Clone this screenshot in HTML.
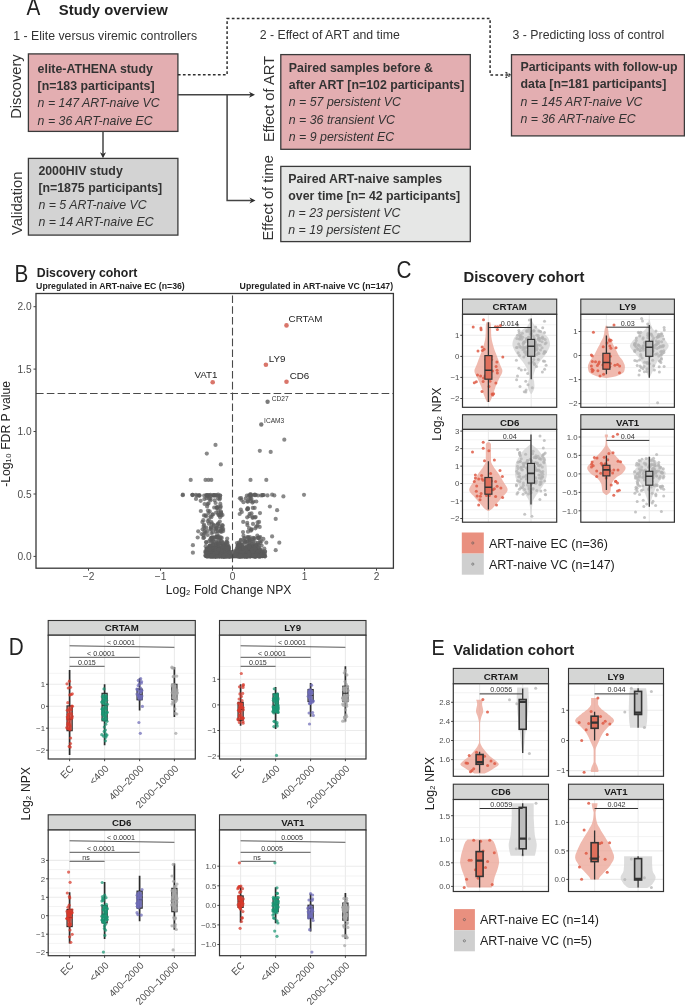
<!DOCTYPE html>
<html><head><meta charset="utf-8"><style>
html,body{margin:0;padding:0;background:#fff;}
svg{display:block;font-family:"Liberation Sans", sans-serif;will-change:transform;}
</style></head><body>
<svg width="685" height="1005" viewBox="0 0 685 1005">
<rect width="685" height="1005" fill="#fff"/>
<text transform="translate(26.6 15.3) scale(0.9 1)" font-size="23" fill="#222">A</text>
<text x="58.8" y="15.4" font-size="14.85" font-weight="bold" fill="#222">Study overview</text>
<text x="13.3" y="40.0" font-size="12.3" fill="#333333">1 - Elite versus viremic controllers</text>
<text x="259.7" y="38.9" font-size="12.3" fill="#333333">2 - Effect of ART and time</text>
<text x="512.6" y="38.6" font-size="12.3" fill="#333333">3 - Predicting loss of control</text>
<rect x="28.4" y="53.9" width="149.5" height="77.5" fill="#e3aeb1" stroke="#3a3a3a" stroke-width="1.3"/>
<text x="37.6" y="72.6" font-size="12.35" font-weight="bold" fill="#333333">elite-ATHENA study</text>
<text x="37.6" y="89.9" font-size="12.35" font-weight="bold" fill="#333333">[n=183 participants]</text>
<text x="37.6" y="107.3" font-size="12.35" font-style="italic" fill="#333333">n = 147 ART-naive VC</text>
<text x="37.6" y="124.6" font-size="12.35" font-style="italic" fill="#333333">n = 36 ART-naive EC</text>
<rect x="28.4" y="158.4" width="149.5" height="76.7" fill="#d3d3d3" stroke="#3a3a3a" stroke-width="1.3"/>
<text x="38.4" y="175.0" font-size="12.35" font-weight="bold" fill="#333333">2000HIV study</text>
<text x="38.4" y="191.9" font-size="12.35" font-weight="bold" fill="#333333">[n=1875 participants]</text>
<text x="38.4" y="209.0" font-size="12.35" font-style="italic" fill="#333333">n = 5 ART-naive VC</text>
<text x="38.4" y="226.2" font-size="12.35" font-style="italic" fill="#333333">n = 14 ART-naive EC</text>
<rect x="280.8" y="54.6" width="189.5" height="94.7" fill="#e3aeb1" stroke="#3a3a3a" stroke-width="1.3"/>
<text x="288.8" y="72.1" font-size="12.35" font-weight="bold" fill="#333333">Paired samples before &amp;</text>
<text x="288.8" y="89.3" font-size="12.35" font-weight="bold" fill="#333333">after ART [n=102 participants]</text>
<text x="288.8" y="106.4" font-size="12.35" font-style="italic" fill="#333333">n = 57 persistent VC</text>
<text x="288.8" y="123.5" font-size="12.35" font-style="italic" fill="#333333">n = 36 transient VC</text>
<text x="288.8" y="140.6" font-size="12.35" font-style="italic" fill="#333333">n = 9 persistent EC</text>
<rect x="280.8" y="166.4" width="189.5" height="75.2" fill="#e6e7e6" stroke="#3a3a3a" stroke-width="1.3"/>
<text x="288.3" y="182.7" font-size="12.35" font-weight="bold" fill="#333333">Paired ART-naive samples</text>
<text x="288.3" y="199.8" font-size="12.35" font-weight="bold" fill="#333333">over time [n= 42 participants]</text>
<text x="288.3" y="216.9" font-size="12.35" font-style="italic" fill="#333333">n = 23 persistent VC</text>
<text x="288.3" y="234.3" font-size="12.35" font-style="italic" fill="#333333">n = 19 persistent EC</text>
<rect x="511.5" y="54.7" width="172.9" height="81.2" fill="#e3aeb1" stroke="#3a3a3a" stroke-width="1.3"/>
<text x="520.5" y="70.5" font-size="12.35" font-weight="bold" fill="#333333">Participants with follow-up</text>
<text x="520.5" y="88.0" font-size="12.35" font-weight="bold" fill="#333333">data [n=181 participants]</text>
<text x="520.5" y="105.5" font-size="12.35" font-style="italic" fill="#333333">n = 145 ART-naive VC</text>
<text x="520.5" y="122.7" font-size="12.35" font-style="italic" fill="#333333">n = 36 ART-naive EC</text>
<text x="21.3" y="86.6" font-size="14.7" text-anchor="middle" fill="#333333" transform="rotate(-90 21.3 86.6)">Discovery</text>
<text x="21.8" y="203.3" font-size="14.7" text-anchor="middle" fill="#333333" transform="rotate(-90 21.8 203.3)">Validation</text>
<text x="274.0" y="99.0" font-size="14.7" text-anchor="middle" fill="#333333" transform="rotate(-90 274.0 99.0)">Effect of ART</text>
<text x="273.3" y="197.7" font-size="14.7" text-anchor="middle" fill="#333333" transform="rotate(-90 273.3 197.7)">Effect of time</text>
<line x1="103.0" y1="131.4" x2="103.0" y2="155.0" stroke="#444" stroke-width="1.5"/>
<polygon points="103.0,158.2 100.0,152.2 103.0,154.0 106.0,152.2" fill="#2e2e2e"/>
<polyline points="177.9,94.8 251.0,94.8" fill="none" stroke="#444" stroke-width="1.5"/>
<polygon points="255.0,94.8 249.0,91.8 250.8,94.8 249.0,97.8" fill="#2e2e2e"/>
<polyline points="227.1,94.8 227.1,200.6 251.5,200.6" fill="none" stroke="#444" stroke-width="1.5"/>
<polygon points="255.5,200.6 249.5,197.6 251.3,200.6 249.5,203.6" fill="#2e2e2e"/>
<polyline points="177.9,74.7 227.1,74.7 227.1,18.6 490.1,18.6 490.1,75.0 510.3,75.0" fill="none" stroke="#2e2e2e" stroke-width="1.5" stroke-dasharray="2.7,2.3"/>
<polyline points="505.5,72.3 510.9,75.0 505.5,77.7" fill="none" stroke="#2e2e2e" stroke-width="1.4" stroke-dasharray="2.2,1.2"/>
<text transform="translate(14.4 281.6) scale(0.9 1)" font-size="23" fill="#222">B</text>
<text x="36.8" y="277.0" font-size="12.3" font-weight="bold" fill="#222">Discovery cohort</text>
<text x="36.1" y="289.1" font-size="8.72" font-weight="bold" fill="#222">Upregulated in ART-naive EC (n=36)</text>
<text x="393.1" y="289.1" font-size="8.72" font-weight="bold" text-anchor="end" fill="#222">Upregulated in ART-naive VC (n=147)</text>
<g fill="#5c5c5c" fill-opacity="0.72"><circle cx="247.4" cy="554.3" r="2.1"/><circle cx="251.0" cy="551.8" r="2.1"/><circle cx="255.7" cy="546.3" r="2.1"/><circle cx="218.8" cy="554.4" r="2.1"/><circle cx="229.5" cy="556.4" r="2.1"/><circle cx="220.9" cy="552.0" r="2.1"/><circle cx="258.8" cy="544.8" r="2.1"/><circle cx="247.4" cy="556.1" r="2.1"/><circle cx="248.8" cy="551.3" r="2.1"/><circle cx="209.7" cy="549.7" r="2.1"/><circle cx="258.1" cy="555.7" r="2.1"/><circle cx="221.6" cy="555.7" r="2.1"/><circle cx="255.7" cy="556.1" r="2.1"/><circle cx="249.6" cy="555.8" r="2.1"/><circle cx="256.0" cy="549.7" r="2.1"/><circle cx="242.6" cy="556.0" r="2.1"/><circle cx="222.4" cy="548.5" r="2.1"/><circle cx="233.9" cy="555.5" r="2.1"/><circle cx="226.5" cy="555.7" r="2.1"/><circle cx="215.5" cy="555.9" r="2.1"/><circle cx="227.5" cy="550.5" r="2.1"/><circle cx="244.7" cy="555.8" r="2.1"/><circle cx="207.8" cy="556.4" r="2.1"/><circle cx="261.6" cy="545.5" r="2.1"/><circle cx="252.6" cy="550.8" r="2.1"/><circle cx="253.3" cy="555.7" r="2.1"/><circle cx="223.6" cy="556.4" r="2.1"/><circle cx="217.0" cy="549.3" r="2.1"/><circle cx="252.4" cy="553.0" r="2.1"/><circle cx="237.9" cy="545.3" r="2.1"/><circle cx="249.0" cy="544.1" r="2.1"/><circle cx="236.6" cy="549.1" r="2.1"/><circle cx="245.3" cy="555.9" r="2.1"/><circle cx="254.1" cy="556.0" r="2.1"/><circle cx="241.6" cy="556.1" r="2.1"/><circle cx="222.1" cy="541.7" r="2.1"/><circle cx="220.2" cy="555.8" r="2.1"/><circle cx="244.6" cy="556.2" r="2.1"/><circle cx="260.5" cy="555.9" r="2.1"/><circle cx="256.2" cy="556.4" r="2.1"/><circle cx="252.1" cy="553.9" r="2.1"/><circle cx="253.9" cy="549.2" r="2.1"/><circle cx="212.2" cy="556.0" r="2.1"/><circle cx="212.2" cy="552.6" r="2.1"/><circle cx="259.9" cy="554.7" r="2.1"/><circle cx="254.7" cy="550.6" r="2.1"/><circle cx="215.3" cy="549.0" r="2.1"/><circle cx="223.3" cy="556.2" r="2.1"/><circle cx="261.9" cy="552.3" r="2.1"/><circle cx="209.8" cy="545.3" r="2.1"/><circle cx="250.2" cy="556.0" r="2.1"/><circle cx="206.4" cy="542.4" r="2.1"/><circle cx="235.5" cy="556.0" r="2.1"/><circle cx="222.1" cy="556.0" r="2.1"/><circle cx="245.4" cy="548.3" r="2.1"/><circle cx="252.8" cy="545.6" r="2.1"/><circle cx="244.3" cy="555.1" r="2.1"/><circle cx="244.0" cy="550.4" r="2.1"/><circle cx="226.9" cy="554.2" r="2.1"/><circle cx="213.2" cy="543.9" r="2.1"/><circle cx="248.0" cy="552.6" r="2.1"/><circle cx="260.2" cy="556.3" r="2.1"/><circle cx="249.9" cy="550.0" r="2.1"/><circle cx="247.0" cy="552.0" r="2.1"/><circle cx="256.3" cy="549.2" r="2.1"/><circle cx="208.8" cy="556.0" r="2.1"/><circle cx="247.5" cy="550.4" r="2.1"/><circle cx="234.9" cy="556.1" r="2.1"/><circle cx="206.3" cy="555.7" r="2.1"/><circle cx="210.0" cy="546.4" r="2.1"/><circle cx="247.5" cy="537.0" r="2.1"/><circle cx="259.0" cy="555.9" r="2.1"/><circle cx="213.1" cy="556.2" r="2.1"/><circle cx="246.9" cy="555.7" r="2.1"/><circle cx="217.3" cy="548.6" r="2.1"/><circle cx="223.8" cy="554.6" r="2.1"/><circle cx="222.2" cy="551.8" r="2.1"/><circle cx="224.4" cy="556.2" r="2.1"/><circle cx="214.9" cy="556.1" r="2.1"/><circle cx="255.1" cy="554.6" r="2.1"/><circle cx="234.3" cy="555.9" r="2.1"/><circle cx="243.8" cy="556.2" r="2.1"/><circle cx="239.0" cy="546.9" r="2.1"/><circle cx="239.7" cy="555.9" r="2.1"/><circle cx="221.4" cy="556.3" r="2.1"/><circle cx="228.7" cy="548.9" r="2.1"/><circle cx="224.6" cy="555.8" r="2.1"/><circle cx="215.1" cy="556.3" r="2.1"/><circle cx="246.0" cy="547.9" r="2.1"/><circle cx="246.7" cy="541.7" r="2.1"/><circle cx="224.1" cy="549.2" r="2.1"/><circle cx="227.8" cy="553.9" r="2.1"/><circle cx="215.8" cy="556.2" r="2.1"/><circle cx="218.5" cy="551.3" r="2.1"/><circle cx="227.3" cy="549.5" r="2.1"/><circle cx="262.4" cy="556.0" r="2.1"/><circle cx="241.1" cy="544.1" r="2.1"/><circle cx="215.0" cy="556.0" r="2.1"/><circle cx="241.5" cy="550.9" r="2.1"/><circle cx="218.5" cy="555.9" r="2.1"/><circle cx="214.1" cy="556.1" r="2.1"/><circle cx="242.6" cy="551.3" r="2.1"/><circle cx="219.9" cy="550.8" r="2.1"/><circle cx="205.9" cy="556.1" r="2.1"/><circle cx="228.3" cy="555.8" r="2.1"/><circle cx="258.6" cy="556.3" r="2.1"/><circle cx="222.9" cy="556.0" r="2.1"/><circle cx="215.7" cy="555.7" r="2.1"/><circle cx="259.9" cy="556.3" r="2.1"/><circle cx="257.0" cy="555.5" r="2.1"/><circle cx="226.4" cy="556.2" r="2.1"/><circle cx="222.7" cy="554.2" r="2.1"/><circle cx="208.3" cy="554.1" r="2.1"/><circle cx="251.7" cy="541.6" r="2.1"/><circle cx="218.9" cy="547.1" r="2.1"/><circle cx="229.2" cy="555.8" r="2.1"/><circle cx="221.6" cy="555.7" r="2.1"/><circle cx="262.6" cy="556.1" r="2.1"/><circle cx="213.8" cy="552.8" r="2.1"/><circle cx="262.8" cy="553.3" r="2.1"/><circle cx="223.5" cy="556.4" r="2.1"/><circle cx="218.6" cy="556.4" r="2.1"/><circle cx="225.2" cy="555.7" r="2.1"/><circle cx="225.9" cy="556.4" r="2.1"/><circle cx="258.2" cy="556.2" r="2.1"/><circle cx="254.4" cy="556.2" r="2.1"/><circle cx="235.9" cy="555.7" r="2.1"/><circle cx="243.5" cy="548.4" r="2.1"/><circle cx="241.2" cy="550.9" r="2.1"/><circle cx="248.3" cy="545.8" r="2.1"/><circle cx="233.4" cy="556.4" r="2.1"/><circle cx="240.5" cy="553.0" r="2.1"/><circle cx="238.8" cy="547.5" r="2.1"/><circle cx="253.1" cy="556.0" r="2.1"/><circle cx="242.5" cy="556.2" r="2.1"/><circle cx="223.4" cy="548.1" r="2.1"/><circle cx="237.8" cy="555.8" r="2.1"/><circle cx="249.9" cy="555.8" r="2.1"/><circle cx="219.3" cy="539.5" r="2.1"/><circle cx="240.0" cy="555.7" r="2.1"/><circle cx="255.5" cy="556.0" r="2.1"/><circle cx="253.7" cy="556.4" r="2.1"/><circle cx="214.9" cy="550.2" r="2.1"/><circle cx="239.8" cy="555.9" r="2.1"/><circle cx="245.1" cy="542.9" r="2.1"/><circle cx="241.2" cy="556.3" r="2.1"/><circle cx="218.0" cy="555.8" r="2.1"/><circle cx="257.8" cy="543.2" r="2.1"/><circle cx="259.8" cy="556.1" r="2.1"/><circle cx="233.9" cy="555.9" r="2.1"/><circle cx="210.9" cy="555.7" r="2.1"/><circle cx="255.6" cy="555.7" r="2.1"/><circle cx="250.1" cy="556.1" r="2.1"/><circle cx="222.9" cy="555.6" r="2.1"/><circle cx="246.5" cy="556.3" r="2.1"/><circle cx="208.9" cy="550.5" r="2.1"/><circle cx="214.7" cy="547.5" r="2.1"/><circle cx="244.1" cy="556.2" r="2.1"/><circle cx="217.5" cy="556.1" r="2.1"/><circle cx="260.8" cy="556.3" r="2.1"/><circle cx="205.6" cy="551.0" r="2.1"/><circle cx="258.4" cy="548.5" r="2.1"/><circle cx="220.6" cy="555.8" r="2.1"/><circle cx="221.9" cy="551.8" r="2.1"/><circle cx="244.5" cy="550.0" r="2.1"/><circle cx="224.8" cy="544.1" r="2.1"/><circle cx="210.5" cy="556.0" r="2.1"/><circle cx="213.5" cy="553.9" r="2.1"/><circle cx="216.5" cy="542.3" r="2.1"/><circle cx="247.5" cy="552.7" r="2.1"/><circle cx="226.5" cy="550.2" r="2.1"/><circle cx="239.2" cy="543.4" r="2.1"/><circle cx="215.3" cy="550.2" r="2.1"/><circle cx="223.0" cy="556.0" r="2.1"/><circle cx="213.4" cy="545.0" r="2.1"/><circle cx="219.1" cy="551.6" r="2.1"/><circle cx="244.4" cy="555.4" r="2.1"/><circle cx="243.6" cy="551.4" r="2.1"/><circle cx="229.1" cy="553.0" r="2.1"/><circle cx="236.9" cy="553.0" r="2.1"/><circle cx="214.5" cy="549.5" r="2.1"/><circle cx="257.7" cy="551.1" r="2.1"/><circle cx="226.4" cy="555.8" r="2.1"/><circle cx="206.7" cy="548.5" r="2.1"/><circle cx="220.7" cy="550.1" r="2.1"/><circle cx="249.2" cy="555.8" r="2.1"/><circle cx="218.1" cy="549.6" r="2.1"/><circle cx="205.4" cy="551.9" r="2.1"/><circle cx="225.1" cy="555.9" r="2.1"/><circle cx="217.7" cy="544.3" r="2.1"/><circle cx="227.3" cy="546.4" r="2.1"/><circle cx="226.0" cy="555.8" r="2.1"/><circle cx="238.8" cy="542.5" r="2.1"/><circle cx="212.9" cy="551.3" r="2.1"/><circle cx="209.2" cy="546.5" r="2.1"/><circle cx="207.0" cy="551.6" r="2.1"/><circle cx="240.9" cy="540.4" r="2.1"/><circle cx="255.4" cy="549.2" r="2.1"/><circle cx="215.5" cy="556.0" r="2.1"/><circle cx="249.9" cy="544.8" r="2.1"/><circle cx="226.8" cy="549.0" r="2.1"/><circle cx="255.6" cy="556.2" r="2.1"/><circle cx="247.9" cy="555.7" r="2.1"/><circle cx="221.0" cy="556.1" r="2.1"/><circle cx="255.1" cy="556.4" r="2.1"/><circle cx="237.9" cy="555.3" r="2.1"/><circle cx="260.1" cy="550.8" r="2.1"/><circle cx="213.0" cy="556.3" r="2.1"/><circle cx="222.6" cy="551.3" r="2.1"/><circle cx="231.2" cy="554.5" r="2.1"/><circle cx="218.9" cy="548.6" r="2.1"/><circle cx="244.4" cy="549.6" r="2.1"/><circle cx="229.7" cy="556.3" r="2.1"/><circle cx="214.5" cy="553.2" r="2.1"/><circle cx="214.1" cy="555.7" r="2.1"/><circle cx="215.4" cy="556.3" r="2.1"/><circle cx="242.4" cy="556.3" r="2.1"/><circle cx="258.0" cy="555.8" r="2.1"/><circle cx="216.6" cy="543.5" r="2.1"/><circle cx="210.5" cy="555.8" r="2.1"/><circle cx="218.0" cy="549.4" r="2.1"/><circle cx="215.4" cy="555.8" r="2.1"/><circle cx="250.7" cy="556.2" r="2.1"/><circle cx="228.0" cy="556.0" r="2.1"/><circle cx="215.0" cy="556.1" r="2.1"/><circle cx="216.6" cy="546.4" r="2.1"/><circle cx="249.5" cy="540.0" r="2.1"/><circle cx="234.1" cy="556.2" r="2.1"/><circle cx="244.2" cy="556.1" r="2.1"/><circle cx="221.1" cy="551.1" r="2.1"/><circle cx="249.0" cy="555.9" r="2.1"/><circle cx="254.6" cy="556.1" r="2.1"/><circle cx="221.6" cy="551.5" r="2.1"/><circle cx="216.0" cy="547.9" r="2.1"/><circle cx="223.1" cy="556.3" r="2.1"/><circle cx="215.6" cy="556.0" r="2.1"/><circle cx="231.3" cy="556.2" r="2.1"/><circle cx="236.5" cy="555.8" r="2.1"/><circle cx="213.1" cy="550.1" r="2.1"/><circle cx="223.3" cy="550.5" r="2.1"/><circle cx="228.2" cy="556.2" r="2.1"/><circle cx="210.8" cy="556.0" r="2.1"/><circle cx="209.2" cy="541.1" r="2.1"/><circle cx="241.6" cy="555.7" r="2.1"/><circle cx="228.7" cy="555.7" r="2.1"/><circle cx="231.3" cy="554.3" r="2.1"/><circle cx="210.5" cy="551.4" r="2.1"/><circle cx="248.7" cy="555.8" r="2.1"/><circle cx="265.1" cy="556.3" r="2.1"/><circle cx="227.4" cy="547.7" r="2.1"/><circle cx="250.1" cy="556.2" r="2.1"/><circle cx="225.6" cy="552.7" r="2.1"/><circle cx="223.1" cy="555.7" r="2.1"/><circle cx="209.5" cy="555.7" r="2.1"/><circle cx="253.7" cy="555.9" r="2.1"/><circle cx="234.1" cy="556.0" r="2.1"/><circle cx="257.3" cy="555.7" r="2.1"/><circle cx="246.7" cy="556.1" r="2.1"/><circle cx="207.7" cy="555.6" r="2.1"/><circle cx="223.7" cy="547.4" r="2.1"/><circle cx="247.6" cy="541.1" r="2.1"/><circle cx="252.1" cy="555.1" r="2.1"/><circle cx="212.8" cy="556.2" r="2.1"/><circle cx="242.5" cy="556.1" r="2.1"/><circle cx="253.5" cy="554.7" r="2.1"/><circle cx="213.3" cy="555.8" r="2.1"/><circle cx="244.2" cy="551.1" r="2.1"/><circle cx="255.4" cy="551.4" r="2.1"/><circle cx="209.0" cy="554.4" r="2.1"/><circle cx="221.2" cy="545.8" r="2.1"/><circle cx="250.7" cy="555.8" r="2.1"/><circle cx="220.5" cy="556.0" r="2.1"/><circle cx="210.1" cy="555.8" r="2.1"/><circle cx="255.9" cy="556.3" r="2.1"/><circle cx="209.1" cy="556.1" r="2.1"/><circle cx="247.5" cy="555.6" r="2.1"/><circle cx="245.4" cy="541.9" r="2.1"/><circle cx="221.7" cy="556.3" r="2.1"/><circle cx="240.2" cy="554.2" r="2.1"/><circle cx="221.8" cy="556.0" r="2.1"/><circle cx="242.4" cy="546.8" r="2.1"/><circle cx="239.4" cy="555.7" r="2.1"/><circle cx="243.8" cy="551.1" r="2.1"/><circle cx="219.7" cy="554.5" r="2.1"/><circle cx="225.9" cy="547.0" r="2.1"/><circle cx="249.9" cy="552.4" r="2.1"/><circle cx="254.0" cy="555.8" r="2.1"/><circle cx="235.1" cy="555.8" r="2.1"/><circle cx="209.8" cy="555.8" r="2.1"/><circle cx="205.7" cy="546.2" r="2.1"/><circle cx="249.7" cy="540.6" r="2.1"/><circle cx="239.5" cy="555.7" r="2.1"/><circle cx="255.4" cy="555.9" r="2.1"/><circle cx="257.1" cy="552.5" r="2.1"/><circle cx="234.8" cy="556.0" r="2.1"/><circle cx="227.4" cy="542.4" r="2.1"/><circle cx="236.4" cy="556.0" r="2.1"/><circle cx="229.9" cy="555.8" r="2.1"/><circle cx="219.1" cy="555.5" r="2.1"/><circle cx="212.8" cy="556.2" r="2.1"/><circle cx="251.4" cy="556.0" r="2.1"/><circle cx="242.2" cy="550.7" r="2.1"/><circle cx="257.3" cy="555.7" r="2.1"/><circle cx="252.5" cy="555.7" r="2.1"/><circle cx="221.8" cy="556.3" r="2.1"/><circle cx="236.3" cy="555.7" r="2.1"/><circle cx="258.4" cy="552.9" r="2.1"/><circle cx="216.3" cy="552.9" r="2.1"/><circle cx="215.4" cy="556.2" r="2.1"/><circle cx="229.9" cy="555.7" r="2.1"/><circle cx="223.1" cy="556.0" r="2.1"/><circle cx="260.3" cy="555.2" r="2.1"/><circle cx="222.2" cy="556.2" r="2.1"/><circle cx="248.8" cy="553.8" r="2.1"/><circle cx="256.7" cy="552.9" r="2.1"/><circle cx="260.0" cy="554.7" r="2.1"/><circle cx="217.4" cy="555.8" r="2.1"/><circle cx="207.8" cy="555.8" r="2.1"/><circle cx="249.8" cy="546.0" r="2.1"/><circle cx="235.8" cy="556.4" r="2.1"/><circle cx="262.6" cy="556.0" r="2.1"/><circle cx="253.7" cy="545.5" r="2.1"/><circle cx="243.7" cy="555.8" r="2.1"/><circle cx="215.8" cy="555.8" r="2.1"/><circle cx="238.5" cy="554.3" r="2.1"/><circle cx="212.9" cy="556.4" r="2.1"/><circle cx="245.6" cy="553.4" r="2.1"/><circle cx="239.8" cy="555.9" r="2.1"/><circle cx="248.2" cy="555.9" r="2.1"/><circle cx="240.5" cy="553.6" r="2.1"/><circle cx="207.2" cy="552.8" r="2.1"/><circle cx="250.6" cy="553.5" r="2.1"/><circle cx="215.2" cy="556.3" r="2.1"/><circle cx="229.0" cy="554.6" r="2.1"/><circle cx="241.2" cy="548.3" r="2.1"/><circle cx="237.8" cy="545.8" r="2.1"/><circle cx="234.9" cy="553.9" r="2.1"/><circle cx="226.7" cy="549.9" r="2.1"/><circle cx="259.8" cy="551.4" r="2.1"/><circle cx="252.7" cy="546.7" r="2.1"/><circle cx="223.7" cy="552.5" r="2.1"/><circle cx="219.1" cy="550.3" r="2.1"/><circle cx="258.4" cy="551.3" r="2.1"/><circle cx="248.8" cy="555.8" r="2.1"/><circle cx="257.2" cy="552.0" r="2.1"/><circle cx="248.3" cy="555.8" r="2.1"/><circle cx="223.9" cy="555.8" r="2.1"/><circle cx="254.8" cy="556.3" r="2.1"/><circle cx="244.1" cy="551.1" r="2.1"/><circle cx="220.1" cy="554.5" r="2.1"/><circle cx="244.9" cy="541.2" r="2.1"/><circle cx="252.8" cy="547.4" r="2.1"/><circle cx="214.6" cy="550.2" r="2.1"/><circle cx="208.0" cy="555.9" r="2.1"/><circle cx="254.4" cy="552.0" r="2.1"/><circle cx="216.9" cy="548.0" r="2.1"/><circle cx="246.1" cy="556.3" r="2.1"/><circle cx="243.0" cy="555.6" r="2.1"/><circle cx="241.4" cy="555.8" r="2.1"/><circle cx="241.9" cy="553.8" r="2.1"/><circle cx="261.2" cy="552.1" r="2.1"/><circle cx="237.2" cy="551.1" r="2.1"/><circle cx="240.6" cy="544.7" r="2.1"/><circle cx="217.6" cy="552.7" r="2.1"/><circle cx="226.2" cy="556.3" r="2.1"/><circle cx="220.9" cy="549.5" r="2.1"/><circle cx="221.2" cy="550.8" r="2.1"/><circle cx="223.0" cy="544.3" r="2.1"/><circle cx="258.6" cy="547.4" r="2.1"/><circle cx="254.8" cy="555.7" r="2.1"/><circle cx="219.0" cy="548.5" r="2.1"/><circle cx="233.9" cy="555.9" r="2.1"/><circle cx="237.9" cy="551.6" r="2.1"/><circle cx="210.6" cy="548.9" r="2.1"/><circle cx="211.6" cy="547.0" r="2.1"/><circle cx="230.0" cy="556.0" r="2.1"/><circle cx="225.2" cy="545.1" r="2.1"/><circle cx="230.1" cy="555.9" r="2.1"/><circle cx="263.5" cy="554.3" r="2.1"/><circle cx="240.6" cy="556.0" r="2.1"/><circle cx="210.1" cy="555.8" r="2.1"/><circle cx="249.9" cy="555.4" r="2.1"/><circle cx="220.5" cy="550.2" r="2.1"/><circle cx="219.4" cy="551.0" r="2.1"/><circle cx="218.1" cy="554.8" r="2.1"/><circle cx="211.8" cy="548.6" r="2.1"/><circle cx="256.6" cy="555.8" r="2.1"/><circle cx="241.5" cy="556.1" r="2.1"/><circle cx="253.0" cy="542.2" r="2.1"/><circle cx="222.0" cy="555.2" r="2.1"/><circle cx="234.9" cy="551.9" r="2.1"/><circle cx="209.8" cy="546.2" r="2.1"/><circle cx="213.1" cy="552.0" r="2.1"/><circle cx="242.8" cy="552.8" r="2.1"/><circle cx="219.9" cy="556.3" r="2.1"/><circle cx="245.2" cy="555.7" r="2.1"/><circle cx="226.4" cy="542.3" r="2.1"/><circle cx="241.9" cy="555.5" r="2.1"/><circle cx="237.5" cy="551.0" r="2.1"/><circle cx="257.2" cy="552.8" r="2.1"/><circle cx="239.3" cy="556.2" r="2.1"/><circle cx="259.7" cy="556.1" r="2.1"/><circle cx="236.5" cy="556.2" r="2.1"/><circle cx="243.3" cy="556.2" r="2.1"/><circle cx="217.9" cy="548.9" r="2.1"/><circle cx="237.0" cy="555.8" r="2.1"/><circle cx="264.3" cy="548.5" r="2.1"/><circle cx="213.6" cy="555.8" r="2.1"/><circle cx="243.0" cy="554.6" r="2.1"/><circle cx="257.6" cy="556.0" r="2.1"/><circle cx="253.0" cy="539.5" r="2.1"/><circle cx="218.4" cy="554.4" r="2.1"/><circle cx="244.1" cy="555.3" r="2.1"/><circle cx="212.0" cy="550.9" r="2.1"/><circle cx="258.9" cy="551.2" r="2.1"/><circle cx="213.8" cy="548.0" r="2.1"/><circle cx="217.0" cy="547.7" r="2.1"/><circle cx="248.7" cy="551.1" r="2.1"/><circle cx="229.2" cy="552.6" r="2.1"/><circle cx="224.6" cy="556.4" r="2.1"/><circle cx="222.6" cy="546.2" r="2.1"/><circle cx="211.3" cy="541.7" r="2.1"/><circle cx="225.1" cy="556.3" r="2.1"/><circle cx="216.4" cy="541.1" r="2.1"/><circle cx="218.2" cy="546.7" r="2.1"/><circle cx="219.0" cy="542.7" r="2.1"/><circle cx="216.0" cy="544.4" r="2.1"/><circle cx="244.2" cy="554.1" r="2.1"/><circle cx="206.0" cy="552.8" r="2.1"/><circle cx="208.6" cy="548.0" r="2.1"/><circle cx="220.4" cy="551.7" r="2.1"/><circle cx="227.9" cy="550.6" r="2.1"/><circle cx="213.8" cy="537.5" r="2.1"/><circle cx="245.7" cy="547.5" r="2.1"/><circle cx="224.2" cy="556.0" r="2.1"/><circle cx="239.7" cy="555.4" r="2.1"/><circle cx="229.3" cy="555.1" r="2.1"/><circle cx="239.2" cy="548.5" r="2.1"/><circle cx="249.7" cy="552.8" r="2.1"/><circle cx="227.1" cy="550.3" r="2.1"/><circle cx="217.7" cy="555.9" r="2.1"/><circle cx="250.8" cy="548.9" r="2.1"/><circle cx="216.7" cy="555.7" r="2.1"/><circle cx="217.2" cy="547.8" r="2.1"/><circle cx="228.4" cy="546.2" r="2.1"/><circle cx="229.0" cy="556.2" r="2.1"/><circle cx="214.3" cy="551.0" r="2.1"/><circle cx="213.1" cy="555.8" r="2.1"/><circle cx="238.1" cy="556.2" r="2.1"/><circle cx="244.5" cy="554.0" r="2.1"/><circle cx="235.0" cy="555.8" r="2.1"/><circle cx="260.2" cy="549.9" r="2.1"/><circle cx="223.4" cy="556.3" r="2.1"/><circle cx="242.3" cy="551.1" r="2.1"/><circle cx="223.7" cy="545.8" r="2.1"/><circle cx="245.9" cy="550.1" r="2.1"/><circle cx="216.3" cy="556.0" r="2.1"/><circle cx="262.8" cy="554.2" r="2.1"/><circle cx="223.1" cy="552.8" r="2.1"/><circle cx="220.6" cy="552.9" r="2.1"/><circle cx="206.8" cy="548.6" r="2.1"/><circle cx="223.2" cy="555.1" r="2.1"/><circle cx="253.1" cy="556.1" r="2.1"/><circle cx="234.3" cy="555.1" r="2.1"/><circle cx="237.8" cy="556.3" r="2.1"/><circle cx="221.5" cy="556.1" r="2.1"/><circle cx="217.9" cy="554.5" r="2.1"/><circle cx="264.9" cy="556.3" r="2.1"/><circle cx="225.2" cy="544.8" r="2.1"/><circle cx="239.4" cy="551.5" r="2.1"/><circle cx="242.9" cy="555.9" r="2.1"/><circle cx="237.9" cy="556.3" r="2.1"/><circle cx="244.3" cy="555.8" r="2.1"/><circle cx="249.4" cy="543.1" r="2.1"/><circle cx="221.4" cy="552.9" r="2.1"/><circle cx="215.1" cy="556.0" r="2.1"/><circle cx="218.1" cy="548.4" r="2.1"/><circle cx="260.4" cy="551.9" r="2.1"/><circle cx="209.7" cy="553.5" r="2.1"/><circle cx="246.8" cy="553.3" r="2.1"/><circle cx="217.2" cy="553.3" r="2.1"/><circle cx="210.6" cy="555.7" r="2.1"/><circle cx="247.6" cy="553.1" r="2.1"/><circle cx="218.9" cy="552.4" r="2.1"/><circle cx="223.5" cy="554.7" r="2.1"/><circle cx="240.5" cy="547.4" r="2.1"/><circle cx="245.2" cy="556.3" r="2.1"/><circle cx="221.8" cy="553.7" r="2.1"/><circle cx="250.1" cy="556.3" r="2.1"/><circle cx="212.2" cy="555.8" r="2.1"/><circle cx="257.4" cy="544.6" r="2.1"/><circle cx="217.7" cy="555.7" r="2.1"/><circle cx="206.8" cy="549.4" r="2.1"/><circle cx="223.6" cy="552.8" r="2.1"/><circle cx="220.8" cy="555.7" r="2.1"/><circle cx="223.5" cy="555.8" r="2.1"/><circle cx="262.2" cy="556.2" r="2.1"/><circle cx="225.9" cy="550.4" r="2.1"/><circle cx="230.5" cy="552.0" r="2.1"/><circle cx="224.2" cy="553.8" r="2.1"/><circle cx="213.0" cy="556.4" r="2.1"/><circle cx="224.6" cy="555.4" r="2.1"/><circle cx="213.9" cy="556.2" r="2.1"/><circle cx="229.0" cy="555.8" r="2.1"/><circle cx="221.5" cy="548.4" r="2.1"/><circle cx="238.7" cy="549.8" r="2.1"/><circle cx="240.0" cy="556.3" r="2.1"/><circle cx="252.4" cy="551.2" r="2.1"/><circle cx="229.0" cy="548.9" r="2.1"/><circle cx="249.4" cy="555.9" r="2.1"/><circle cx="246.6" cy="556.1" r="2.1"/><circle cx="219.7" cy="555.2" r="2.1"/><circle cx="220.2" cy="538.5" r="2.1"/><circle cx="223.2" cy="555.7" r="2.1"/><circle cx="262.7" cy="553.3" r="2.1"/><circle cx="222.5" cy="545.3" r="2.1"/><circle cx="239.7" cy="548.0" r="2.1"/><circle cx="216.1" cy="556.2" r="2.1"/><circle cx="230.4" cy="555.7" r="2.1"/><circle cx="250.0" cy="556.3" r="2.1"/><circle cx="216.1" cy="549.3" r="2.1"/><circle cx="259.9" cy="554.3" r="2.1"/><circle cx="221.0" cy="551.7" r="2.1"/><circle cx="249.4" cy="555.7" r="2.1"/><circle cx="242.4" cy="544.6" r="2.1"/><circle cx="220.3" cy="552.5" r="2.1"/><circle cx="218.8" cy="556.0" r="2.1"/><circle cx="216.3" cy="555.9" r="2.1"/><circle cx="239.2" cy="550.0" r="2.1"/><circle cx="249.5" cy="555.9" r="2.1"/><circle cx="229.2" cy="556.3" r="2.1"/><circle cx="255.2" cy="554.9" r="2.1"/><circle cx="225.4" cy="556.2" r="2.1"/><circle cx="214.0" cy="553.5" r="2.1"/><circle cx="224.0" cy="556.3" r="2.1"/><circle cx="256.5" cy="556.1" r="2.1"/><circle cx="227.6" cy="555.8" r="2.1"/><circle cx="238.7" cy="555.9" r="2.1"/><circle cx="226.0" cy="556.0" r="2.1"/><circle cx="242.8" cy="555.9" r="2.1"/><circle cx="213.4" cy="556.0" r="2.1"/><circle cx="219.8" cy="551.9" r="2.1"/><circle cx="243.8" cy="551.1" r="2.1"/><circle cx="250.1" cy="555.8" r="2.1"/><circle cx="244.4" cy="556.2" r="2.1"/><circle cx="227.0" cy="555.8" r="2.1"/><circle cx="253.7" cy="552.4" r="2.1"/><circle cx="238.8" cy="556.4" r="2.1"/><circle cx="215.3" cy="554.9" r="2.1"/><circle cx="213.0" cy="540.7" r="2.1"/><circle cx="206.7" cy="556.3" r="2.1"/><circle cx="241.2" cy="547.9" r="2.1"/><circle cx="259.8" cy="553.5" r="2.1"/><circle cx="239.8" cy="553.6" r="2.1"/><circle cx="254.0" cy="555.9" r="2.1"/><circle cx="251.8" cy="556.2" r="2.1"/><circle cx="249.7" cy="555.8" r="2.1"/><circle cx="247.2" cy="556.3" r="2.1"/><circle cx="220.4" cy="555.0" r="2.1"/><circle cx="216.8" cy="551.3" r="2.1"/><circle cx="248.8" cy="553.1" r="2.1"/><circle cx="222.4" cy="552.9" r="2.1"/><circle cx="230.2" cy="555.8" r="2.1"/><circle cx="210.2" cy="548.4" r="2.1"/><circle cx="216.9" cy="556.2" r="2.1"/><circle cx="242.2" cy="551.0" r="2.1"/><circle cx="211.9" cy="547.8" r="2.1"/><circle cx="240.8" cy="556.2" r="2.1"/><circle cx="221.7" cy="556.0" r="2.1"/><circle cx="253.8" cy="556.0" r="2.1"/><circle cx="212.0" cy="556.1" r="2.1"/><circle cx="253.8" cy="555.7" r="2.1"/><circle cx="247.3" cy="556.4" r="2.1"/><circle cx="225.6" cy="556.1" r="2.1"/><circle cx="239.6" cy="556.4" r="2.1"/><circle cx="230.5" cy="555.9" r="2.1"/><circle cx="255.3" cy="556.2" r="2.1"/><circle cx="244.8" cy="556.4" r="2.1"/><circle cx="215.3" cy="548.7" r="2.1"/><circle cx="248.9" cy="554.8" r="2.1"/><circle cx="250.0" cy="552.0" r="2.1"/><circle cx="222.1" cy="556.0" r="2.1"/><circle cx="222.3" cy="556.0" r="2.1"/><circle cx="261.4" cy="541.2" r="2.1"/><circle cx="217.5" cy="556.2" r="2.1"/><circle cx="227.4" cy="556.1" r="2.1"/><circle cx="223.7" cy="546.3" r="2.1"/><circle cx="217.9" cy="545.0" r="2.1"/><circle cx="223.8" cy="551.1" r="2.1"/><circle cx="226.8" cy="552.1" r="2.1"/><circle cx="223.6" cy="555.7" r="2.1"/><circle cx="221.9" cy="555.8" r="2.1"/><circle cx="223.0" cy="556.1" r="2.1"/><circle cx="225.4" cy="546.8" r="2.1"/><circle cx="220.7" cy="554.1" r="2.1"/><circle cx="248.5" cy="552.8" r="2.1"/><circle cx="210.0" cy="555.8" r="2.1"/><circle cx="210.3" cy="556.4" r="2.1"/><circle cx="223.1" cy="546.0" r="2.1"/><circle cx="244.6" cy="538.4" r="2.1"/><circle cx="240.4" cy="555.9" r="2.1"/><circle cx="250.8" cy="556.0" r="2.1"/><circle cx="206.9" cy="549.0" r="2.1"/><circle cx="216.9" cy="548.6" r="2.1"/><circle cx="212.3" cy="555.4" r="2.1"/><circle cx="224.4" cy="554.4" r="2.1"/><circle cx="234.9" cy="551.1" r="2.1"/><circle cx="228.9" cy="547.4" r="2.1"/><circle cx="217.9" cy="554.9" r="2.1"/><circle cx="254.4" cy="555.7" r="2.1"/><circle cx="229.0" cy="556.3" r="2.1"/><circle cx="228.3" cy="550.0" r="2.1"/><circle cx="250.9" cy="556.1" r="2.1"/><circle cx="253.6" cy="551.4" r="2.1"/><circle cx="215.3" cy="552.4" r="2.1"/><circle cx="222.5" cy="555.8" r="2.1"/><circle cx="245.3" cy="550.3" r="2.1"/><circle cx="224.9" cy="548.5" r="2.1"/><circle cx="210.2" cy="545.6" r="2.1"/><circle cx="221.6" cy="552.2" r="2.1"/><circle cx="234.6" cy="556.0" r="2.1"/><circle cx="239.7" cy="556.1" r="2.1"/><circle cx="251.8" cy="546.8" r="2.1"/><circle cx="214.9" cy="549.3" r="2.1"/><circle cx="227.3" cy="556.3" r="2.1"/><circle cx="248.0" cy="556.3" r="2.1"/><circle cx="211.3" cy="555.9" r="2.1"/><circle cx="248.3" cy="556.2" r="2.1"/><circle cx="224.2" cy="547.2" r="2.1"/><circle cx="247.1" cy="546.9" r="2.1"/><circle cx="216.6" cy="556.3" r="2.1"/><circle cx="215.8" cy="551.7" r="2.1"/><circle cx="229.7" cy="555.8" r="2.1"/><circle cx="248.4" cy="555.2" r="2.1"/><circle cx="224.4" cy="555.3" r="2.1"/><circle cx="242.7" cy="554.7" r="2.1"/><circle cx="238.1" cy="548.4" r="2.1"/><circle cx="242.9" cy="556.0" r="2.1"/><circle cx="263.4" cy="538.9" r="2.1"/><circle cx="252.7" cy="554.3" r="2.1"/><circle cx="244.5" cy="547.1" r="2.1"/><circle cx="217.2" cy="555.9" r="2.1"/><circle cx="205.7" cy="553.1" r="2.1"/><circle cx="211.5" cy="546.0" r="2.1"/><circle cx="216.2" cy="553.9" r="2.1"/><circle cx="220.3" cy="543.1" r="2.1"/><circle cx="258.2" cy="556.2" r="2.1"/><circle cx="243.1" cy="551.4" r="2.1"/><circle cx="250.4" cy="551.4" r="2.1"/><circle cx="231.6" cy="556.4" r="2.1"/><circle cx="211.6" cy="556.3" r="2.1"/><circle cx="227.4" cy="556.2" r="2.1"/><circle cx="251.6" cy="547.2" r="2.1"/><circle cx="224.2" cy="556.1" r="2.1"/><circle cx="213.8" cy="548.0" r="2.1"/><circle cx="213.2" cy="555.7" r="2.1"/><circle cx="209.2" cy="552.6" r="2.1"/><circle cx="226.2" cy="555.7" r="2.1"/><circle cx="253.3" cy="555.7" r="2.1"/><circle cx="223.4" cy="554.2" r="2.1"/><circle cx="219.3" cy="556.2" r="2.1"/><circle cx="208.4" cy="556.3" r="2.1"/><circle cx="239.0" cy="556.4" r="2.1"/><circle cx="225.7" cy="555.7" r="2.1"/><circle cx="225.7" cy="555.7" r="2.1"/><circle cx="213.2" cy="555.9" r="2.1"/><circle cx="210.1" cy="556.1" r="2.1"/><circle cx="255.0" cy="548.5" r="2.1"/><circle cx="220.4" cy="554.1" r="2.1"/><circle cx="228.2" cy="556.2" r="2.1"/><circle cx="216.8" cy="555.8" r="2.1"/><circle cx="240.9" cy="555.7" r="2.1"/><circle cx="240.8" cy="550.4" r="2.1"/><circle cx="258.0" cy="555.7" r="2.1"/><circle cx="250.3" cy="549.4" r="2.1"/><circle cx="229.3" cy="556.3" r="2.1"/><circle cx="228.5" cy="552.6" r="2.1"/><circle cx="224.6" cy="550.7" r="2.1"/><circle cx="258.7" cy="551.7" r="2.1"/><circle cx="246.9" cy="549.2" r="2.1"/><circle cx="240.3" cy="555.8" r="2.1"/><circle cx="207.5" cy="556.2" r="2.1"/><circle cx="227.5" cy="556.2" r="2.1"/><circle cx="220.8" cy="556.2" r="2.1"/><circle cx="265.0" cy="551.6" r="2.1"/><circle cx="263.3" cy="555.9" r="2.1"/><circle cx="219.3" cy="556.3" r="2.1"/><circle cx="205.3" cy="555.6" r="2.1"/><circle cx="244.9" cy="556.1" r="2.1"/><circle cx="247.2" cy="546.0" r="2.1"/><circle cx="252.5" cy="554.6" r="2.1"/><circle cx="255.5" cy="551.0" r="2.1"/><circle cx="227.3" cy="551.3" r="2.1"/><circle cx="212.4" cy="555.8" r="2.1"/><circle cx="253.2" cy="545.9" r="2.1"/><circle cx="207.9" cy="555.7" r="2.1"/><circle cx="226.9" cy="555.6" r="2.1"/><circle cx="240.1" cy="555.2" r="2.1"/><circle cx="245.2" cy="550.8" r="2.1"/><circle cx="259.1" cy="555.9" r="2.1"/><circle cx="239.2" cy="551.8" r="2.1"/><circle cx="226.9" cy="555.7" r="2.1"/><circle cx="247.0" cy="553.1" r="2.1"/><circle cx="239.4" cy="549.3" r="2.1"/><circle cx="224.4" cy="556.2" r="2.1"/><circle cx="210.7" cy="548.4" r="2.1"/><circle cx="240.7" cy="556.2" r="2.1"/><circle cx="230.9" cy="552.0" r="2.1"/><circle cx="246.4" cy="555.7" r="2.1"/><circle cx="220.3" cy="555.7" r="2.1"/><circle cx="227.2" cy="552.6" r="2.1"/><circle cx="218.3" cy="555.8" r="2.1"/><circle cx="252.3" cy="550.5" r="2.1"/><circle cx="249.4" cy="556.1" r="2.1"/><circle cx="214.2" cy="551.7" r="2.1"/><circle cx="243.0" cy="553.2" r="2.1"/><circle cx="216.3" cy="555.9" r="2.1"/><circle cx="226.0" cy="556.2" r="2.1"/><circle cx="252.5" cy="556.1" r="2.1"/><circle cx="218.5" cy="551.1" r="2.1"/><circle cx="240.6" cy="556.4" r="2.1"/><circle cx="224.2" cy="556.2" r="2.1"/><circle cx="218.2" cy="548.7" r="2.1"/><circle cx="257.9" cy="555.8" r="2.1"/><circle cx="225.3" cy="556.1" r="2.1"/><circle cx="235.8" cy="555.8" r="2.1"/><circle cx="224.2" cy="555.7" r="2.1"/><circle cx="229.9" cy="555.7" r="2.1"/><circle cx="245.8" cy="556.4" r="2.1"/><circle cx="207.8" cy="552.7" r="2.1"/><circle cx="256.1" cy="546.3" r="2.1"/><circle cx="235.1" cy="555.7" r="2.1"/><circle cx="247.1" cy="552.2" r="2.1"/><circle cx="249.4" cy="548.9" r="2.1"/><circle cx="225.2" cy="547.8" r="2.1"/><circle cx="244.3" cy="556.3" r="2.1"/><circle cx="238.2" cy="555.7" r="2.1"/><circle cx="253.1" cy="555.6" r="2.1"/><circle cx="227.6" cy="544.7" r="2.1"/><circle cx="251.1" cy="548.9" r="2.1"/><circle cx="237.1" cy="547.6" r="2.1"/><circle cx="226.7" cy="553.6" r="2.1"/><circle cx="221.0" cy="555.7" r="2.1"/><circle cx="241.0" cy="555.3" r="2.1"/><circle cx="229.1" cy="556.2" r="2.1"/><circle cx="218.4" cy="549.8" r="2.1"/><circle cx="249.8" cy="547.1" r="2.1"/><circle cx="243.2" cy="552.6" r="2.1"/><circle cx="236.2" cy="555.2" r="2.1"/><circle cx="256.2" cy="556.0" r="2.1"/><circle cx="222.9" cy="542.9" r="2.1"/><circle cx="238.6" cy="552.8" r="2.1"/><circle cx="254.2" cy="556.3" r="2.1"/><circle cx="245.2" cy="555.0" r="2.1"/><circle cx="210.9" cy="556.3" r="2.1"/><circle cx="254.8" cy="555.1" r="2.1"/><circle cx="230.6" cy="556.3" r="2.1"/><circle cx="237.9" cy="545.0" r="2.1"/><circle cx="224.0" cy="555.9" r="2.1"/><circle cx="254.8" cy="552.6" r="2.1"/><circle cx="211.3" cy="552.4" r="2.1"/><circle cx="215.5" cy="546.3" r="2.1"/><circle cx="240.9" cy="539.9" r="2.1"/><circle cx="226.9" cy="554.6" r="2.1"/><circle cx="241.4" cy="555.9" r="2.1"/><circle cx="237.2" cy="555.7" r="2.1"/><circle cx="242.2" cy="550.2" r="2.1"/><circle cx="222.8" cy="556.2" r="2.1"/><circle cx="230.5" cy="552.3" r="2.1"/><circle cx="255.9" cy="545.1" r="2.1"/><circle cx="260.4" cy="549.9" r="2.1"/><circle cx="206.7" cy="556.2" r="2.1"/><circle cx="211.1" cy="556.4" r="2.1"/><circle cx="211.1" cy="556.4" r="2.1"/><circle cx="254.0" cy="549.5" r="2.1"/><circle cx="209.4" cy="556.0" r="2.1"/><circle cx="230.7" cy="556.3" r="2.1"/><circle cx="260.2" cy="554.1" r="2.1"/><circle cx="218.9" cy="556.2" r="2.1"/><circle cx="224.4" cy="556.2" r="2.1"/><circle cx="238.7" cy="555.1" r="2.1"/><circle cx="208.3" cy="553.2" r="2.1"/><circle cx="252.5" cy="547.3" r="2.1"/><circle cx="242.1" cy="556.3" r="2.1"/><circle cx="213.8" cy="549.4" r="2.1"/><circle cx="236.9" cy="543.0" r="2.1"/><circle cx="215.0" cy="556.0" r="2.1"/><circle cx="217.3" cy="537.0" r="2.1"/><circle cx="216.2" cy="549.1" r="2.1"/><circle cx="250.1" cy="555.9" r="2.1"/><circle cx="259.3" cy="556.4" r="2.1"/><circle cx="218.2" cy="552.2" r="2.1"/><circle cx="248.7" cy="552.9" r="2.1"/><circle cx="260.2" cy="543.2" r="2.1"/><circle cx="210.2" cy="552.2" r="2.1"/><circle cx="223.5" cy="555.8" r="2.1"/><circle cx="213.3" cy="539.4" r="2.1"/><circle cx="227.2" cy="549.1" r="2.1"/><circle cx="213.9" cy="556.3" r="2.1"/><circle cx="237.0" cy="551.2" r="2.1"/><circle cx="226.1" cy="555.7" r="2.1"/><circle cx="262.6" cy="552.1" r="2.1"/><circle cx="218.9" cy="543.4" r="2.1"/><circle cx="242.8" cy="556.0" r="2.1"/><circle cx="250.1" cy="556.1" r="2.1"/><circle cx="219.5" cy="556.3" r="2.1"/><circle cx="228.6" cy="556.0" r="2.1"/><circle cx="209.6" cy="556.3" r="2.1"/><circle cx="221.0" cy="540.9" r="2.1"/><circle cx="231.4" cy="555.9" r="2.1"/><circle cx="242.1" cy="545.7" r="2.1"/><circle cx="215.1" cy="555.1" r="2.1"/><circle cx="237.5" cy="555.8" r="2.1"/><circle cx="260.6" cy="555.4" r="2.1"/><circle cx="263.2" cy="556.0" r="2.1"/><circle cx="220.6" cy="556.1" r="2.1"/><circle cx="243.3" cy="556.2" r="2.1"/><circle cx="246.7" cy="556.3" r="2.1"/><circle cx="239.8" cy="544.5" r="2.1"/><circle cx="221.0" cy="556.3" r="2.1"/><circle cx="249.5" cy="546.2" r="2.1"/><circle cx="227.5" cy="553.5" r="2.1"/><circle cx="216.6" cy="556.3" r="2.1"/><circle cx="242.7" cy="552.6" r="2.1"/><circle cx="257.7" cy="551.0" r="2.1"/><circle cx="255.6" cy="542.7" r="2.1"/><circle cx="248.7" cy="556.0" r="2.1"/><circle cx="249.8" cy="539.0" r="2.1"/><circle cx="228.2" cy="547.4" r="2.1"/><circle cx="220.5" cy="552.7" r="2.1"/><circle cx="263.2" cy="556.1" r="2.1"/><circle cx="244.2" cy="541.4" r="2.1"/><circle cx="217.2" cy="556.1" r="2.1"/><circle cx="252.8" cy="554.5" r="2.1"/><circle cx="256.7" cy="554.2" r="2.1"/><circle cx="226.7" cy="556.3" r="2.1"/><circle cx="241.1" cy="555.8" r="2.1"/><circle cx="252.6" cy="544.1" r="2.1"/><circle cx="264.2" cy="555.6" r="2.1"/><circle cx="240.8" cy="552.1" r="2.1"/><circle cx="222.6" cy="556.2" r="2.1"/><circle cx="263.8" cy="555.8" r="2.1"/><circle cx="247.2" cy="556.1" r="2.1"/><circle cx="214.5" cy="552.8" r="2.1"/><circle cx="243.5" cy="549.3" r="2.1"/><circle cx="236.4" cy="552.9" r="2.1"/><circle cx="248.8" cy="552.8" r="2.1"/><circle cx="226.9" cy="546.7" r="2.1"/><circle cx="249.3" cy="548.0" r="2.1"/><circle cx="239.2" cy="545.2" r="2.1"/><circle cx="259.9" cy="556.0" r="2.1"/><circle cx="214.3" cy="548.3" r="2.1"/><circle cx="245.7" cy="556.0" r="2.1"/><circle cx="226.9" cy="555.7" r="2.1"/><circle cx="259.3" cy="556.2" r="2.1"/><circle cx="241.8" cy="556.0" r="2.1"/><circle cx="221.5" cy="556.0" r="2.1"/><circle cx="208.3" cy="555.0" r="2.1"/><circle cx="250.7" cy="555.7" r="2.1"/><circle cx="215.0" cy="549.4" r="2.1"/><circle cx="221.2" cy="548.0" r="2.1"/><circle cx="246.0" cy="556.2" r="2.1"/><circle cx="256.0" cy="545.3" r="2.1"/><circle cx="240.5" cy="556.4" r="2.1"/><circle cx="213.3" cy="544.4" r="2.1"/><circle cx="254.2" cy="547.9" r="2.1"/><circle cx="226.5" cy="553.7" r="2.1"/><circle cx="240.8" cy="554.0" r="2.1"/><circle cx="227.8" cy="547.4" r="2.1"/><circle cx="243.7" cy="548.0" r="2.1"/><circle cx="215.9" cy="548.8" r="2.1"/><circle cx="227.2" cy="538.6" r="2.1"/><circle cx="224.9" cy="548.6" r="2.1"/><circle cx="222.6" cy="547.4" r="2.1"/><circle cx="212.7" cy="542.1" r="2.1"/><circle cx="263.8" cy="554.1" r="2.1"/><circle cx="215.5" cy="556.3" r="2.1"/><circle cx="207.0" cy="556.1" r="2.1"/><circle cx="210.7" cy="555.7" r="2.1"/><circle cx="224.2" cy="555.8" r="2.1"/><circle cx="235.2" cy="555.4" r="2.1"/><circle cx="253.4" cy="550.1" r="2.1"/><circle cx="244.2" cy="550.9" r="2.1"/><circle cx="215.0" cy="556.3" r="2.1"/><circle cx="239.9" cy="555.7" r="2.1"/><circle cx="228.8" cy="553.0" r="2.1"/><circle cx="249.2" cy="554.2" r="2.1"/><circle cx="248.5" cy="556.2" r="2.1"/><circle cx="251.6" cy="555.9" r="2.1"/><circle cx="249.2" cy="556.1" r="2.1"/><circle cx="212.9" cy="555.1" r="2.1"/><circle cx="219.3" cy="549.9" r="2.1"/><circle cx="223.3" cy="553.9" r="2.1"/><circle cx="209.5" cy="555.7" r="2.1"/><circle cx="211.1" cy="555.9" r="2.1"/><circle cx="221.2" cy="552.7" r="2.1"/><circle cx="259.9" cy="541.3" r="2.1"/><circle cx="247.6" cy="552.5" r="2.1"/><circle cx="226.1" cy="553.0" r="2.1"/><circle cx="261.1" cy="555.7" r="2.1"/><circle cx="252.2" cy="552.3" r="2.1"/><circle cx="210.2" cy="539.6" r="2.1"/><circle cx="263.9" cy="555.7" r="2.1"/><circle cx="227.3" cy="548.9" r="2.1"/><circle cx="262.5" cy="551.2" r="2.1"/><circle cx="234.9" cy="555.9" r="2.1"/><circle cx="209.6" cy="549.2" r="2.1"/><circle cx="242.2" cy="553.8" r="2.1"/><circle cx="215.5" cy="555.9" r="2.1"/><circle cx="207.0" cy="556.1" r="2.1"/><circle cx="255.8" cy="556.2" r="2.1"/><circle cx="246.2" cy="550.0" r="2.1"/><circle cx="261.6" cy="555.9" r="2.1"/><circle cx="217.4" cy="550.9" r="2.1"/><circle cx="247.9" cy="554.1" r="2.1"/><circle cx="236.8" cy="550.7" r="2.1"/><circle cx="242.3" cy="552.7" r="2.1"/><circle cx="241.0" cy="555.8" r="2.1"/><circle cx="220.2" cy="555.9" r="2.1"/><circle cx="248.3" cy="555.7" r="2.1"/><circle cx="215.6" cy="556.2" r="2.1"/><circle cx="259.0" cy="547.7" r="2.1"/><circle cx="214.3" cy="553.9" r="2.1"/><circle cx="251.8" cy="549.9" r="2.1"/><circle cx="243.0" cy="556.1" r="2.1"/><circle cx="225.1" cy="555.7" r="2.1"/><circle cx="261.6" cy="554.6" r="2.1"/><circle cx="221.8" cy="550.2" r="2.1"/><circle cx="255.7" cy="555.9" r="2.1"/><circle cx="252.9" cy="555.4" r="2.1"/><circle cx="228.2" cy="556.2" r="2.1"/><circle cx="255.7" cy="555.1" r="2.1"/><circle cx="239.3" cy="556.3" r="2.1"/><circle cx="245.6" cy="555.8" r="2.1"/><circle cx="216.6" cy="552.4" r="2.1"/><circle cx="225.3" cy="554.2" r="2.1"/><circle cx="254.6" cy="538.8" r="2.1"/><circle cx="255.1" cy="548.5" r="2.1"/><circle cx="261.4" cy="555.6" r="2.1"/><circle cx="249.3" cy="554.4" r="2.1"/><circle cx="219.1" cy="544.1" r="2.1"/><circle cx="217.3" cy="556.4" r="2.1"/><circle cx="249.3" cy="546.8" r="2.1"/><circle cx="218.6" cy="549.6" r="2.1"/><circle cx="235.0" cy="552.8" r="2.1"/><circle cx="223.7" cy="555.9" r="2.1"/><circle cx="226.6" cy="541.7" r="2.1"/><circle cx="206.0" cy="542.1" r="2.1"/><circle cx="253.8" cy="555.6" r="2.1"/><circle cx="240.8" cy="555.7" r="2.1"/><circle cx="216.5" cy="507.4" r="2.1"/><circle cx="212.6" cy="514.7" r="2.1"/><circle cx="204.0" cy="515.4" r="2.1"/><circle cx="217.0" cy="507.8" r="2.1"/><circle cx="210.5" cy="498.8" r="2.1"/><circle cx="216.1" cy="512.6" r="2.1"/><circle cx="207.1" cy="506.4" r="2.1"/><circle cx="215.6" cy="503.0" r="2.1"/><circle cx="220.3" cy="507.9" r="2.1"/><circle cx="220.1" cy="498.1" r="2.1"/><circle cx="205.5" cy="532.1" r="2.1"/><circle cx="218.3" cy="510.4" r="2.1"/><circle cx="203.3" cy="520.2" r="2.1"/><circle cx="221.4" cy="531.8" r="2.1"/><circle cx="204.4" cy="531.1" r="2.1"/><circle cx="216.8" cy="507.6" r="2.1"/><circle cx="204.6" cy="504.0" r="2.1"/><circle cx="222.1" cy="527.6" r="2.1"/><circle cx="210.4" cy="516.5" r="2.1"/><circle cx="218.6" cy="536.1" r="2.1"/><circle cx="206.6" cy="498.2" r="2.1"/><circle cx="214.5" cy="500.3" r="2.1"/><circle cx="223.2" cy="529.0" r="2.1"/><circle cx="213.8" cy="525.7" r="2.1"/><circle cx="219.5" cy="499.4" r="2.1"/><circle cx="210.5" cy="529.0" r="2.1"/><circle cx="216.3" cy="537.0" r="2.1"/><circle cx="217.8" cy="531.0" r="2.1"/><circle cx="214.4" cy="528.9" r="2.1"/><circle cx="207.6" cy="504.1" r="2.1"/><circle cx="204.4" cy="533.7" r="2.1"/><circle cx="220.7" cy="506.4" r="2.1"/><circle cx="218.1" cy="506.9" r="2.1"/><circle cx="210.3" cy="500.4" r="2.1"/><circle cx="208.9" cy="523.7" r="2.1"/><circle cx="203.6" cy="526.1" r="2.1"/><circle cx="221.2" cy="515.4" r="2.1"/><circle cx="216.6" cy="527.5" r="2.1"/><circle cx="208.5" cy="503.4" r="2.1"/><circle cx="217.9" cy="524.2" r="2.1"/><circle cx="220.3" cy="503.9" r="2.1"/><circle cx="221.1" cy="512.7" r="2.1"/><circle cx="200.8" cy="511.0" r="2.1"/><circle cx="219.8" cy="521.5" r="2.1"/><circle cx="219.6" cy="514.5" r="2.1"/><circle cx="217.4" cy="524.9" r="2.1"/><circle cx="209.2" cy="498.7" r="2.1"/><circle cx="205.5" cy="515.3" r="2.1"/><circle cx="211.2" cy="529.6" r="2.1"/><circle cx="207.7" cy="535.0" r="2.1"/><circle cx="219.8" cy="526.4" r="2.1"/><circle cx="220.0" cy="531.5" r="2.1"/><circle cx="208.0" cy="510.5" r="2.1"/><circle cx="216.4" cy="536.8" r="2.1"/><circle cx="220.9" cy="511.6" r="2.1"/><circle cx="207.9" cy="521.2" r="2.1"/><circle cx="220.1" cy="517.2" r="2.1"/><circle cx="208.5" cy="513.1" r="2.1"/><circle cx="201.5" cy="534.0" r="2.1"/><circle cx="218.0" cy="498.4" r="2.1"/><circle cx="220.4" cy="528.9" r="2.1"/><circle cx="202.4" cy="522.1" r="2.1"/><circle cx="204.1" cy="524.8" r="2.1"/><circle cx="207.4" cy="531.2" r="2.1"/><circle cx="212.8" cy="514.4" r="2.1"/><circle cx="216.1" cy="531.2" r="2.1"/><circle cx="211.4" cy="533.1" r="2.1"/><circle cx="222.1" cy="525.1" r="2.1"/><circle cx="222.8" cy="525.6" r="2.1"/><circle cx="211.4" cy="522.2" r="2.1"/><circle cx="219.5" cy="515.2" r="2.1"/><circle cx="221.8" cy="530.2" r="2.1"/><circle cx="204.4" cy="499.1" r="2.1"/><circle cx="211.7" cy="523.7" r="2.1"/><circle cx="222.5" cy="515.0" r="2.1"/><circle cx="217.0" cy="533.8" r="2.1"/><circle cx="202.6" cy="529.3" r="2.1"/><circle cx="211.0" cy="527.5" r="2.1"/><circle cx="198.2" cy="531.3" r="2.1"/><circle cx="216.7" cy="528.1" r="2.1"/><circle cx="206.1" cy="516.3" r="2.1"/><circle cx="204.4" cy="528.0" r="2.1"/><circle cx="200.7" cy="500.8" r="2.1"/><circle cx="208.9" cy="519.8" r="2.1"/><circle cx="216.1" cy="528.7" r="2.1"/><circle cx="214.2" cy="507.5" r="2.1"/><circle cx="206.2" cy="527.7" r="2.1"/><circle cx="209.7" cy="511.4" r="2.1"/><circle cx="220.3" cy="530.9" r="2.1"/><circle cx="223.2" cy="531.1" r="2.1"/><circle cx="213.0" cy="532.4" r="2.1"/><circle cx="218.3" cy="513.6" r="2.1"/><circle cx="218.4" cy="523.3" r="2.1"/><circle cx="218.5" cy="515.1" r="2.1"/><circle cx="196.0" cy="498.9" r="2.1"/><circle cx="221.2" cy="513.6" r="2.1"/><circle cx="211.3" cy="517.2" r="2.1"/><circle cx="203.4" cy="535.2" r="2.1"/><circle cx="210.9" cy="527.1" r="2.1"/><circle cx="213.8" cy="524.8" r="2.1"/><circle cx="249.8" cy="537.2" r="2.1"/><circle cx="257.5" cy="525.5" r="2.1"/><circle cx="243.0" cy="532.1" r="2.1"/><circle cx="247.9" cy="501.7" r="2.1"/><circle cx="247.8" cy="508.1" r="2.1"/><circle cx="249.7" cy="513.9" r="2.1"/><circle cx="255.4" cy="528.3" r="2.1"/><circle cx="252.4" cy="502.6" r="2.1"/><circle cx="259.1" cy="521.9" r="2.1"/><circle cx="241.5" cy="500.0" r="2.1"/><circle cx="257.3" cy="535.7" r="2.1"/><circle cx="243.5" cy="502.2" r="2.1"/><circle cx="243.2" cy="521.9" r="2.1"/><circle cx="252.6" cy="516.9" r="2.1"/><circle cx="251.4" cy="529.3" r="2.1"/><circle cx="259.7" cy="526.9" r="2.1"/><circle cx="243.5" cy="535.7" r="2.1"/><circle cx="249.4" cy="498.4" r="2.1"/><circle cx="241.1" cy="498.1" r="2.1"/><circle cx="256.3" cy="526.6" r="2.1"/><circle cx="254.7" cy="507.8" r="2.1"/><circle cx="250.8" cy="530.7" r="2.1"/><circle cx="239.7" cy="514.0" r="2.1"/><circle cx="249.1" cy="516.1" r="2.1"/><circle cx="254.9" cy="517.4" r="2.1"/><circle cx="250.8" cy="501.2" r="2.1"/><circle cx="253.4" cy="501.6" r="2.1"/><circle cx="251.6" cy="529.7" r="2.1"/><circle cx="252.8" cy="507.9" r="2.1"/><circle cx="247.3" cy="501.3" r="2.1"/><circle cx="245.8" cy="498.4" r="2.1"/><circle cx="251.3" cy="498.5" r="2.1"/><circle cx="240.8" cy="509.7" r="2.1"/><circle cx="253.0" cy="523.9" r="2.1"/><circle cx="247.1" cy="509.3" r="2.1"/><circle cx="252.6" cy="517.8" r="2.1"/><circle cx="257.6" cy="522.4" r="2.1"/><circle cx="247.9" cy="508.6" r="2.1"/><circle cx="250.4" cy="498.7" r="2.1"/><circle cx="247.2" cy="522.8" r="2.1"/><circle cx="241.8" cy="512.0" r="2.1"/><circle cx="247.4" cy="525.1" r="2.1"/><circle cx="249.1" cy="528.2" r="2.1"/><circle cx="247.2" cy="517.3" r="2.1"/><circle cx="248.0" cy="531.7" r="2.1"/><circle cx="239.9" cy="498.3" r="2.1"/><circle cx="260.0" cy="513.1" r="2.1"/><circle cx="251.5" cy="513.4" r="2.1"/><circle cx="255.7" cy="517.1" r="2.1"/><circle cx="247.8" cy="509.2" r="2.1"/><circle cx="199.5" cy="495.6" r="2.1"/><circle cx="216.3" cy="495.1" r="2.1"/><circle cx="220.1" cy="495.6" r="2.1"/><circle cx="214.2" cy="495.4" r="2.1"/><circle cx="198.8" cy="495.3" r="2.1"/><circle cx="213.5" cy="495.4" r="2.1"/><circle cx="207.5" cy="495.1" r="2.1"/><circle cx="220.1" cy="495.6" r="2.1"/><circle cx="192.4" cy="495.1" r="2.1"/><circle cx="215.6" cy="495.6" r="2.1"/><circle cx="206.3" cy="495.1" r="2.1"/><circle cx="218.1" cy="494.7" r="2.1"/><circle cx="210.5" cy="494.9" r="2.1"/><circle cx="192.4" cy="494.8" r="2.1"/><circle cx="213.1" cy="495.2" r="2.1"/><circle cx="208.3" cy="495.6" r="2.1"/><circle cx="199.4" cy="495.4" r="2.1"/><circle cx="195.9" cy="494.9" r="2.1"/><circle cx="204.2" cy="495.6" r="2.1"/><circle cx="209.1" cy="495.1" r="2.1"/><circle cx="206.6" cy="495.4" r="2.1"/><circle cx="192.7" cy="494.8" r="2.1"/><circle cx="248.9" cy="495.4" r="2.1"/><circle cx="261.1" cy="495.4" r="2.1"/><circle cx="258.0" cy="495.5" r="2.1"/><circle cx="262.6" cy="495.2" r="2.1"/><circle cx="255.0" cy="494.8" r="2.1"/><circle cx="251.4" cy="495.2" r="2.1"/><circle cx="263.8" cy="495.0" r="2.1"/><circle cx="250.5" cy="495.2" r="2.1"/><circle cx="246.9" cy="495.6" r="2.1"/><circle cx="254.0" cy="495.1" r="2.1"/><circle cx="255.9" cy="495.1" r="2.1"/><circle cx="250.3" cy="495.1" r="2.1"/><circle cx="267.5" cy="495.4" r="2.1"/><circle cx="250.8" cy="495.5" r="2.1"/><circle cx="197.2" cy="495.6" r="2.1"/><circle cx="207.3" cy="496.4" r="2.1"/><circle cx="210.9" cy="496.1" r="2.1"/><circle cx="218.1" cy="495.8" r="2.1"/><circle cx="214.5" cy="495.2" r="2.1"/><circle cx="250.5" cy="494.2" r="2.1"/><circle cx="254.8" cy="494.7" r="2.1"/><circle cx="262.7" cy="495.2" r="2.1"/><circle cx="272.1" cy="494.7" r="2.1"/><circle cx="274.3" cy="495.4" r="2.1"/><circle cx="283.4" cy="496.4" r="2.1"/><circle cx="304.0" cy="494.8" r="2.1"/><circle cx="182.8" cy="494.7" r="2.1"/><circle cx="213.0" cy="537.3" r="2.1"/><circle cx="218.0" cy="537.3" r="2.1"/><circle cx="216.2" cy="537.2" r="2.1"/><circle cx="217.4" cy="537.2" r="2.1"/><circle cx="197.7" cy="537.5" r="2.1"/><circle cx="221.7" cy="537.9" r="2.1"/><circle cx="211.3" cy="537.6" r="2.1"/><circle cx="211.4" cy="538.1" r="2.1"/><circle cx="212.0" cy="537.6" r="2.1"/><circle cx="203.3" cy="537.9" r="2.1"/><circle cx="204.1" cy="537.6" r="2.1"/><circle cx="218.6" cy="537.4" r="2.1"/><circle cx="211.6" cy="538.1" r="2.1"/><circle cx="220.7" cy="537.3" r="2.1"/><circle cx="248.6" cy="538.1" r="2.1"/><circle cx="258.1" cy="537.7" r="2.1"/><circle cx="258.4" cy="538.0" r="2.1"/><circle cx="244.2" cy="538.1" r="2.1"/><circle cx="259.1" cy="537.7" r="2.1"/><circle cx="253.0" cy="537.9" r="2.1"/><circle cx="254.1" cy="538.1" r="2.1"/><circle cx="248.0" cy="537.3" r="2.1"/><circle cx="258.3" cy="537.9" r="2.1"/><circle cx="260.3" cy="537.2" r="2.1"/><circle cx="190.7" cy="479.9" r="2.1"/><circle cx="205.5" cy="479.9" r="2.1"/><circle cx="208.4" cy="479.9" r="2.1"/><circle cx="211.3" cy="479.9" r="2.1"/><circle cx="250.5" cy="479.9" r="2.1"/><circle cx="266.3" cy="479.9" r="2.1"/><circle cx="206.8" cy="453.6" r="2.1"/><circle cx="215.5" cy="444.9" r="2.1"/><circle cx="220.8" cy="464.4" r="2.1"/><circle cx="259.8" cy="450.8" r="2.1"/><circle cx="270.7" cy="451.9" r="2.1"/><circle cx="284.3" cy="439.7" r="2.1"/><circle cx="182.8" cy="495.2" r="2.1"/><circle cx="256.3" cy="501.5" r="2.1"/><circle cx="269.9" cy="506.5" r="2.1"/><circle cx="277.1" cy="510.2" r="2.1"/><circle cx="275.7" cy="518.9" r="2.1"/><circle cx="266.3" cy="542.7" r="2.1"/><circle cx="279.3" cy="542.7" r="2.1"/><circle cx="192.9" cy="545.2" r="2.1"/><circle cx="192.9" cy="552.7" r="2.1"/><circle cx="264.9" cy="551.4" r="2.1"/><circle cx="264.9" cy="553.9" r="2.1"/><circle cx="275.7" cy="550.2" r="2.1"/><circle cx="272.1" cy="536.4" r="2.1"/></g>
<circle cx="286.5" cy="325.4" r="2.3" fill="#d9756a"/>
<circle cx="265.9" cy="364.7" r="2.3" fill="#d9756a"/>
<circle cx="286.5" cy="381.8" r="2.3" fill="#d9756a"/>
<circle cx="212.7" cy="382.2" r="2.3" fill="#d9756a"/>
<circle cx="267.6" cy="401.8" r="2.2" fill="#7a7a7a"/>
<circle cx="261.3" cy="424.5" r="2.2" fill="#7a7a7a"/>
<text x="288.6" y="322.3" font-size="9.8" fill="#222">CRTAM</text>
<text x="268.7" y="361.9" font-size="9.8" fill="#222">LY9</text>
<text x="289.7" y="379.4" font-size="9.8" fill="#222">CD6</text>
<text x="194.5" y="378.3" font-size="9.8" fill="#222">VAT1</text>
<text x="271.8" y="400.8" font-size="6.6" fill="#333">CD27</text>
<text x="264.1" y="422.8" font-size="6.6" fill="#333">ICAM3</text>
<line x1="232.5" y1="293.5" x2="232.5" y2="568.2" stroke="#4a4a4a" stroke-width="1.1" stroke-dasharray="7.6,3.2" stroke-dashoffset="-1.9"/>
<line x1="36.0" y1="393.5" x2="393.4" y2="393.5" stroke="#4a4a4a" stroke-width="1.1" stroke-dasharray="7.6,3.2"/>
<rect x="36.0" y="293.5" width="357.4" height="274.7" fill="none" stroke="#383838" stroke-width="1.3"/>
<line x1="33.5" y1="556.4" x2="36.0" y2="556.4" stroke="#444" stroke-width="1"/>
<text x="31.6" y="560.0" font-size="10.2" text-anchor="end" fill="#4d4d4d">0.0</text>
<line x1="33.5" y1="494.0" x2="36.0" y2="494.0" stroke="#444" stroke-width="1"/>
<text x="31.6" y="497.6" font-size="10.2" text-anchor="end" fill="#4d4d4d">0.5</text>
<line x1="33.5" y1="431.5" x2="36.0" y2="431.5" stroke="#444" stroke-width="1"/>
<text x="31.6" y="435.1" font-size="10.2" text-anchor="end" fill="#4d4d4d">1.0</text>
<line x1="33.5" y1="369.1" x2="36.0" y2="369.1" stroke="#444" stroke-width="1"/>
<text x="31.6" y="372.7" font-size="10.2" text-anchor="end" fill="#4d4d4d">1.5</text>
<line x1="33.5" y1="306.7" x2="36.0" y2="306.7" stroke="#444" stroke-width="1"/>
<text x="31.6" y="310.3" font-size="10.2" text-anchor="end" fill="#4d4d4d">2.0</text>
<line x1="88.5" y1="568.2" x2="88.5" y2="570.7" stroke="#444" stroke-width="1"/>
<text x="88.5" y="579.6" font-size="10.2" text-anchor="middle" fill="#4d4d4d">&#8722;2</text>
<line x1="160.5" y1="568.2" x2="160.5" y2="570.7" stroke="#444" stroke-width="1"/>
<text x="160.5" y="579.6" font-size="10.2" text-anchor="middle" fill="#4d4d4d">&#8722;1</text>
<line x1="232.5" y1="568.2" x2="232.5" y2="570.7" stroke="#444" stroke-width="1"/>
<text x="232.5" y="579.6" font-size="10.2" text-anchor="middle" fill="#4d4d4d">0</text>
<line x1="304.5" y1="568.2" x2="304.5" y2="570.7" stroke="#444" stroke-width="1"/>
<text x="304.5" y="579.6" font-size="10.2" text-anchor="middle" fill="#4d4d4d">1</text>
<line x1="376.5" y1="568.2" x2="376.5" y2="570.7" stroke="#444" stroke-width="1"/>
<text x="376.5" y="579.6" font-size="10.2" text-anchor="middle" fill="#4d4d4d">2</text>
<text x="165.7" y="593.8" font-size="12.1" fill="#222">Log&#8322; Fold Change NPX</text>
<text x="9.7" y="433.9" font-size="12.2" fill="#222" text-anchor="middle" transform="rotate(-90 9.7 433.9)">-Log&#8321;&#8320; FDR P value</text>
<text transform="translate(396.6 277.8) scale(0.9 1)" font-size="23" fill="#222">C</text>
<text x="463.5" y="282.2" font-size="14.8" font-weight="bold" fill="#222">Discovery cohort</text>
<rect x="462.5" y="299.1" width="94.2" height="15.2" fill="#d5d6d5" stroke="#333333" stroke-width="1.1"/>
<text x="509.6" y="310.2" font-size="9.7" font-weight="bold" text-anchor="middle" fill="#1a1a1a">CRTAM</text>
<rect x="462.5" y="314.3" width="94.2" height="93.0" fill="#fff"/>
<line x1="462.5" y1="324.8" x2="556.7" y2="324.8" stroke="#ebebeb" stroke-width="0.6"/>
<line x1="462.5" y1="345.8" x2="556.7" y2="345.8" stroke="#ebebeb" stroke-width="0.6"/>
<line x1="462.5" y1="366.9" x2="556.7" y2="366.9" stroke="#ebebeb" stroke-width="0.6"/>
<line x1="462.5" y1="388.0" x2="556.7" y2="388.0" stroke="#ebebeb" stroke-width="0.6"/>
<line x1="462.5" y1="335.3" x2="556.7" y2="335.3" stroke="#ebebeb" stroke-width="1.1"/>
<line x1="462.5" y1="356.4" x2="556.7" y2="356.4" stroke="#ebebeb" stroke-width="1.1"/>
<line x1="462.5" y1="377.4" x2="556.7" y2="377.4" stroke="#ebebeb" stroke-width="1.1"/>
<line x1="462.5" y1="398.5" x2="556.7" y2="398.5" stroke="#ebebeb" stroke-width="1.1"/>
<line x1="488.4" y1="314.3" x2="488.4" y2="407.3" stroke="#ebebeb" stroke-width="1.1"/>
<line x1="531.2" y1="314.3" x2="531.2" y2="407.3" stroke="#ebebeb" stroke-width="1.1"/>
<line x1="460.3" y1="335.3" x2="462.5" y2="335.3" stroke="#333333" stroke-width="0.9"/>
<text x="459.3" y="338.1" font-size="7.8" text-anchor="end" fill="#4d4d4d">1</text>
<line x1="460.3" y1="356.4" x2="462.5" y2="356.4" stroke="#333333" stroke-width="0.9"/>
<text x="459.3" y="359.2" font-size="7.8" text-anchor="end" fill="#4d4d4d">0</text>
<line x1="460.3" y1="377.4" x2="462.5" y2="377.4" stroke="#333333" stroke-width="0.9"/>
<text x="459.3" y="380.2" font-size="7.8" text-anchor="end" fill="#4d4d4d">&#8722;1</text>
<line x1="460.3" y1="398.5" x2="462.5" y2="398.5" stroke="#333333" stroke-width="0.9"/>
<text x="459.3" y="401.3" font-size="7.8" text-anchor="end" fill="#4d4d4d">&#8722;2</text>
<clipPath id="c0"><rect x="462.5" y="314.3" width="94.2" height="93.0"/></clipPath>
<g clip-path="url(#c0)">
<path d="M490.4,322.3 L490.7,323.7 L490.9,325.0 L491.0,326.4 L491.1,327.7 L491.1,329.1 L491.1,330.4 L491.1,331.8 L491.1,333.1 L491.2,334.5 L491.2,335.8 L491.4,337.2 L491.6,338.5 L491.8,339.9 L492.1,341.2 L492.4,342.6 L492.8,343.9 L493.1,345.3 L493.5,346.6 L493.9,348.0 L494.3,349.3 L494.8,350.7 L495.3,352.0 L495.9,353.4 L496.4,354.7 L496.9,356.1 L497.4,357.4 L497.9,358.8 L498.4,360.1 L498.9,361.5 L499.4,362.8 L499.9,364.2 L500.5,365.5 L501.1,366.9 L501.7,368.2 L502.2,369.6 L502.4,370.9 L502.2,372.3 L501.8,373.6 L501.1,375.0 L500.3,376.3 L499.6,377.7 L498.9,379.0 L498.3,380.4 L497.7,381.7 L497.1,383.1 L496.5,384.4 L496.0,385.8 L495.4,387.1 L495.0,388.5 L494.5,389.8 L494.1,391.2 L493.7,392.5 L493.3,393.9 L492.8,395.2 L492.3,396.6 L491.7,397.9 L491.2,399.3 L490.5,400.6 L489.9,402.0 L486.9,402.0 L486.3,400.6 L485.6,399.3 L485.1,397.9 L484.5,396.6 L484.0,395.2 L483.5,393.9 L483.1,392.5 L482.7,391.2 L482.3,389.8 L481.8,388.5 L481.4,387.1 L480.8,385.8 L480.3,384.4 L479.7,383.1 L479.1,381.7 L478.5,380.4 L477.9,379.0 L477.2,377.7 L476.5,376.3 L475.7,375.0 L475.0,373.6 L474.6,372.3 L474.4,370.9 L474.6,369.6 L475.1,368.2 L475.7,366.9 L476.3,365.5 L476.9,364.2 L477.4,362.8 L477.9,361.5 L478.4,360.1 L478.9,358.8 L479.4,357.4 L479.9,356.1 L480.4,354.7 L480.9,353.4 L481.5,352.0 L482.0,350.7 L482.5,349.3 L482.9,348.0 L483.3,346.6 L483.7,345.3 L484.0,343.9 L484.4,342.6 L484.7,341.2 L485.0,339.9 L485.2,338.5 L485.4,337.2 L485.6,335.8 L485.6,334.5 L485.7,333.1 L485.7,331.8 L485.7,330.4 L485.7,329.1 L485.7,327.7 L485.8,326.4 L485.9,325.0 L486.1,323.7 L486.4,322.3Z" fill="#eba394" fill-opacity="0.75"/>
<path d="M531.7,318.6 L531.8,319.9 L532.2,321.2 L532.8,322.4 L533.5,323.7 L534.2,325.0 L535.2,326.3 L536.7,327.5 L538.5,328.8 L540.3,330.1 L541.9,331.4 L543.3,332.7 L544.7,333.9 L546.0,335.2 L547.2,336.5 L548.2,337.8 L548.8,339.0 L549.2,340.3 L549.6,341.6 L549.9,342.9 L550.0,344.2 L549.9,345.4 L549.6,346.7 L549.1,348.0 L548.5,349.3 L547.9,350.5 L547.2,351.8 L546.4,353.1 L545.6,354.4 L544.7,355.7 L543.7,356.9 L542.6,358.2 L541.5,359.5 L540.5,360.8 L539.5,362.1 L538.6,363.3 L537.8,364.6 L537.0,365.9 L536.2,367.2 L535.6,368.4 L535.1,369.7 L534.7,371.0 L534.3,372.3 L533.9,373.6 L533.6,374.8 L533.3,376.1 L533.2,377.4 L533.3,378.7 L533.7,379.9 L534.1,381.2 L534.2,382.5 L534.3,383.8 L534.4,385.1 L534.4,386.3 L534.4,387.6 L534.1,388.9 L533.6,390.2 L533.0,391.4 L532.3,392.7 L531.5,394.0 L530.9,394.0 L530.1,392.7 L529.4,391.4 L528.8,390.2 L528.3,388.9 L528.0,387.6 L528.0,386.3 L528.0,385.1 L528.1,383.8 L528.2,382.5 L528.3,381.2 L528.7,379.9 L529.1,378.7 L529.2,377.4 L529.1,376.1 L528.8,374.8 L528.5,373.6 L528.1,372.3 L527.7,371.0 L527.3,369.7 L526.8,368.4 L526.2,367.2 L525.4,365.9 L524.6,364.6 L523.8,363.3 L522.9,362.1 L521.9,360.8 L520.9,359.5 L519.8,358.2 L518.7,356.9 L517.7,355.7 L516.8,354.4 L516.0,353.1 L515.2,351.8 L514.5,350.5 L513.9,349.3 L513.3,348.0 L512.8,346.7 L512.5,345.4 L512.4,344.2 L512.5,342.9 L512.8,341.6 L513.2,340.3 L513.6,339.0 L514.2,337.8 L515.2,336.5 L516.4,335.2 L517.7,333.9 L519.1,332.7 L520.5,331.4 L522.1,330.1 L523.9,328.8 L525.7,327.5 L527.2,326.3 L528.2,325.0 L528.9,323.7 L529.6,322.4 L530.2,321.2 L530.6,319.9 L530.7,318.6Z" fill="#d4d4d4" fill-opacity="0.8"/>
<g fill="#b3b3b3" fill-opacity="0.75"><circle cx="517.2" cy="347.6" r="1.5"/><circle cx="544.6" cy="361.3" r="1.5"/><circle cx="523.1" cy="346.6" r="1.5"/><circle cx="534.5" cy="350.9" r="1.5"/><circle cx="522.9" cy="349.8" r="1.5"/><circle cx="534.1" cy="356.3" r="1.5"/><circle cx="526.8" cy="331.5" r="1.5"/><circle cx="525.8" cy="392.1" r="1.5"/><circle cx="530.4" cy="334.2" r="1.5"/><circle cx="533.8" cy="359.4" r="1.5"/><circle cx="534.1" cy="337.9" r="1.5"/><circle cx="536.9" cy="349.2" r="1.5"/><circle cx="524.3" cy="391.8" r="1.5"/><circle cx="518.9" cy="330.6" r="1.5"/><circle cx="523.8" cy="356.9" r="1.5"/><circle cx="526.0" cy="347.7" r="1.5"/><circle cx="534.4" cy="364.6" r="1.5"/><circle cx="528.6" cy="346.1" r="1.5"/><circle cx="525.5" cy="352.4" r="1.5"/><circle cx="519.2" cy="332.4" r="1.5"/><circle cx="534.1" cy="331.1" r="1.5"/><circle cx="519.5" cy="355.4" r="1.5"/><circle cx="531.7" cy="348.7" r="1.5"/><circle cx="536.9" cy="354.6" r="1.5"/><circle cx="534.9" cy="348.6" r="1.5"/><circle cx="521.0" cy="337.1" r="1.5"/><circle cx="526.9" cy="353.8" r="1.5"/><circle cx="544.4" cy="351.5" r="1.5"/><circle cx="518.9" cy="368.3" r="1.5"/><circle cx="536.6" cy="350.0" r="1.5"/><circle cx="529.3" cy="320.0" r="1.5"/><circle cx="534.6" cy="363.7" r="1.5"/><circle cx="528.0" cy="346.9" r="1.5"/><circle cx="519.9" cy="346.2" r="1.5"/><circle cx="533.1" cy="362.2" r="1.5"/><circle cx="516.4" cy="347.6" r="1.5"/><circle cx="542.1" cy="347.8" r="1.5"/><circle cx="540.2" cy="345.3" r="1.5"/><circle cx="527.4" cy="351.9" r="1.5"/><circle cx="532.3" cy="387.8" r="1.5"/><circle cx="532.0" cy="349.7" r="1.5"/><circle cx="545.6" cy="351.7" r="1.5"/><circle cx="517.5" cy="376.0" r="1.5"/><circle cx="525.1" cy="369.7" r="1.5"/><circle cx="528.4" cy="337.3" r="1.5"/><circle cx="539.8" cy="340.8" r="1.5"/><circle cx="538.1" cy="339.3" r="1.5"/><circle cx="528.9" cy="337.2" r="1.5"/><circle cx="516.6" cy="379.7" r="1.5"/><circle cx="535.6" cy="341.7" r="1.5"/><circle cx="528.4" cy="341.8" r="1.5"/><circle cx="519.7" cy="339.0" r="1.5"/><circle cx="535.1" cy="347.0" r="1.5"/><circle cx="529.5" cy="332.1" r="1.5"/><circle cx="525.4" cy="350.4" r="1.5"/><circle cx="524.3" cy="347.6" r="1.5"/><circle cx="531.8" cy="346.7" r="1.5"/><circle cx="523.6" cy="348.4" r="1.5"/><circle cx="528.0" cy="384.8" r="1.5"/><circle cx="544.5" cy="332.6" r="1.5"/><circle cx="530.5" cy="343.0" r="1.5"/><circle cx="523.8" cy="343.1" r="1.5"/><circle cx="531.8" cy="346.7" r="1.5"/><circle cx="543.7" cy="353.4" r="1.5"/><circle cx="542.2" cy="338.1" r="1.5"/><circle cx="536.5" cy="366.4" r="1.5"/><circle cx="543.2" cy="338.5" r="1.5"/><circle cx="538.9" cy="331.0" r="1.5"/><circle cx="536.6" cy="345.9" r="1.5"/><circle cx="529.0" cy="330.0" r="1.5"/><circle cx="520.7" cy="347.5" r="1.5"/><circle cx="538.2" cy="335.4" r="1.5"/><circle cx="535.2" cy="343.1" r="1.5"/><circle cx="545.2" cy="343.7" r="1.5"/><circle cx="525.8" cy="381.3" r="1.5"/><circle cx="542.5" cy="336.9" r="1.5"/><circle cx="522.8" cy="337.3" r="1.5"/><circle cx="544.6" cy="369.2" r="1.5"/><circle cx="546.1" cy="342.8" r="1.5"/><circle cx="517.6" cy="325.2" r="1.5"/><circle cx="525.9" cy="354.8" r="1.5"/><circle cx="546.1" cy="365.3" r="1.5"/><circle cx="545.2" cy="339.5" r="1.5"/><circle cx="536.3" cy="344.8" r="1.5"/><circle cx="520.2" cy="336.5" r="1.5"/><circle cx="516.4" cy="360.3" r="1.5"/><circle cx="523.7" cy="342.2" r="1.5"/><circle cx="544.5" cy="321.2" r="1.5"/><circle cx="540.3" cy="338.5" r="1.5"/><circle cx="529.1" cy="362.9" r="1.5"/><circle cx="539.0" cy="353.6" r="1.5"/><circle cx="543.3" cy="360.9" r="1.5"/><circle cx="525.2" cy="341.7" r="1.5"/><circle cx="542.4" cy="371.9" r="1.5"/><circle cx="524.3" cy="352.0" r="1.5"/><circle cx="526.1" cy="390.0" r="1.5"/><circle cx="517.5" cy="335.2" r="1.5"/><circle cx="521.0" cy="335.4" r="1.5"/><circle cx="532.7" cy="331.3" r="1.5"/><circle cx="516.9" cy="338.4" r="1.5"/><circle cx="532.6" cy="351.5" r="1.5"/><circle cx="521.3" cy="370.1" r="1.5"/><circle cx="538.7" cy="337.8" r="1.5"/><circle cx="520.0" cy="386.6" r="1.5"/><circle cx="522.4" cy="333.3" r="1.5"/><circle cx="524.3" cy="341.7" r="1.5"/><circle cx="533.7" cy="330.4" r="1.5"/><circle cx="540.5" cy="350.1" r="1.5"/><circle cx="538.8" cy="338.2" r="1.5"/><circle cx="538.4" cy="359.5" r="1.5"/><circle cx="536.7" cy="345.0" r="1.5"/><circle cx="532.5" cy="354.9" r="1.5"/><circle cx="526.5" cy="346.7" r="1.5"/><circle cx="521.6" cy="339.2" r="1.5"/><circle cx="542.1" cy="341.7" r="1.5"/><circle cx="528.5" cy="346.1" r="1.5"/><circle cx="535.7" cy="326.9" r="1.5"/><circle cx="518.2" cy="352.7" r="1.5"/><circle cx="527.0" cy="339.1" r="1.5"/><circle cx="519.2" cy="338.8" r="1.5"/><circle cx="526.8" cy="330.6" r="1.5"/><circle cx="538.2" cy="345.1" r="1.5"/><circle cx="526.4" cy="338.5" r="1.5"/><circle cx="536.7" cy="335.3" r="1.5"/><circle cx="519.9" cy="335.1" r="1.5"/><circle cx="527.7" cy="373.4" r="1.5"/><circle cx="528.5" cy="341.3" r="1.5"/><circle cx="531.5" cy="333.7" r="1.5"/><circle cx="523.1" cy="343.7" r="1.5"/><circle cx="537.2" cy="348.1" r="1.5"/><circle cx="542.7" cy="327.8" r="1.5"/><circle cx="540.6" cy="331.4" r="1.5"/><circle cx="517.1" cy="324.5" r="1.5"/><circle cx="530.8" cy="340.3" r="1.5"/><circle cx="526.5" cy="339.5" r="1.5"/><circle cx="533.4" cy="336.1" r="1.5"/><circle cx="518.7" cy="344.0" r="1.5"/><circle cx="538.1" cy="352.7" r="1.5"/><circle cx="528.7" cy="328.0" r="1.5"/><circle cx="544.5" cy="352.4" r="1.5"/></g>
<g fill="#de5a45" fill-opacity="0.85"><circle cx="497.1" cy="370.2" r="1.5"/><circle cx="480.9" cy="327.9" r="1.5"/><circle cx="477.5" cy="375.1" r="1.5"/><circle cx="485.1" cy="375.7" r="1.5"/><circle cx="488.3" cy="366.4" r="1.5"/><circle cx="482.0" cy="391.4" r="1.5"/><circle cx="491.6" cy="359.5" r="1.5"/><circle cx="491.5" cy="356.6" r="1.5"/><circle cx="480.6" cy="376.0" r="1.5"/><circle cx="492.1" cy="394.1" r="1.5"/><circle cx="484.1" cy="349.3" r="1.5"/><circle cx="495.4" cy="326.7" r="1.5"/><circle cx="482.1" cy="346.9" r="1.5"/><circle cx="497.4" cy="329.4" r="1.5"/><circle cx="485.9" cy="359.5" r="1.5"/><circle cx="490.0" cy="381.2" r="1.5"/><circle cx="493.6" cy="393.7" r="1.5"/><circle cx="489.0" cy="386.5" r="1.5"/><circle cx="481.1" cy="329.7" r="1.5"/><circle cx="502.8" cy="357.0" r="1.5"/><circle cx="476.3" cy="381.8" r="1.5"/><circle cx="483.1" cy="381.4" r="1.5"/><circle cx="489.9" cy="375.0" r="1.5"/><circle cx="474.3" cy="382.8" r="1.5"/><circle cx="478.0" cy="350.9" r="1.5"/><circle cx="497.4" cy="373.0" r="1.5"/><circle cx="496.9" cy="362.0" r="1.5"/><circle cx="492.5" cy="371.0" r="1.5"/><circle cx="500.5" cy="325.4" r="1.5"/><circle cx="496.1" cy="366.6" r="1.5"/><circle cx="482.4" cy="350.4" r="1.5"/><circle cx="492.7" cy="395.0" r="1.5"/><circle cx="483.6" cy="378.1" r="1.5"/><circle cx="495.9" cy="382.9" r="1.5"/><circle cx="473.2" cy="327.0" r="1.5"/><circle cx="483.5" cy="319.8" r="1.5"/><circle cx="497.7" cy="326.8" r="1.5"/></g>
<line x1="488.4" y1="322.3" x2="488.4" y2="355.6" stroke="#333" stroke-width="1.3"/>
<line x1="488.4" y1="379.2" x2="488.4" y2="402.0" stroke="#333" stroke-width="1.3"/>
<rect x="484.9" y="355.6" width="7.0" height="23.6" fill="#e0705c" stroke="#333" stroke-width="1.2"/>
<line x1="484.9" y1="370.2" x2="491.9" y2="370.2" stroke="#333" stroke-width="1.6"/>
<line x1="531.2" y1="318.6" x2="531.2" y2="339.4" stroke="#333" stroke-width="1.3"/>
<line x1="531.2" y1="356.3" x2="531.2" y2="379.2" stroke="#333" stroke-width="1.3"/>
<rect x="527.7" y="339.4" width="7.0" height="16.9" fill="#bdbdbd" stroke="#333" stroke-width="1.2"/>
<line x1="527.7" y1="346.2" x2="534.7" y2="346.2" stroke="#333" stroke-width="1.6"/>
<line x1="488.4" y1="327.5" x2="531.2" y2="327.5" stroke="#333" stroke-width="1.0"/>
</g>
<text x="509.8" y="325.9" font-size="7.2" text-anchor="middle" fill="#333">0.014</text>
<rect x="462.5" y="314.3" width="94.2" height="93.0" fill="none" stroke="#333333" stroke-width="1.2"/>
<rect x="580.8" y="299.1" width="93.6" height="15.2" fill="#d5d6d5" stroke="#333333" stroke-width="1.1"/>
<text x="627.6" y="310.2" font-size="9.7" font-weight="bold" text-anchor="middle" fill="#1a1a1a">LY9</text>
<rect x="580.8" y="314.3" width="93.6" height="93.0" fill="#fff"/>
<line x1="580.8" y1="319.5" x2="674.4" y2="319.5" stroke="#ebebeb" stroke-width="0.6"/>
<line x1="580.8" y1="343.5" x2="674.4" y2="343.5" stroke="#ebebeb" stroke-width="0.6"/>
<line x1="580.8" y1="367.6" x2="674.4" y2="367.6" stroke="#ebebeb" stroke-width="0.6"/>
<line x1="580.8" y1="391.6" x2="674.4" y2="391.6" stroke="#ebebeb" stroke-width="0.6"/>
<line x1="580.8" y1="331.5" x2="674.4" y2="331.5" stroke="#ebebeb" stroke-width="1.1"/>
<line x1="580.8" y1="355.5" x2="674.4" y2="355.5" stroke="#ebebeb" stroke-width="1.1"/>
<line x1="580.8" y1="379.6" x2="674.4" y2="379.6" stroke="#ebebeb" stroke-width="1.1"/>
<line x1="580.8" y1="403.6" x2="674.4" y2="403.6" stroke="#ebebeb" stroke-width="1.1"/>
<line x1="606.4" y1="314.3" x2="606.4" y2="407.3" stroke="#ebebeb" stroke-width="1.1"/>
<line x1="649.3" y1="314.3" x2="649.3" y2="407.3" stroke="#ebebeb" stroke-width="1.1"/>
<line x1="578.6" y1="331.5" x2="580.8" y2="331.5" stroke="#333333" stroke-width="0.9"/>
<text x="577.6" y="334.3" font-size="7.8" text-anchor="end" fill="#4d4d4d">1</text>
<line x1="578.6" y1="355.5" x2="580.8" y2="355.5" stroke="#333333" stroke-width="0.9"/>
<text x="577.6" y="358.3" font-size="7.8" text-anchor="end" fill="#4d4d4d">0</text>
<line x1="578.6" y1="379.6" x2="580.8" y2="379.6" stroke="#333333" stroke-width="0.9"/>
<text x="577.6" y="382.4" font-size="7.8" text-anchor="end" fill="#4d4d4d">&#8722;1</text>
<line x1="578.6" y1="403.6" x2="580.8" y2="403.6" stroke="#333333" stroke-width="0.9"/>
<text x="577.6" y="406.4" font-size="7.8" text-anchor="end" fill="#4d4d4d">&#8722;2</text>
<clipPath id="c1"><rect x="580.8" y="314.3" width="93.6" height="93.0"/></clipPath>
<g clip-path="url(#c1)">
<path d="M607.2,325.8 L607.4,326.7 L607.7,327.6 L607.9,328.5 L608.1,329.3 L608.2,330.2 L608.4,331.1 L608.5,332.0 L608.6,332.9 L608.7,333.8 L608.9,334.6 L609.1,335.5 L609.3,336.4 L609.6,337.3 L610.0,338.2 L610.4,339.1 L610.9,340.0 L611.4,340.8 L611.9,341.7 L612.3,342.6 L612.7,343.5 L613.1,344.4 L613.5,345.3 L614.0,346.1 L614.5,347.0 L615.0,347.9 L615.5,348.8 L615.9,349.7 L616.3,350.6 L616.8,351.5 L617.2,352.3 L617.6,353.2 L618.1,354.1 L618.5,355.0 L619.1,355.9 L619.7,356.8 L620.4,357.7 L621.2,358.5 L621.9,359.4 L622.5,360.3 L623.0,361.2 L623.4,362.1 L623.8,363.0 L624.2,363.8 L624.6,364.7 L624.8,365.6 L624.9,366.5 L624.9,367.4 L624.8,368.3 L624.7,369.2 L624.5,370.0 L624.3,370.9 L624.0,371.8 L623.2,372.7 L622.0,373.6 L620.4,374.5 L618.6,375.3 L616.2,376.2 L612.8,377.1 L606.9,378.0 L605.9,378.0 L600.0,377.1 L596.6,376.2 L594.2,375.3 L592.4,374.5 L590.8,373.6 L589.6,372.7 L588.8,371.8 L588.5,370.9 L588.3,370.0 L588.1,369.2 L588.0,368.3 L587.9,367.4 L587.9,366.5 L588.0,365.6 L588.2,364.7 L588.6,363.8 L589.0,363.0 L589.4,362.1 L589.8,361.2 L590.3,360.3 L590.9,359.4 L591.6,358.5 L592.4,357.7 L593.1,356.8 L593.7,355.9 L594.3,355.0 L594.7,354.1 L595.2,353.2 L595.6,352.3 L596.0,351.5 L596.5,350.6 L596.9,349.7 L597.3,348.8 L597.8,347.9 L598.3,347.0 L598.8,346.1 L599.3,345.3 L599.7,344.4 L600.1,343.5 L600.5,342.6 L600.9,341.7 L601.4,340.8 L601.9,340.0 L602.4,339.1 L602.8,338.2 L603.2,337.3 L603.5,336.4 L603.7,335.5 L603.9,334.6 L604.1,333.8 L604.2,332.9 L604.3,332.0 L604.4,331.1 L604.6,330.2 L604.7,329.3 L604.9,328.5 L605.1,327.6 L605.4,326.7 L605.6,325.8Z" fill="#eba394" fill-opacity="0.75"/>
<path d="M649.9,319.5 L649.9,320.5 L650.1,321.4 L650.3,322.4 L650.5,323.4 L650.8,324.4 L651.2,325.3 L651.6,326.3 L652.0,327.3 L652.5,328.3 L653.2,329.2 L654.1,330.2 L655.1,331.2 L656.3,332.2 L657.4,333.1 L658.6,334.1 L659.6,335.1 L660.7,336.1 L661.8,337.0 L663.0,338.0 L664.1,339.0 L665.1,340.0 L666.0,340.9 L666.7,341.9 L667.4,342.9 L668.0,343.9 L668.5,344.8 L668.7,345.8 L668.5,346.8 L668.1,347.8 L667.4,348.7 L666.6,349.7 L665.8,350.7 L665.1,351.7 L664.3,352.6 L663.5,353.6 L662.6,354.6 L661.7,355.6 L660.8,356.5 L660.0,357.5 L659.2,358.5 L658.6,359.5 L658.0,360.4 L657.4,361.4 L656.8,362.4 L656.3,363.4 L655.8,364.3 L655.3,365.3 L654.8,366.3 L654.4,367.3 L654.0,368.2 L653.6,369.2 L653.2,370.2 L652.8,371.2 L652.4,372.1 L651.9,373.1 L651.4,374.1 L650.9,375.1 L650.4,376.0 L649.8,377.0 L648.8,377.0 L648.2,376.0 L647.7,375.1 L647.2,374.1 L646.7,373.1 L646.2,372.1 L645.8,371.2 L645.4,370.2 L645.0,369.2 L644.6,368.2 L644.2,367.3 L643.8,366.3 L643.3,365.3 L642.8,364.3 L642.3,363.4 L641.8,362.4 L641.2,361.4 L640.6,360.4 L640.0,359.5 L639.4,358.5 L638.6,357.5 L637.8,356.5 L636.9,355.6 L636.0,354.6 L635.1,353.6 L634.3,352.6 L633.5,351.7 L632.8,350.7 L632.0,349.7 L631.2,348.7 L630.5,347.8 L630.1,346.8 L629.9,345.8 L630.1,344.8 L630.6,343.9 L631.2,342.9 L631.9,341.9 L632.6,340.9 L633.5,340.0 L634.5,339.0 L635.6,338.0 L636.8,337.0 L637.9,336.1 L639.0,335.1 L640.0,334.1 L641.2,333.1 L642.3,332.2 L643.5,331.2 L644.5,330.2 L645.4,329.2 L646.1,328.3 L646.6,327.3 L647.0,326.3 L647.4,325.3 L647.8,324.4 L648.1,323.4 L648.3,322.4 L648.5,321.4 L648.7,320.5 L648.7,319.5Z" fill="#d4d4d4" fill-opacity="0.8"/>
<g fill="#b3b3b3" fill-opacity="0.75"><circle cx="648.0" cy="335.5" r="1.5"/><circle cx="634.6" cy="343.5" r="1.5"/><circle cx="634.8" cy="351.4" r="1.5"/><circle cx="649.5" cy="363.7" r="1.5"/><circle cx="658.8" cy="347.6" r="1.5"/><circle cx="664.3" cy="329.9" r="1.5"/><circle cx="658.4" cy="336.1" r="1.5"/><circle cx="650.0" cy="327.6" r="1.5"/><circle cx="653.6" cy="338.1" r="1.5"/><circle cx="654.4" cy="370.1" r="1.5"/><circle cx="656.2" cy="340.8" r="1.5"/><circle cx="664.1" cy="327.6" r="1.5"/><circle cx="644.6" cy="342.2" r="1.5"/><circle cx="647.7" cy="324.0" r="1.5"/><circle cx="657.7" cy="337.1" r="1.5"/><circle cx="640.8" cy="356.0" r="1.5"/><circle cx="637.2" cy="365.4" r="1.5"/><circle cx="661.3" cy="359.2" r="1.5"/><circle cx="634.8" cy="360.4" r="1.5"/><circle cx="661.1" cy="355.3" r="1.5"/><circle cx="661.7" cy="351.2" r="1.5"/><circle cx="639.3" cy="333.3" r="1.5"/><circle cx="657.0" cy="337.3" r="1.5"/><circle cx="643.0" cy="368.7" r="1.5"/><circle cx="642.4" cy="348.2" r="1.5"/><circle cx="663.8" cy="350.7" r="1.5"/><circle cx="660.9" cy="362.5" r="1.5"/><circle cx="657.2" cy="353.8" r="1.5"/><circle cx="647.4" cy="363.4" r="1.5"/><circle cx="663.9" cy="352.6" r="1.5"/><circle cx="651.4" cy="345.3" r="1.5"/><circle cx="663.7" cy="339.1" r="1.5"/><circle cx="655.9" cy="345.1" r="1.5"/><circle cx="635.7" cy="343.0" r="1.5"/><circle cx="658.2" cy="343.6" r="1.5"/><circle cx="659.4" cy="372.0" r="1.5"/><circle cx="660.7" cy="346.9" r="1.5"/><circle cx="653.0" cy="350.7" r="1.5"/><circle cx="635.4" cy="346.1" r="1.5"/><circle cx="660.3" cy="336.1" r="1.5"/><circle cx="647.0" cy="353.0" r="1.5"/><circle cx="640.2" cy="350.7" r="1.5"/><circle cx="640.6" cy="348.0" r="1.5"/><circle cx="640.3" cy="350.4" r="1.5"/><circle cx="658.8" cy="334.3" r="1.5"/><circle cx="636.5" cy="347.2" r="1.5"/><circle cx="661.8" cy="333.7" r="1.5"/><circle cx="634.8" cy="344.6" r="1.5"/><circle cx="656.0" cy="330.9" r="1.5"/><circle cx="641.2" cy="367.4" r="1.5"/><circle cx="649.7" cy="355.8" r="1.5"/><circle cx="639.6" cy="370.5" r="1.5"/><circle cx="661.3" cy="358.3" r="1.5"/><circle cx="639.0" cy="375.1" r="1.5"/><circle cx="648.3" cy="334.3" r="1.5"/><circle cx="652.6" cy="351.4" r="1.5"/><circle cx="647.9" cy="333.3" r="1.5"/><circle cx="640.8" cy="332.3" r="1.5"/><circle cx="643.0" cy="345.8" r="1.5"/><circle cx="662.3" cy="345.7" r="1.5"/><circle cx="638.1" cy="344.8" r="1.5"/><circle cx="634.8" cy="344.9" r="1.5"/><circle cx="661.6" cy="341.8" r="1.5"/><circle cx="660.9" cy="334.1" r="1.5"/><circle cx="654.9" cy="345.2" r="1.5"/><circle cx="648.5" cy="343.6" r="1.5"/><circle cx="662.9" cy="346.8" r="1.5"/><circle cx="646.7" cy="362.4" r="1.5"/><circle cx="634.7" cy="344.8" r="1.5"/><circle cx="647.4" cy="362.2" r="1.5"/><circle cx="650.2" cy="342.3" r="1.5"/><circle cx="650.7" cy="333.9" r="1.5"/><circle cx="660.9" cy="354.6" r="1.5"/><circle cx="636.3" cy="338.0" r="1.5"/><circle cx="659.9" cy="361.2" r="1.5"/><circle cx="650.0" cy="356.7" r="1.5"/><circle cx="656.3" cy="344.6" r="1.5"/><circle cx="646.7" cy="371.4" r="1.5"/><circle cx="643.2" cy="337.8" r="1.5"/><circle cx="644.4" cy="371.7" r="1.5"/><circle cx="642.5" cy="321.1" r="1.5"/><circle cx="647.9" cy="335.2" r="1.5"/><circle cx="652.2" cy="336.1" r="1.5"/><circle cx="659.2" cy="366.8" r="1.5"/><circle cx="639.5" cy="346.1" r="1.5"/><circle cx="647.8" cy="337.8" r="1.5"/><circle cx="650.3" cy="352.1" r="1.5"/><circle cx="658.8" cy="336.0" r="1.5"/><circle cx="655.6" cy="354.2" r="1.5"/><circle cx="653.0" cy="346.4" r="1.5"/><circle cx="654.5" cy="348.0" r="1.5"/><circle cx="647.7" cy="346.1" r="1.5"/><circle cx="658.5" cy="336.7" r="1.5"/><circle cx="659.4" cy="360.7" r="1.5"/><circle cx="651.3" cy="353.8" r="1.5"/><circle cx="637.8" cy="349.3" r="1.5"/><circle cx="647.1" cy="368.7" r="1.5"/><circle cx="642.2" cy="357.9" r="1.5"/><circle cx="640.1" cy="366.1" r="1.5"/><circle cx="643.2" cy="347.9" r="1.5"/><circle cx="658.9" cy="341.5" r="1.5"/><circle cx="644.7" cy="345.2" r="1.5"/><circle cx="647.2" cy="354.5" r="1.5"/><circle cx="645.8" cy="348.8" r="1.5"/><circle cx="639.8" cy="336.1" r="1.5"/><circle cx="651.4" cy="354.9" r="1.5"/><circle cx="646.8" cy="351.9" r="1.5"/><circle cx="662.4" cy="353.4" r="1.5"/><circle cx="652.9" cy="339.8" r="1.5"/><circle cx="663.6" cy="345.4" r="1.5"/><circle cx="660.1" cy="346.2" r="1.5"/><circle cx="649.0" cy="343.9" r="1.5"/><circle cx="634.8" cy="350.3" r="1.5"/><circle cx="640.7" cy="354.6" r="1.5"/><circle cx="637.9" cy="348.9" r="1.5"/><circle cx="656.4" cy="345.0" r="1.5"/><circle cx="638.4" cy="332.3" r="1.5"/><circle cx="653.7" cy="365.8" r="1.5"/><circle cx="644.0" cy="366.5" r="1.5"/><circle cx="648.7" cy="342.8" r="1.5"/><circle cx="657.0" cy="342.4" r="1.5"/><circle cx="643.3" cy="350.3" r="1.5"/><circle cx="639.5" cy="360.1" r="1.5"/><circle cx="642.9" cy="339.1" r="1.5"/><circle cx="662.6" cy="336.1" r="1.5"/><circle cx="650.9" cy="344.4" r="1.5"/><circle cx="642.9" cy="346.4" r="1.5"/><circle cx="638.7" cy="345.3" r="1.5"/><circle cx="636.3" cy="340.6" r="1.5"/><circle cx="644.3" cy="342.8" r="1.5"/><circle cx="652.7" cy="360.2" r="1.5"/><circle cx="648.0" cy="351.8" r="1.5"/><circle cx="658.7" cy="355.9" r="1.5"/><circle cx="664.1" cy="366.6" r="1.5"/><circle cx="651.4" cy="334.2" r="1.5"/><circle cx="644.6" cy="362.2" r="1.5"/><circle cx="658.1" cy="342.9" r="1.5"/><circle cx="637.0" cy="360.9" r="1.5"/><circle cx="657.1" cy="348.6" r="1.5"/><circle cx="660.7" cy="351.7" r="1.5"/><circle cx="641.6" cy="318.5" r="1.5"/><circle cx="657.6" cy="402.7" r="1.5"/></g>
<g fill="#de5a45" fill-opacity="0.85"><circle cx="614.9" cy="365.3" r="1.5"/><circle cx="616.0" cy="347.7" r="1.5"/><circle cx="603.6" cy="374.3" r="1.5"/><circle cx="598.5" cy="363.7" r="1.5"/><circle cx="592.4" cy="361.6" r="1.5"/><circle cx="610.3" cy="356.2" r="1.5"/><circle cx="610.4" cy="363.4" r="1.5"/><circle cx="591.4" cy="366.0" r="1.5"/><circle cx="607.0" cy="343.0" r="1.5"/><circle cx="619.6" cy="366.0" r="1.5"/><circle cx="592.3" cy="371.4" r="1.5"/><circle cx="595.5" cy="361.8" r="1.5"/><circle cx="593.1" cy="370.2" r="1.5"/><circle cx="604.5" cy="361.2" r="1.5"/><circle cx="602.9" cy="365.0" r="1.5"/><circle cx="617.5" cy="364.4" r="1.5"/><circle cx="593.4" cy="332.2" r="1.5"/><circle cx="597.4" cy="365.4" r="1.5"/><circle cx="619.5" cy="372.8" r="1.5"/><circle cx="592.0" cy="369.3" r="1.5"/><circle cx="599.2" cy="361.9" r="1.5"/><circle cx="603.2" cy="346.7" r="1.5"/><circle cx="591.4" cy="355.1" r="1.5"/><circle cx="600.0" cy="376.0" r="1.5"/><circle cx="609.5" cy="339.7" r="1.5"/><circle cx="609.9" cy="345.9" r="1.5"/><circle cx="609.7" cy="341.0" r="1.5"/><circle cx="610.9" cy="348.2" r="1.5"/><circle cx="609.8" cy="366.4" r="1.5"/><circle cx="592.4" cy="355.9" r="1.5"/><circle cx="611.0" cy="340.2" r="1.5"/><circle cx="608.9" cy="367.3" r="1.5"/><circle cx="597.9" cy="370.7" r="1.5"/><circle cx="604.0" cy="363.7" r="1.5"/><circle cx="614.0" cy="325.0" r="1.5"/></g>
<line x1="606.4" y1="335.5" x2="606.4" y2="353.3" stroke="#333" stroke-width="1.3"/>
<line x1="606.4" y1="369.2" x2="606.4" y2="374.3" stroke="#333" stroke-width="1.3"/>
<rect x="602.9" y="353.3" width="7.0" height="15.9" fill="#e0705c" stroke="#333" stroke-width="1.2"/>
<line x1="602.9" y1="362.5" x2="609.9" y2="362.5" stroke="#333" stroke-width="1.6"/>
<line x1="649.3" y1="325.0" x2="649.3" y2="341.3" stroke="#333" stroke-width="1.3"/>
<line x1="649.3" y1="356.3" x2="649.3" y2="377.8" stroke="#333" stroke-width="1.3"/>
<rect x="645.8" y="341.3" width="7.0" height="15.0" fill="#bdbdbd" stroke="#333" stroke-width="1.2"/>
<line x1="645.8" y1="347.3" x2="652.8" y2="347.3" stroke="#333" stroke-width="1.6"/>
<line x1="606.4" y1="327.2" x2="649.3" y2="327.2" stroke="#333" stroke-width="1.0"/>
</g>
<text x="627.8" y="325.6" font-size="7.2" text-anchor="middle" fill="#333">0.03</text>
<rect x="580.8" y="314.3" width="93.6" height="93.0" fill="none" stroke="#333333" stroke-width="1.2"/>
<rect x="462.5" y="414.7" width="94.2" height="14.7" fill="#d5d6d5" stroke="#333333" stroke-width="1.1"/>
<text x="509.6" y="425.5" font-size="9.7" font-weight="bold" text-anchor="middle" fill="#1a1a1a">CD6</text>
<rect x="462.5" y="429.4" width="94.2" height="92.8" fill="#fff"/>
<line x1="462.5" y1="439.8" x2="556.7" y2="439.8" stroke="#ebebeb" stroke-width="0.6"/>
<line x1="462.5" y1="457.3" x2="556.7" y2="457.3" stroke="#ebebeb" stroke-width="0.6"/>
<line x1="462.5" y1="474.8" x2="556.7" y2="474.8" stroke="#ebebeb" stroke-width="0.6"/>
<line x1="462.5" y1="492.3" x2="556.7" y2="492.3" stroke="#ebebeb" stroke-width="0.6"/>
<line x1="462.5" y1="509.8" x2="556.7" y2="509.8" stroke="#ebebeb" stroke-width="0.6"/>
<line x1="462.5" y1="431.1" x2="556.7" y2="431.1" stroke="#ebebeb" stroke-width="1.1"/>
<line x1="462.5" y1="448.6" x2="556.7" y2="448.6" stroke="#ebebeb" stroke-width="1.1"/>
<line x1="462.5" y1="466.1" x2="556.7" y2="466.1" stroke="#ebebeb" stroke-width="1.1"/>
<line x1="462.5" y1="483.5" x2="556.7" y2="483.5" stroke="#ebebeb" stroke-width="1.1"/>
<line x1="462.5" y1="501.0" x2="556.7" y2="501.0" stroke="#ebebeb" stroke-width="1.1"/>
<line x1="462.5" y1="518.5" x2="556.7" y2="518.5" stroke="#ebebeb" stroke-width="1.1"/>
<line x1="488.4" y1="429.4" x2="488.4" y2="522.2" stroke="#ebebeb" stroke-width="1.1"/>
<line x1="531.0" y1="429.4" x2="531.0" y2="522.2" stroke="#ebebeb" stroke-width="1.1"/>
<line x1="460.3" y1="431.1" x2="462.5" y2="431.1" stroke="#333333" stroke-width="0.9"/>
<text x="459.3" y="433.9" font-size="7.8" text-anchor="end" fill="#4d4d4d">3</text>
<line x1="460.3" y1="448.6" x2="462.5" y2="448.6" stroke="#333333" stroke-width="0.9"/>
<text x="459.3" y="451.4" font-size="7.8" text-anchor="end" fill="#4d4d4d">2</text>
<line x1="460.3" y1="466.1" x2="462.5" y2="466.1" stroke="#333333" stroke-width="0.9"/>
<text x="459.3" y="468.9" font-size="7.8" text-anchor="end" fill="#4d4d4d">1</text>
<line x1="460.3" y1="483.5" x2="462.5" y2="483.5" stroke="#333333" stroke-width="0.9"/>
<text x="459.3" y="486.3" font-size="7.8" text-anchor="end" fill="#4d4d4d">0</text>
<line x1="460.3" y1="501.0" x2="462.5" y2="501.0" stroke="#333333" stroke-width="0.9"/>
<text x="459.3" y="503.8" font-size="7.8" text-anchor="end" fill="#4d4d4d">&#8722;1</text>
<line x1="460.3" y1="518.5" x2="462.5" y2="518.5" stroke="#333333" stroke-width="0.9"/>
<text x="459.3" y="521.3" font-size="7.8" text-anchor="end" fill="#4d4d4d">&#8722;2</text>
<clipPath id="c2"><rect x="462.5" y="429.4" width="94.2" height="92.8"/></clipPath>
<g clip-path="url(#c2)">
<path d="M489.4,442.2 L490.7,443.4 L491.0,444.5 L491.0,445.7 L491.0,446.9 L491.0,448.0 L491.0,449.2 L491.0,450.4 L491.0,451.5 L491.0,452.7 L491.0,453.9 L491.0,455.0 L491.0,456.2 L491.0,457.4 L491.0,458.5 L491.0,459.7 L491.0,460.9 L491.1,462.0 L491.6,463.2 L492.2,464.4 L492.9,465.5 L493.6,466.7 L494.3,467.9 L495.1,469.0 L496.0,470.2 L496.9,471.4 L497.8,472.5 L498.6,473.7 L499.3,474.9 L500.1,476.0 L500.8,477.2 L501.5,478.3 L502.2,479.5 L502.8,480.7 L503.5,481.8 L504.2,483.0 L505.0,484.2 L505.7,485.3 L506.5,486.5 L507.1,487.7 L507.5,488.8 L507.6,490.0 L507.3,491.2 L506.7,492.3 L505.7,493.5 L504.6,494.7 L503.4,495.8 L502.4,497.0 L501.4,498.2 L500.4,499.3 L499.4,500.5 L498.4,501.7 L497.3,502.8 L496.3,504.0 L495.3,505.2 L494.4,506.3 L493.4,507.5 L492.2,508.7 L490.8,509.8 L488.9,511.0 L487.9,511.0 L486.0,509.8 L484.6,508.7 L483.4,507.5 L482.4,506.3 L481.5,505.2 L480.5,504.0 L479.5,502.8 L478.4,501.7 L477.4,500.5 L476.4,499.3 L475.4,498.2 L474.4,497.0 L473.4,495.8 L472.2,494.7 L471.1,493.5 L470.1,492.3 L469.5,491.2 L469.2,490.0 L469.3,488.8 L469.7,487.7 L470.3,486.5 L471.1,485.3 L471.8,484.2 L472.6,483.0 L473.3,481.8 L474.0,480.7 L474.6,479.5 L475.3,478.3 L476.0,477.2 L476.7,476.0 L477.5,474.9 L478.2,473.7 L479.0,472.5 L479.9,471.4 L480.8,470.2 L481.7,469.0 L482.5,467.9 L483.2,466.7 L483.9,465.5 L484.6,464.4 L485.2,463.2 L485.7,462.0 L485.8,460.9 L485.8,459.7 L485.8,458.5 L485.8,457.4 L485.8,456.2 L485.8,455.0 L485.8,453.9 L485.8,452.7 L485.8,451.5 L485.8,450.4 L485.8,449.2 L485.8,448.0 L485.8,446.9 L485.8,445.7 L485.8,444.5 L486.1,443.4 L487.4,442.2Z" fill="#eba394" fill-opacity="0.75"/>
<path d="M531.5,444.3 L533.1,445.5 L534.6,446.7 L536.1,447.9 L537.3,449.1 L538.4,450.3 L539.5,451.5 L540.4,452.7 L541.3,453.9 L542.1,455.1 L542.8,456.3 L543.4,457.5 L544.1,458.7 L544.7,459.9 L545.3,461.1 L545.8,462.3 L546.2,463.5 L546.5,464.7 L546.6,465.9 L546.7,467.1 L546.8,468.3 L546.9,469.5 L546.9,470.7 L547.0,471.9 L547.0,473.1 L547.0,474.3 L546.8,475.5 L546.6,476.7 L546.3,477.9 L545.9,479.1 L545.5,480.2 L545.1,481.4 L544.6,482.6 L544.0,483.8 L543.3,485.0 L542.6,486.2 L541.8,487.4 L541.0,488.6 L540.2,489.8 L539.3,491.0 L538.4,492.2 L537.5,493.4 L536.6,494.6 L535.9,495.8 L535.1,497.0 L534.3,498.2 L533.6,499.4 L533.1,500.6 L532.8,501.8 L532.6,503.0 L532.4,504.2 L532.3,505.4 L532.1,506.6 L532.0,507.8 L531.9,509.0 L531.8,510.2 L531.7,511.4 L531.6,512.6 L531.6,513.8 L531.5,515.0 L530.5,515.0 L530.4,513.8 L530.4,512.6 L530.3,511.4 L530.2,510.2 L530.1,509.0 L530.0,507.8 L529.9,506.6 L529.7,505.4 L529.6,504.2 L529.4,503.0 L529.2,501.8 L528.9,500.6 L528.4,499.4 L527.7,498.2 L526.9,497.0 L526.1,495.8 L525.4,494.6 L524.5,493.4 L523.6,492.2 L522.7,491.0 L521.8,489.8 L521.0,488.6 L520.2,487.4 L519.4,486.2 L518.7,485.0 L518.0,483.8 L517.4,482.6 L516.9,481.4 L516.5,480.2 L516.1,479.1 L515.7,477.9 L515.4,476.7 L515.2,475.5 L515.0,474.3 L515.0,473.1 L515.0,471.9 L515.1,470.7 L515.1,469.5 L515.2,468.3 L515.3,467.1 L515.4,465.9 L515.5,464.7 L515.8,463.5 L516.2,462.3 L516.7,461.1 L517.3,459.9 L517.9,458.7 L518.6,457.5 L519.2,456.3 L519.9,455.1 L520.7,453.9 L521.6,452.7 L522.5,451.5 L523.6,450.3 L524.7,449.1 L525.9,447.9 L527.4,446.7 L528.9,445.5 L530.5,444.3Z" fill="#d4d4d4" fill-opacity="0.8"/>
<g fill="#b3b3b3" fill-opacity="0.75"><circle cx="521.3" cy="458.8" r="1.5"/><circle cx="526.2" cy="462.7" r="1.5"/><circle cx="531.2" cy="492.6" r="1.5"/><circle cx="522.5" cy="487.6" r="1.5"/><circle cx="533.3" cy="481.8" r="1.5"/><circle cx="541.2" cy="479.0" r="1.5"/><circle cx="521.3" cy="467.2" r="1.5"/><circle cx="543.9" cy="458.3" r="1.5"/><circle cx="531.2" cy="473.2" r="1.5"/><circle cx="545.3" cy="494.6" r="1.5"/><circle cx="545.0" cy="490.2" r="1.5"/><circle cx="517.9" cy="492.5" r="1.5"/><circle cx="536.5" cy="457.5" r="1.5"/><circle cx="523.3" cy="477.1" r="1.5"/><circle cx="534.6" cy="466.2" r="1.5"/><circle cx="542.7" cy="476.9" r="1.5"/><circle cx="529.7" cy="465.6" r="1.5"/><circle cx="535.6" cy="468.3" r="1.5"/><circle cx="536.0" cy="457.4" r="1.5"/><circle cx="521.6" cy="469.4" r="1.5"/><circle cx="528.8" cy="472.1" r="1.5"/><circle cx="524.7" cy="514.2" r="1.5"/><circle cx="530.5" cy="485.1" r="1.5"/><circle cx="538.9" cy="475.0" r="1.5"/><circle cx="520.4" cy="461.4" r="1.5"/><circle cx="532.6" cy="453.7" r="1.5"/><circle cx="531.1" cy="475.2" r="1.5"/><circle cx="527.5" cy="460.6" r="1.5"/><circle cx="541.3" cy="481.9" r="1.5"/><circle cx="526.5" cy="467.8" r="1.5"/><circle cx="540.0" cy="481.9" r="1.5"/><circle cx="518.1" cy="462.3" r="1.5"/><circle cx="529.2" cy="489.0" r="1.5"/><circle cx="519.3" cy="473.6" r="1.5"/><circle cx="541.4" cy="477.4" r="1.5"/><circle cx="535.9" cy="455.8" r="1.5"/><circle cx="522.4" cy="469.9" r="1.5"/><circle cx="527.2" cy="468.4" r="1.5"/><circle cx="519.8" cy="481.5" r="1.5"/><circle cx="542.6" cy="456.4" r="1.5"/><circle cx="542.8" cy="455.1" r="1.5"/><circle cx="542.8" cy="471.5" r="1.5"/><circle cx="534.2" cy="457.4" r="1.5"/><circle cx="523.9" cy="466.1" r="1.5"/><circle cx="529.7" cy="465.0" r="1.5"/><circle cx="535.9" cy="477.8" r="1.5"/><circle cx="528.8" cy="486.7" r="1.5"/><circle cx="517.7" cy="473.6" r="1.5"/><circle cx="531.8" cy="467.8" r="1.5"/><circle cx="518.6" cy="476.7" r="1.5"/><circle cx="523.1" cy="494.2" r="1.5"/><circle cx="540.5" cy="465.1" r="1.5"/><circle cx="534.4" cy="481.9" r="1.5"/><circle cx="539.9" cy="471.2" r="1.5"/><circle cx="536.4" cy="480.7" r="1.5"/><circle cx="535.7" cy="483.3" r="1.5"/><circle cx="523.4" cy="483.1" r="1.5"/><circle cx="537.2" cy="463.6" r="1.5"/><circle cx="519.8" cy="476.2" r="1.5"/><circle cx="516.5" cy="485.7" r="1.5"/><circle cx="526.2" cy="475.3" r="1.5"/><circle cx="520.7" cy="487.8" r="1.5"/><circle cx="536.8" cy="490.6" r="1.5"/><circle cx="524.6" cy="489.6" r="1.5"/><circle cx="517.0" cy="494.0" r="1.5"/><circle cx="539.3" cy="478.1" r="1.5"/><circle cx="544.0" cy="462.7" r="1.5"/><circle cx="537.3" cy="470.2" r="1.5"/><circle cx="544.7" cy="481.0" r="1.5"/><circle cx="539.5" cy="458.5" r="1.5"/><circle cx="543.9" cy="454.3" r="1.5"/><circle cx="536.2" cy="482.4" r="1.5"/><circle cx="539.5" cy="465.7" r="1.5"/><circle cx="539.9" cy="499.6" r="1.5"/><circle cx="519.5" cy="453.1" r="1.5"/><circle cx="525.6" cy="476.6" r="1.5"/><circle cx="534.5" cy="482.7" r="1.5"/><circle cx="525.6" cy="454.3" r="1.5"/><circle cx="542.2" cy="476.4" r="1.5"/><circle cx="517.6" cy="480.7" r="1.5"/><circle cx="519.8" cy="452.6" r="1.5"/><circle cx="525.8" cy="492.6" r="1.5"/><circle cx="526.3" cy="479.0" r="1.5"/><circle cx="541.0" cy="459.3" r="1.5"/><circle cx="516.4" cy="484.8" r="1.5"/><circle cx="540.8" cy="491.0" r="1.5"/><circle cx="545.2" cy="453.0" r="1.5"/><circle cx="517.5" cy="466.2" r="1.5"/><circle cx="544.6" cy="460.1" r="1.5"/><circle cx="535.8" cy="457.7" r="1.5"/><circle cx="520.0" cy="461.5" r="1.5"/><circle cx="540.9" cy="483.7" r="1.5"/><circle cx="519.6" cy="454.6" r="1.5"/><circle cx="527.5" cy="463.2" r="1.5"/><circle cx="523.2" cy="463.3" r="1.5"/><circle cx="527.5" cy="485.1" r="1.5"/><circle cx="520.4" cy="455.7" r="1.5"/><circle cx="527.4" cy="460.5" r="1.5"/><circle cx="533.1" cy="451.3" r="1.5"/><circle cx="529.9" cy="491.2" r="1.5"/><circle cx="531.6" cy="483.8" r="1.5"/><circle cx="542.8" cy="474.2" r="1.5"/><circle cx="541.5" cy="472.4" r="1.5"/><circle cx="519.4" cy="489.2" r="1.5"/><circle cx="538.0" cy="456.3" r="1.5"/><circle cx="539.9" cy="458.8" r="1.5"/><circle cx="543.3" cy="448.1" r="1.5"/><circle cx="527.8" cy="470.5" r="1.5"/><circle cx="543.7" cy="461.7" r="1.5"/><circle cx="532.7" cy="489.2" r="1.5"/><circle cx="530.1" cy="493.3" r="1.5"/><circle cx="531.2" cy="460.3" r="1.5"/><circle cx="528.4" cy="481.6" r="1.5"/><circle cx="536.7" cy="470.6" r="1.5"/><circle cx="532.0" cy="461.8" r="1.5"/><circle cx="542.3" cy="466.9" r="1.5"/><circle cx="530.1" cy="459.2" r="1.5"/><circle cx="517.6" cy="449.5" r="1.5"/><circle cx="520.7" cy="467.6" r="1.5"/><circle cx="528.4" cy="494.0" r="1.5"/><circle cx="530.1" cy="470.4" r="1.5"/><circle cx="540.4" cy="474.9" r="1.5"/><circle cx="533.7" cy="471.9" r="1.5"/><circle cx="521.1" cy="478.8" r="1.5"/><circle cx="525.1" cy="463.1" r="1.5"/><circle cx="532.1" cy="471.6" r="1.5"/><circle cx="539.8" cy="484.8" r="1.5"/><circle cx="537.3" cy="463.0" r="1.5"/><circle cx="535.2" cy="469.9" r="1.5"/><circle cx="523.7" cy="466.5" r="1.5"/><circle cx="533.1" cy="488.4" r="1.5"/><circle cx="523.4" cy="485.2" r="1.5"/><circle cx="518.0" cy="468.4" r="1.5"/><circle cx="538.8" cy="470.1" r="1.5"/><circle cx="535.5" cy="462.4" r="1.5"/><circle cx="545.6" cy="494.8" r="1.5"/><circle cx="538.4" cy="465.5" r="1.5"/><circle cx="523.6" cy="464.7" r="1.5"/><circle cx="516.8" cy="471.3" r="1.5"/><circle cx="528.9" cy="488.7" r="1.5"/><circle cx="540.0" cy="436.0" r="1.5"/><circle cx="544.3" cy="440.5" r="1.5"/><circle cx="531.9" cy="516.3" r="1.5"/></g>
<g fill="#de5a45" fill-opacity="0.85"><circle cx="486.5" cy="495.6" r="1.5"/><circle cx="500.0" cy="470.5" r="1.5"/><circle cx="476.3" cy="491.2" r="1.5"/><circle cx="495.6" cy="496.4" r="1.5"/><circle cx="491.3" cy="480.9" r="1.5"/><circle cx="494.4" cy="488.7" r="1.5"/><circle cx="475.4" cy="477.9" r="1.5"/><circle cx="502.4" cy="476.4" r="1.5"/><circle cx="474.3" cy="481.4" r="1.5"/><circle cx="478.7" cy="505.1" r="1.5"/><circle cx="488.9" cy="450.8" r="1.5"/><circle cx="490.6" cy="473.5" r="1.5"/><circle cx="478.7" cy="479.0" r="1.5"/><circle cx="482.0" cy="478.8" r="1.5"/><circle cx="500.9" cy="487.9" r="1.5"/><circle cx="483.0" cy="480.3" r="1.5"/><circle cx="486.8" cy="489.6" r="1.5"/><circle cx="476.7" cy="486.0" r="1.5"/><circle cx="490.5" cy="489.2" r="1.5"/><circle cx="494.4" cy="459.9" r="1.5"/><circle cx="495.6" cy="481.4" r="1.5"/><circle cx="480.4" cy="496.3" r="1.5"/><circle cx="484.5" cy="460.8" r="1.5"/><circle cx="493.0" cy="489.8" r="1.5"/><circle cx="502.6" cy="497.6" r="1.5"/><circle cx="496.5" cy="505.1" r="1.5"/><circle cx="480.0" cy="499.8" r="1.5"/><circle cx="475.4" cy="475.1" r="1.5"/><circle cx="483.2" cy="448.2" r="1.5"/><circle cx="489.3" cy="495.6" r="1.5"/><circle cx="481.6" cy="475.5" r="1.5"/><circle cx="497.1" cy="486.3" r="1.5"/><circle cx="481.1" cy="493.6" r="1.5"/><circle cx="477.1" cy="496.1" r="1.5"/><circle cx="483.2" cy="442.3" r="1.5"/><circle cx="472.5" cy="452.0" r="1.5"/></g>
<line x1="488.4" y1="461.2" x2="488.4" y2="477.5" stroke="#333" stroke-width="1.3"/>
<line x1="488.4" y1="494.2" x2="488.4" y2="509.4" stroke="#333" stroke-width="1.3"/>
<rect x="484.9" y="477.5" width="7.0" height="16.7" fill="#e0705c" stroke="#333" stroke-width="1.2"/>
<line x1="484.9" y1="487.3" x2="491.9" y2="487.3" stroke="#333" stroke-width="1.6"/>
<line x1="531.0" y1="434.5" x2="531.0" y2="463.4" stroke="#333" stroke-width="1.3"/>
<line x1="531.0" y1="483.1" x2="531.0" y2="504.6" stroke="#333" stroke-width="1.3"/>
<rect x="527.5" y="463.4" width="7.0" height="19.7" fill="#bdbdbd" stroke="#333" stroke-width="1.2"/>
<line x1="527.5" y1="473.4" x2="534.5" y2="473.4" stroke="#333" stroke-width="1.6"/>
<line x1="488.4" y1="440.4" x2="531.0" y2="440.4" stroke="#333" stroke-width="1.0"/>
</g>
<text x="509.7" y="438.8" font-size="7.2" text-anchor="middle" fill="#333">0.04</text>
<rect x="462.5" y="429.4" width="94.2" height="92.8" fill="none" stroke="#333333" stroke-width="1.2"/>
<rect x="580.8" y="414.7" width="93.6" height="14.7" fill="#d5d6d5" stroke="#333333" stroke-width="1.1"/>
<text x="627.6" y="425.5" font-size="9.7" font-weight="bold" text-anchor="middle" fill="#1a1a1a">VAT1</text>
<rect x="580.8" y="429.4" width="93.6" height="92.8" fill="#fff"/>
<line x1="580.8" y1="446.2" x2="674.4" y2="446.2" stroke="#ebebeb" stroke-width="0.6"/>
<line x1="580.8" y1="464.7" x2="674.4" y2="464.7" stroke="#ebebeb" stroke-width="0.6"/>
<line x1="580.8" y1="483.1" x2="674.4" y2="483.1" stroke="#ebebeb" stroke-width="0.6"/>
<line x1="580.8" y1="501.6" x2="674.4" y2="501.6" stroke="#ebebeb" stroke-width="0.6"/>
<line x1="580.8" y1="437.0" x2="674.4" y2="437.0" stroke="#ebebeb" stroke-width="1.1"/>
<line x1="580.8" y1="455.4" x2="674.4" y2="455.4" stroke="#ebebeb" stroke-width="1.1"/>
<line x1="580.8" y1="473.9" x2="674.4" y2="473.9" stroke="#ebebeb" stroke-width="1.1"/>
<line x1="580.8" y1="492.4" x2="674.4" y2="492.4" stroke="#ebebeb" stroke-width="1.1"/>
<line x1="580.8" y1="510.8" x2="674.4" y2="510.8" stroke="#ebebeb" stroke-width="1.1"/>
<line x1="606.4" y1="429.4" x2="606.4" y2="522.2" stroke="#ebebeb" stroke-width="1.1"/>
<line x1="649.3" y1="429.4" x2="649.3" y2="522.2" stroke="#ebebeb" stroke-width="1.1"/>
<line x1="578.6" y1="437.0" x2="580.8" y2="437.0" stroke="#333333" stroke-width="0.9"/>
<text x="577.6" y="439.8" font-size="7.8" text-anchor="end" fill="#4d4d4d">1.0</text>
<line x1="578.6" y1="455.4" x2="580.8" y2="455.4" stroke="#333333" stroke-width="0.9"/>
<text x="577.6" y="458.3" font-size="7.8" text-anchor="end" fill="#4d4d4d">0.5</text>
<line x1="578.6" y1="473.9" x2="580.8" y2="473.9" stroke="#333333" stroke-width="0.9"/>
<text x="577.6" y="476.7" font-size="7.8" text-anchor="end" fill="#4d4d4d">0.0</text>
<line x1="578.6" y1="492.4" x2="580.8" y2="492.4" stroke="#333333" stroke-width="0.9"/>
<text x="577.6" y="495.2" font-size="7.8" text-anchor="end" fill="#4d4d4d">&#8722;0.5</text>
<line x1="578.6" y1="510.8" x2="580.8" y2="510.8" stroke="#333333" stroke-width="0.9"/>
<text x="577.6" y="513.6" font-size="7.8" text-anchor="end" fill="#4d4d4d">&#8722;1.0</text>
<clipPath id="c3"><rect x="580.8" y="429.4" width="93.6" height="92.8"/></clipPath>
<g clip-path="url(#c3)">
<path d="M607.9,434.5 L608.0,435.5 L608.0,436.6 L607.2,437.6 L607.0,438.6 L607.0,439.6 L607.1,440.7 L607.1,441.7 L607.2,442.7 L607.3,443.7 L607.4,444.8 L607.6,445.8 L608.1,446.8 L608.9,447.8 L609.7,448.9 L610.5,449.9 L611.2,450.9 L612.1,451.9 L613.0,453.0 L613.9,454.0 L614.9,455.0 L615.8,456.0 L616.7,457.1 L617.6,458.1 L618.6,459.1 L619.5,460.1 L620.4,461.2 L621.3,462.2 L622.2,463.2 L623.3,464.2 L624.3,465.3 L625.1,466.3 L625.5,467.3 L625.6,468.3 L625.3,469.4 L624.7,470.4 L624.0,471.4 L623.2,472.4 L622.3,473.5 L621.1,474.5 L619.4,475.5 L617.6,476.5 L616.3,477.6 L615.3,478.6 L614.4,479.6 L613.5,480.6 L612.8,481.7 L612.1,482.7 L611.6,483.7 L611.3,484.7 L611.2,485.8 L611.0,486.8 L610.9,487.8 L610.8,488.8 L610.7,489.9 L610.5,490.9 L610.2,491.9 L609.4,492.9 L608.2,494.0 L606.9,495.0 L605.9,495.0 L604.6,494.0 L603.4,492.9 L602.6,491.9 L602.3,490.9 L602.1,489.9 L602.0,488.8 L601.9,487.8 L601.8,486.8 L601.6,485.8 L601.5,484.7 L601.2,483.7 L600.7,482.7 L600.0,481.7 L599.3,480.6 L598.4,479.6 L597.5,478.6 L596.5,477.6 L595.2,476.5 L593.4,475.5 L591.7,474.5 L590.5,473.5 L589.6,472.4 L588.8,471.4 L588.1,470.4 L587.5,469.4 L587.2,468.3 L587.3,467.3 L587.7,466.3 L588.5,465.3 L589.5,464.2 L590.6,463.2 L591.5,462.2 L592.4,461.2 L593.3,460.1 L594.2,459.1 L595.2,458.1 L596.1,457.1 L597.0,456.0 L597.9,455.0 L598.9,454.0 L599.8,453.0 L600.7,451.9 L601.6,450.9 L602.3,449.9 L603.1,448.9 L603.9,447.8 L604.7,446.8 L605.2,445.8 L605.4,444.8 L605.5,443.7 L605.6,442.7 L605.7,441.7 L605.7,440.7 L605.8,439.6 L605.8,438.6 L605.6,437.6 L604.8,436.6 L604.8,435.5 L604.9,434.5Z" fill="#eba394" fill-opacity="0.75"/>
<path d="M649.8,456.7 L651.1,457.6 L652.4,458.4 L653.6,459.3 L654.7,460.1 L655.8,461.0 L656.8,461.8 L657.7,462.7 L658.6,463.5 L659.4,464.4 L660.2,465.2 L660.9,466.1 L661.6,466.9 L662.3,467.8 L662.9,468.6 L663.5,469.5 L664.2,470.3 L664.8,471.2 L665.4,472.0 L665.7,472.9 L665.8,473.8 L665.4,474.6 L664.8,475.5 L663.9,476.3 L663.0,477.2 L662.1,478.0 L661.3,478.9 L660.7,479.7 L660.0,480.6 L659.4,481.4 L658.7,482.3 L658.1,483.1 L657.6,484.0 L657.1,484.8 L656.7,485.7 L656.3,486.5 L655.9,487.4 L655.5,488.2 L655.2,489.1 L654.9,489.9 L654.5,490.8 L654.2,491.7 L653.9,492.5 L653.5,493.4 L653.2,494.2 L652.9,495.1 L652.6,495.9 L652.3,496.8 L652.0,497.6 L651.7,498.5 L651.5,499.3 L651.2,500.2 L650.9,501.0 L650.6,501.9 L650.4,502.7 L650.1,503.6 L650.0,504.4 L649.8,505.3 L649.7,506.1 L649.6,507.0 L649.0,507.0 L648.9,506.1 L648.8,505.3 L648.6,504.4 L648.5,503.6 L648.2,502.7 L648.0,501.9 L647.7,501.0 L647.4,500.2 L647.1,499.3 L646.9,498.5 L646.6,497.6 L646.3,496.8 L646.0,495.9 L645.7,495.1 L645.4,494.2 L645.1,493.4 L644.7,492.5 L644.4,491.7 L644.1,490.8 L643.7,489.9 L643.4,489.1 L643.1,488.2 L642.7,487.4 L642.3,486.5 L641.9,485.7 L641.5,484.8 L641.0,484.0 L640.5,483.1 L639.9,482.3 L639.2,481.4 L638.6,480.6 L637.9,479.7 L637.3,478.9 L636.5,478.0 L635.6,477.2 L634.7,476.3 L633.8,475.5 L633.2,474.6 L632.8,473.8 L632.9,472.9 L633.2,472.0 L633.8,471.2 L634.4,470.3 L635.1,469.5 L635.7,468.6 L636.3,467.8 L637.0,466.9 L637.7,466.1 L638.4,465.2 L639.2,464.4 L640.0,463.5 L640.9,462.7 L641.8,461.8 L642.8,461.0 L643.9,460.1 L645.0,459.3 L646.2,458.4 L647.5,457.6 L648.8,456.7Z" fill="#d4d4d4" fill-opacity="0.8"/>
<g fill="#b3b3b3" fill-opacity="0.75"><circle cx="639.2" cy="468.7" r="1.5"/><circle cx="649.8" cy="466.7" r="1.5"/><circle cx="653.5" cy="473.8" r="1.5"/><circle cx="663.7" cy="489.3" r="1.5"/><circle cx="637.7" cy="483.1" r="1.5"/><circle cx="635.6" cy="476.2" r="1.5"/><circle cx="654.9" cy="465.7" r="1.5"/><circle cx="661.2" cy="472.2" r="1.5"/><circle cx="637.1" cy="488.2" r="1.5"/><circle cx="643.2" cy="472.8" r="1.5"/><circle cx="654.7" cy="463.6" r="1.5"/><circle cx="653.5" cy="474.4" r="1.5"/><circle cx="660.4" cy="486.4" r="1.5"/><circle cx="654.2" cy="485.8" r="1.5"/><circle cx="662.7" cy="486.4" r="1.5"/><circle cx="643.1" cy="474.3" r="1.5"/><circle cx="656.7" cy="476.0" r="1.5"/><circle cx="652.0" cy="481.3" r="1.5"/><circle cx="646.1" cy="458.6" r="1.5"/><circle cx="655.9" cy="472.3" r="1.5"/><circle cx="659.7" cy="468.0" r="1.5"/><circle cx="651.7" cy="478.9" r="1.5"/><circle cx="655.8" cy="494.2" r="1.5"/><circle cx="646.7" cy="503.9" r="1.5"/><circle cx="660.1" cy="486.8" r="1.5"/><circle cx="645.8" cy="464.9" r="1.5"/><circle cx="653.0" cy="501.2" r="1.5"/><circle cx="652.2" cy="502.9" r="1.5"/><circle cx="649.7" cy="475.3" r="1.5"/><circle cx="661.8" cy="472.3" r="1.5"/><circle cx="655.4" cy="465.8" r="1.5"/><circle cx="652.0" cy="460.3" r="1.5"/><circle cx="655.7" cy="484.7" r="1.5"/><circle cx="655.6" cy="505.5" r="1.5"/><circle cx="644.2" cy="475.7" r="1.5"/><circle cx="643.8" cy="506.4" r="1.5"/><circle cx="652.6" cy="471.2" r="1.5"/><circle cx="638.5" cy="477.1" r="1.5"/><circle cx="658.6" cy="465.0" r="1.5"/><circle cx="657.4" cy="490.0" r="1.5"/><circle cx="653.5" cy="458.3" r="1.5"/><circle cx="644.3" cy="479.9" r="1.5"/><circle cx="663.7" cy="496.0" r="1.5"/><circle cx="656.6" cy="476.0" r="1.5"/><circle cx="660.1" cy="476.6" r="1.5"/><circle cx="655.9" cy="495.8" r="1.5"/><circle cx="651.1" cy="487.0" r="1.5"/><circle cx="642.8" cy="486.0" r="1.5"/><circle cx="639.7" cy="476.9" r="1.5"/><circle cx="658.8" cy="462.4" r="1.5"/><circle cx="652.9" cy="464.8" r="1.5"/><circle cx="641.4" cy="490.6" r="1.5"/><circle cx="640.6" cy="470.2" r="1.5"/><circle cx="648.9" cy="471.3" r="1.5"/><circle cx="653.3" cy="468.2" r="1.5"/><circle cx="657.2" cy="471.1" r="1.5"/><circle cx="648.7" cy="489.7" r="1.5"/><circle cx="641.8" cy="469.8" r="1.5"/><circle cx="654.6" cy="465.2" r="1.5"/><circle cx="638.2" cy="485.3" r="1.5"/><circle cx="639.5" cy="494.4" r="1.5"/><circle cx="645.5" cy="470.0" r="1.5"/><circle cx="651.2" cy="475.3" r="1.5"/><circle cx="634.9" cy="493.2" r="1.5"/><circle cx="638.4" cy="480.3" r="1.5"/><circle cx="655.5" cy="473.3" r="1.5"/><circle cx="646.6" cy="474.7" r="1.5"/><circle cx="647.7" cy="472.3" r="1.5"/><circle cx="648.5" cy="467.3" r="1.5"/><circle cx="639.6" cy="472.7" r="1.5"/><circle cx="663.2" cy="477.9" r="1.5"/><circle cx="662.0" cy="473.0" r="1.5"/><circle cx="653.3" cy="468.8" r="1.5"/><circle cx="637.1" cy="491.3" r="1.5"/><circle cx="654.9" cy="473.0" r="1.5"/><circle cx="658.6" cy="465.7" r="1.5"/><circle cx="644.4" cy="463.3" r="1.5"/><circle cx="638.8" cy="463.8" r="1.5"/><circle cx="656.1" cy="471.6" r="1.5"/><circle cx="653.4" cy="475.9" r="1.5"/><circle cx="646.1" cy="477.6" r="1.5"/><circle cx="643.2" cy="500.2" r="1.5"/><circle cx="662.2" cy="486.0" r="1.5"/><circle cx="636.9" cy="478.5" r="1.5"/><circle cx="643.6" cy="477.5" r="1.5"/><circle cx="648.7" cy="488.7" r="1.5"/><circle cx="652.0" cy="468.9" r="1.5"/><circle cx="642.0" cy="459.3" r="1.5"/><circle cx="652.1" cy="472.2" r="1.5"/><circle cx="637.7" cy="473.7" r="1.5"/><circle cx="650.2" cy="460.6" r="1.5"/><circle cx="636.9" cy="463.3" r="1.5"/><circle cx="646.0" cy="479.7" r="1.5"/><circle cx="655.7" cy="471.9" r="1.5"/><circle cx="640.3" cy="461.3" r="1.5"/><circle cx="638.9" cy="465.2" r="1.5"/><circle cx="663.3" cy="468.8" r="1.5"/><circle cx="647.2" cy="482.4" r="1.5"/><circle cx="636.0" cy="487.2" r="1.5"/><circle cx="647.1" cy="479.6" r="1.5"/><circle cx="642.5" cy="477.2" r="1.5"/><circle cx="658.8" cy="471.1" r="1.5"/><circle cx="660.7" cy="467.2" r="1.5"/><circle cx="657.2" cy="485.0" r="1.5"/><circle cx="654.5" cy="469.1" r="1.5"/><circle cx="651.4" cy="464.2" r="1.5"/><circle cx="636.0" cy="489.2" r="1.5"/><circle cx="653.8" cy="471.5" r="1.5"/><circle cx="645.9" cy="463.8" r="1.5"/><circle cx="642.8" cy="489.8" r="1.5"/><circle cx="651.2" cy="483.2" r="1.5"/><circle cx="641.6" cy="467.1" r="1.5"/><circle cx="663.9" cy="476.5" r="1.5"/><circle cx="652.2" cy="493.2" r="1.5"/><circle cx="656.8" cy="485.8" r="1.5"/><circle cx="637.6" cy="483.7" r="1.5"/><circle cx="635.4" cy="477.9" r="1.5"/><circle cx="639.5" cy="475.2" r="1.5"/><circle cx="639.8" cy="485.9" r="1.5"/><circle cx="650.8" cy="465.2" r="1.5"/><circle cx="654.0" cy="469.0" r="1.5"/><circle cx="661.2" cy="488.2" r="1.5"/><circle cx="637.2" cy="481.4" r="1.5"/><circle cx="649.2" cy="465.8" r="1.5"/><circle cx="654.1" cy="461.0" r="1.5"/><circle cx="646.8" cy="475.0" r="1.5"/><circle cx="636.5" cy="465.3" r="1.5"/><circle cx="637.2" cy="501.5" r="1.5"/><circle cx="634.6" cy="471.8" r="1.5"/><circle cx="643.9" cy="471.0" r="1.5"/><circle cx="639.1" cy="460.6" r="1.5"/><circle cx="662.8" cy="472.9" r="1.5"/><circle cx="653.2" cy="477.7" r="1.5"/><circle cx="637.2" cy="473.8" r="1.5"/><circle cx="654.3" cy="470.2" r="1.5"/><circle cx="649.4" cy="479.6" r="1.5"/><circle cx="659.2" cy="478.3" r="1.5"/><circle cx="640.0" cy="471.7" r="1.5"/><circle cx="644.7" cy="471.0" r="1.5"/><circle cx="649.0" cy="484.2" r="1.5"/><circle cx="635.5" cy="512.0" r="1.5"/><circle cx="661.4" cy="511.4" r="1.5"/><circle cx="644.5" cy="517.5" r="1.5"/><circle cx="656.6" cy="454.5" r="1.5"/></g>
<g fill="#de5a45" fill-opacity="0.85"><circle cx="604.2" cy="457.2" r="1.5"/><circle cx="613.8" cy="470.1" r="1.5"/><circle cx="606.1" cy="464.0" r="1.5"/><circle cx="613.0" cy="452.7" r="1.5"/><circle cx="591.7" cy="464.3" r="1.5"/><circle cx="594.4" cy="457.5" r="1.5"/><circle cx="597.0" cy="458.1" r="1.5"/><circle cx="609.2" cy="469.3" r="1.5"/><circle cx="608.9" cy="453.4" r="1.5"/><circle cx="617.5" cy="491.0" r="1.5"/><circle cx="618.0" cy="461.2" r="1.5"/><circle cx="615.6" cy="481.4" r="1.5"/><circle cx="601.3" cy="463.3" r="1.5"/><circle cx="593.2" cy="465.7" r="1.5"/><circle cx="618.0" cy="469.9" r="1.5"/><circle cx="619.3" cy="490.3" r="1.5"/><circle cx="592.1" cy="462.0" r="1.5"/><circle cx="591.5" cy="467.0" r="1.5"/><circle cx="596.7" cy="470.9" r="1.5"/><circle cx="602.2" cy="464.9" r="1.5"/><circle cx="612.6" cy="472.9" r="1.5"/><circle cx="605.1" cy="463.7" r="1.5"/><circle cx="611.2" cy="484.9" r="1.5"/><circle cx="615.8" cy="481.2" r="1.5"/><circle cx="596.7" cy="476.6" r="1.5"/><circle cx="600.7" cy="473.3" r="1.5"/><circle cx="620.5" cy="461.7" r="1.5"/><circle cx="607.6" cy="473.6" r="1.5"/><circle cx="606.2" cy="477.9" r="1.5"/><circle cx="607.9" cy="469.7" r="1.5"/><circle cx="607.8" cy="459.7" r="1.5"/><circle cx="613.1" cy="436.5" r="1.5"/><circle cx="617.5" cy="483.0" r="1.5"/><circle cx="610.1" cy="470.8" r="1.5"/><circle cx="617.5" cy="434.2" r="1.5"/><circle cx="613.8" cy="495.2" r="1.5"/></g>
<line x1="606.4" y1="455.4" x2="606.4" y2="465.3" stroke="#333" stroke-width="1.3"/>
<line x1="606.4" y1="475.9" x2="606.4" y2="490.0" stroke="#333" stroke-width="1.3"/>
<rect x="602.9" y="465.3" width="7.0" height="10.6" fill="#e0705c" stroke="#333" stroke-width="1.2"/>
<line x1="602.9" y1="469.9" x2="609.9" y2="469.9" stroke="#333" stroke-width="1.6"/>
<line x1="649.3" y1="456.7" x2="649.3" y2="471.3" stroke="#333" stroke-width="1.3"/>
<line x1="649.3" y1="485.2" x2="649.3" y2="506.7" stroke="#333" stroke-width="1.3"/>
<rect x="645.8" y="471.3" width="7.0" height="13.9" fill="#bdbdbd" stroke="#333" stroke-width="1.2"/>
<line x1="645.8" y1="476.2" x2="652.8" y2="476.2" stroke="#333" stroke-width="1.6"/>
<line x1="606.4" y1="440.4" x2="649.3" y2="440.4" stroke="#333" stroke-width="1.0"/>
</g>
<text x="627.8" y="438.8" font-size="7.2" text-anchor="middle" fill="#333">0.04</text>
<rect x="580.8" y="429.4" width="93.6" height="92.8" fill="none" stroke="#333333" stroke-width="1.2"/>
<text x="441.0" y="414" font-size="12.2" fill="#222" text-anchor="middle" transform="rotate(-90 441.0 414)">Log&#8322; NPX</text>
<rect x="461.8" y="532.5" width="22.0" height="21.1" fill="#e9907f"/>
<circle cx="472.8" cy="543.0" r="1.1" fill="none" stroke="#555" stroke-width="0.6"/>
<text x="488.9" y="547.5" font-size="12.5" fill="#222">ART-naive EC (n=36)</text>
<rect x="461.8" y="553.6" width="22.0" height="21.1" fill="#cfcfcf"/>
<circle cx="472.8" cy="564.1" r="1.1" fill="none" stroke="#555" stroke-width="0.6"/>
<text x="488.9" y="568.6" font-size="12.5" fill="#222">ART-naive VC (n=147)</text>
<text transform="translate(8.8 655.3) scale(0.9 1)" font-size="23" fill="#222">D</text>
<rect x="48.2" y="620.5" width="147.1" height="14.7" fill="#d5d6d5" stroke="#333333" stroke-width="1.1"/>
<text x="121.8" y="631.3" font-size="9.7" font-weight="bold" text-anchor="middle" fill="#1a1a1a">CRTAM</text>
<rect x="48.2" y="635.2" width="147.1" height="123.8" fill="#fff"/>
<line x1="48.2" y1="673.3" x2="195.3" y2="673.3" stroke="#ebebeb" stroke-width="0.6"/>
<line x1="48.2" y1="695.3" x2="195.3" y2="695.3" stroke="#ebebeb" stroke-width="0.6"/>
<line x1="48.2" y1="717.2" x2="195.3" y2="717.2" stroke="#ebebeb" stroke-width="0.6"/>
<line x1="48.2" y1="739.2" x2="195.3" y2="739.2" stroke="#ebebeb" stroke-width="0.6"/>
<line x1="48.2" y1="684.3" x2="195.3" y2="684.3" stroke="#ebebeb" stroke-width="1.1"/>
<line x1="48.2" y1="706.3" x2="195.3" y2="706.3" stroke="#ebebeb" stroke-width="1.1"/>
<line x1="48.2" y1="728.2" x2="195.3" y2="728.2" stroke="#ebebeb" stroke-width="1.1"/>
<line x1="48.2" y1="750.2" x2="195.3" y2="750.2" stroke="#ebebeb" stroke-width="1.1"/>
<line x1="69.6" y1="635.2" x2="69.6" y2="759.0" stroke="#ebebeb" stroke-width="1.1"/>
<line x1="104.6" y1="635.2" x2="104.6" y2="759.0" stroke="#ebebeb" stroke-width="1.1"/>
<line x1="139.6" y1="635.2" x2="139.6" y2="759.0" stroke="#ebebeb" stroke-width="1.1"/>
<line x1="174.4" y1="635.2" x2="174.4" y2="759.0" stroke="#ebebeb" stroke-width="1.1"/>
<line x1="46.0" y1="684.3" x2="48.2" y2="684.3" stroke="#333333" stroke-width="0.9"/>
<text x="45.0" y="687.1" font-size="7.8" text-anchor="end" fill="#4d4d4d">1</text>
<line x1="46.0" y1="706.3" x2="48.2" y2="706.3" stroke="#333333" stroke-width="0.9"/>
<text x="45.0" y="709.1" font-size="7.8" text-anchor="end" fill="#4d4d4d">0</text>
<line x1="46.0" y1="728.2" x2="48.2" y2="728.2" stroke="#333333" stroke-width="0.9"/>
<text x="45.0" y="731.0" font-size="7.8" text-anchor="end" fill="#4d4d4d">&#8722;1</text>
<line x1="46.0" y1="750.2" x2="48.2" y2="750.2" stroke="#333333" stroke-width="0.9"/>
<text x="45.0" y="753.0" font-size="7.8" text-anchor="end" fill="#4d4d4d">&#8722;2</text>
<clipPath id="c4"><rect x="48.2" y="635.2" width="147.1" height="123.8"/></clipPath>
<g clip-path="url(#c4)">
<line x1="69.6" y1="670.0" x2="69.6" y2="754.9" stroke="#2b2b2b" stroke-width="1.7"/>
<rect x="67.0" y="705.9" width="5.2" height="24.8" fill="#d9493a" stroke="#2b2b2b" stroke-width="1.1" fill-opacity="0.7"/>
<line x1="67.0" y1="719.3" x2="72.2" y2="719.3" stroke="#2b2b2b" stroke-width="1.1"/>
<g fill="#d8392b" fill-opacity="0.72"><circle cx="71.2" cy="718.6" r="1.6"/><circle cx="71.4" cy="709.5" r="1.6"/><circle cx="70.1" cy="726.5" r="1.6"/><circle cx="68.6" cy="709.8" r="1.6"/><circle cx="68.0" cy="717.4" r="1.6"/><circle cx="68.9" cy="720.0" r="1.6"/><circle cx="67.3" cy="716.8" r="1.6"/><circle cx="68.3" cy="714.3" r="1.6"/><circle cx="68.7" cy="723.8" r="1.6"/><circle cx="67.4" cy="718.9" r="1.6"/><circle cx="67.7" cy="722.9" r="1.6"/><circle cx="67.5" cy="724.8" r="1.6"/><circle cx="69.0" cy="728.8" r="1.6"/><circle cx="72.0" cy="718.1" r="1.6"/><circle cx="72.2" cy="716.3" r="1.6"/><circle cx="67.4" cy="728.7" r="1.6"/><circle cx="70.1" cy="729.8" r="1.6"/><circle cx="66.8" cy="727.5" r="1.6"/><circle cx="70.5" cy="687.3" r="1.6"/><circle cx="70.3" cy="747.1" r="1.6"/><circle cx="69.7" cy="724.9" r="1.6"/><circle cx="68.4" cy="714.3" r="1.6"/><circle cx="69.4" cy="681.2" r="1.6"/><circle cx="67.0" cy="683.8" r="1.6"/><circle cx="70.5" cy="743.5" r="1.6"/><circle cx="71.2" cy="694.5" r="1.6"/><circle cx="67.3" cy="710.2" r="1.6"/><circle cx="72.4" cy="706.3" r="1.6"/><circle cx="67.8" cy="702.7" r="1.6"/><circle cx="71.9" cy="706.1" r="1.6"/><circle cx="72.3" cy="693.8" r="1.6"/><circle cx="69.2" cy="746.4" r="1.6"/><circle cx="71.5" cy="713.7" r="1.6"/><circle cx="69.9" cy="694.9" r="1.6"/><circle cx="68.3" cy="688.0" r="1.6"/><circle cx="70.6" cy="738.0" r="1.6"/></g>
<line x1="104.6" y1="684.3" x2="104.6" y2="745.2" stroke="#2b2b2b" stroke-width="1.7"/>
<rect x="102.0" y="693.3" width="5.2" height="27.5" fill="#2a9d7b" stroke="#2b2b2b" stroke-width="1.1" fill-opacity="0.7"/>
<line x1="102.0" y1="705.2" x2="107.2" y2="705.2" stroke="#2b2b2b" stroke-width="1.1"/>
<g fill="#1b9573" fill-opacity="0.72"><circle cx="103.1" cy="703.2" r="1.6"/><circle cx="105.4" cy="697.5" r="1.6"/><circle cx="102.5" cy="714.5" r="1.6"/><circle cx="105.7" cy="698.5" r="1.6"/><circle cx="102.9" cy="719.0" r="1.6"/><circle cx="103.5" cy="698.8" r="1.6"/><circle cx="101.9" cy="702.2" r="1.6"/><circle cx="103.9" cy="715.3" r="1.6"/><circle cx="105.2" cy="716.3" r="1.6"/><circle cx="105.5" cy="704.3" r="1.6"/><circle cx="104.1" cy="710.1" r="1.6"/><circle cx="103.4" cy="719.3" r="1.6"/><circle cx="102.3" cy="701.3" r="1.6"/><circle cx="103.8" cy="700.7" r="1.6"/><circle cx="106.2" cy="696.2" r="1.6"/><circle cx="107.0" cy="712.2" r="1.6"/><circle cx="107.0" cy="712.3" r="1.6"/><circle cx="102.3" cy="696.7" r="1.6"/><circle cx="102.5" cy="713.1" r="1.6"/><circle cx="103.9" cy="701.2" r="1.6"/><circle cx="104.9" cy="707.4" r="1.6"/><circle cx="102.1" cy="708.7" r="1.6"/><circle cx="102.3" cy="709.3" r="1.6"/><circle cx="106.4" cy="708.5" r="1.6"/><circle cx="107.4" cy="704.3" r="1.6"/><circle cx="104.3" cy="727.0" r="1.6"/><circle cx="106.2" cy="697.1" r="1.6"/><circle cx="105.7" cy="737.3" r="1.6"/><circle cx="106.1" cy="707.9" r="1.6"/><circle cx="104.2" cy="731.4" r="1.6"/><circle cx="107.0" cy="721.3" r="1.6"/><circle cx="102.5" cy="711.8" r="1.6"/><circle cx="103.3" cy="713.3" r="1.6"/><circle cx="105.4" cy="716.3" r="1.6"/><circle cx="103.2" cy="709.8" r="1.6"/><circle cx="106.5" cy="718.5" r="1.6"/><circle cx="106.4" cy="713.3" r="1.6"/><circle cx="106.2" cy="735.7" r="1.6"/><circle cx="106.7" cy="700.2" r="1.6"/><circle cx="105.4" cy="730.1" r="1.6"/><circle cx="102.8" cy="709.4" r="1.6"/><circle cx="103.6" cy="736.2" r="1.6"/><circle cx="101.8" cy="734.7" r="1.6"/><circle cx="104.0" cy="688.9" r="1.6"/><circle cx="105.4" cy="740.8" r="1.6"/><circle cx="105.7" cy="733.8" r="1.6"/><circle cx="105.8" cy="724.2" r="1.6"/><circle cx="103.3" cy="696.0" r="1.6"/><circle cx="107.0" cy="735.0" r="1.6"/><circle cx="104.8" cy="720.3" r="1.6"/></g>
<line x1="139.6" y1="678.2" x2="139.6" y2="710.6" stroke="#2b2b2b" stroke-width="1.7"/>
<rect x="137.0" y="689.0" width="5.2" height="10.8" fill="#7674bd" stroke="#2b2b2b" stroke-width="1.1" fill-opacity="0.7"/>
<line x1="137.0" y1="695.0" x2="142.2" y2="695.0" stroke="#2b2b2b" stroke-width="1.1"/>
<g fill="#6d6bb7" fill-opacity="0.72"><circle cx="140.3" cy="691.2" r="1.6"/><circle cx="139.1" cy="699.1" r="1.6"/><circle cx="139.8" cy="696.3" r="1.6"/><circle cx="139.1" cy="696.4" r="1.6"/><circle cx="138.4" cy="695.6" r="1.6"/><circle cx="136.9" cy="689.0" r="1.6"/><circle cx="138.4" cy="695.0" r="1.6"/><circle cx="141.0" cy="696.8" r="1.6"/><circle cx="138.7" cy="696.2" r="1.6"/><circle cx="141.1" cy="691.3" r="1.6"/><circle cx="137.0" cy="694.1" r="1.6"/><circle cx="140.7" cy="696.8" r="1.6"/><circle cx="141.4" cy="698.7" r="1.6"/><circle cx="138.2" cy="685.6" r="1.6"/><circle cx="138.9" cy="696.8" r="1.6"/><circle cx="138.3" cy="680.4" r="1.6"/><circle cx="139.2" cy="683.9" r="1.6"/><circle cx="141.9" cy="690.5" r="1.6"/><circle cx="140.7" cy="678.7" r="1.6"/><circle cx="137.4" cy="689.7" r="1.6"/><circle cx="142.4" cy="706.4" r="1.6"/><circle cx="140.6" cy="688.0" r="1.6"/><circle cx="141.4" cy="683.1" r="1.6"/><circle cx="141.5" cy="681.6" r="1.6"/><circle cx="141.9" cy="696.1" r="1.6"/><circle cx="141.1" cy="691.2" r="1.6"/><circle cx="138.9" cy="722.5" r="1.6"/><circle cx="140.3" cy="733.3" r="1.6"/></g>
<line x1="174.4" y1="667.0" x2="174.4" y2="717.1" stroke="#2b2b2b" stroke-width="1.7"/>
<rect x="171.8" y="684.3" width="5.2" height="15.1" fill="#ababab" stroke="#2b2b2b" stroke-width="1.1" fill-opacity="0.7"/>
<line x1="171.8" y1="692.3" x2="177.0" y2="692.3" stroke="#2b2b2b" stroke-width="1.1"/>
<g fill="#a3a3a3" fill-opacity="0.72"><circle cx="176.5" cy="694.4" r="1.6"/><circle cx="173.6" cy="690.6" r="1.6"/><circle cx="173.1" cy="697.4" r="1.6"/><circle cx="174.5" cy="684.5" r="1.6"/><circle cx="176.2" cy="691.9" r="1.6"/><circle cx="176.5" cy="697.7" r="1.6"/><circle cx="177.2" cy="692.3" r="1.6"/><circle cx="177.0" cy="690.1" r="1.6"/><circle cx="172.2" cy="685.9" r="1.6"/><circle cx="174.2" cy="687.2" r="1.6"/><circle cx="174.7" cy="688.3" r="1.6"/><circle cx="175.4" cy="699.3" r="1.6"/><circle cx="172.2" cy="692.6" r="1.6"/><circle cx="173.6" cy="688.9" r="1.6"/><circle cx="173.7" cy="697.7" r="1.6"/><circle cx="175.0" cy="693.5" r="1.6"/><circle cx="173.7" cy="688.7" r="1.6"/><circle cx="173.4" cy="694.2" r="1.6"/><circle cx="172.6" cy="684.7" r="1.6"/><circle cx="175.3" cy="692.2" r="1.6"/><circle cx="173.3" cy="692.2" r="1.6"/><circle cx="172.7" cy="685.3" r="1.6"/><circle cx="176.7" cy="700.1" r="1.6"/><circle cx="173.8" cy="668.2" r="1.6"/><circle cx="173.2" cy="676.7" r="1.6"/><circle cx="172.1" cy="704.1" r="1.6"/><circle cx="174.5" cy="687.1" r="1.6"/><circle cx="173.5" cy="703.1" r="1.6"/><circle cx="174.9" cy="694.0" r="1.6"/><circle cx="173.3" cy="690.2" r="1.6"/><circle cx="174.2" cy="696.7" r="1.6"/><circle cx="172.3" cy="668.0" r="1.6"/><circle cx="171.9" cy="667.2" r="1.6"/><circle cx="176.8" cy="714.0" r="1.6"/><circle cx="175.7" cy="701.6" r="1.6"/><circle cx="174.0" cy="676.2" r="1.6"/><circle cx="172.7" cy="701.7" r="1.6"/><circle cx="175.3" cy="713.4" r="1.6"/><circle cx="175.0" cy="708.9" r="1.6"/><circle cx="175.1" cy="699.1" r="1.6"/><circle cx="177.1" cy="693.3" r="1.6"/><circle cx="173.6" cy="698.2" r="1.6"/><circle cx="176.8" cy="676.1" r="1.6"/><circle cx="174.0" cy="689.3" r="1.6"/><circle cx="175.8" cy="733.3" r="1.6"/></g>
</g>
<line x1="69.6" y1="645.8" x2="174.4" y2="647.3" stroke="#444" stroke-width="0.9"/>
<line x1="69.6" y1="657.3" x2="139.6" y2="657.3" stroke="#444" stroke-width="0.9"/>
<line x1="69.6" y1="666.3" x2="104.6" y2="666.3" stroke="#444" stroke-width="0.9"/>
<text x="121.0" y="644.7" font-size="7.1" text-anchor="middle" fill="#333">&lt; 0.0001</text>
<text x="101.0" y="656.0" font-size="7.1" text-anchor="middle" fill="#333">&lt; 0.0001</text>
<text x="86.9" y="665.2" font-size="7.1" text-anchor="middle" fill="#333">0.015</text>
<rect x="48.2" y="635.2" width="147.1" height="123.8" fill="none" stroke="#333333" stroke-width="1.2"/>
<line x1="69.6" y1="759.0" x2="69.6" y2="761.2" stroke="#333333" stroke-width="0.9"/>
<text x="74.4" y="769.4" font-size="10" fill="#4d4d4d" text-anchor="end" transform="rotate(-45 74.4 769.4)">EC</text>
<line x1="104.6" y1="759.0" x2="104.6" y2="761.2" stroke="#333333" stroke-width="0.9"/>
<text x="109.4" y="769.4" font-size="10" fill="#4d4d4d" text-anchor="end" transform="rotate(-45 109.4 769.4)">&lt;400</text>
<line x1="139.6" y1="759.0" x2="139.6" y2="761.2" stroke="#333333" stroke-width="0.9"/>
<text x="144.4" y="769.4" font-size="10" fill="#4d4d4d" text-anchor="end" transform="rotate(-45 144.4 769.4)">400&#8211;2000</text>
<line x1="174.4" y1="759.0" x2="174.4" y2="761.2" stroke="#333333" stroke-width="0.9"/>
<text x="179.2" y="769.4" font-size="10" fill="#4d4d4d" text-anchor="end" transform="rotate(-45 179.2 769.4)">2000&#8211;10000</text>
<rect x="219.5" y="620.5" width="146.5" height="14.7" fill="#d5d6d5" stroke="#333333" stroke-width="1.1"/>
<text x="292.8" y="631.3" font-size="9.7" font-weight="bold" text-anchor="middle" fill="#1a1a1a">LY9</text>
<rect x="219.5" y="635.2" width="146.5" height="123.8" fill="#fff"/>
<line x1="219.5" y1="666.5" x2="366.0" y2="666.5" stroke="#ebebeb" stroke-width="0.6"/>
<line x1="219.5" y1="692.1" x2="366.0" y2="692.1" stroke="#ebebeb" stroke-width="0.6"/>
<line x1="219.5" y1="717.7" x2="366.0" y2="717.7" stroke="#ebebeb" stroke-width="0.6"/>
<line x1="219.5" y1="743.3" x2="366.0" y2="743.3" stroke="#ebebeb" stroke-width="0.6"/>
<line x1="219.5" y1="679.3" x2="366.0" y2="679.3" stroke="#ebebeb" stroke-width="1.1"/>
<line x1="219.5" y1="704.9" x2="366.0" y2="704.9" stroke="#ebebeb" stroke-width="1.1"/>
<line x1="219.5" y1="730.5" x2="366.0" y2="730.5" stroke="#ebebeb" stroke-width="1.1"/>
<line x1="219.5" y1="756.1" x2="366.0" y2="756.1" stroke="#ebebeb" stroke-width="1.1"/>
<line x1="240.6" y1="635.2" x2="240.6" y2="759.0" stroke="#ebebeb" stroke-width="1.1"/>
<line x1="275.6" y1="635.2" x2="275.6" y2="759.0" stroke="#ebebeb" stroke-width="1.1"/>
<line x1="310.6" y1="635.2" x2="310.6" y2="759.0" stroke="#ebebeb" stroke-width="1.1"/>
<line x1="345.4" y1="635.2" x2="345.4" y2="759.0" stroke="#ebebeb" stroke-width="1.1"/>
<line x1="217.3" y1="679.3" x2="219.5" y2="679.3" stroke="#333333" stroke-width="0.9"/>
<text x="216.3" y="682.1" font-size="7.8" text-anchor="end" fill="#4d4d4d">1</text>
<line x1="217.3" y1="704.9" x2="219.5" y2="704.9" stroke="#333333" stroke-width="0.9"/>
<text x="216.3" y="707.7" font-size="7.8" text-anchor="end" fill="#4d4d4d">0</text>
<line x1="217.3" y1="730.5" x2="219.5" y2="730.5" stroke="#333333" stroke-width="0.9"/>
<text x="216.3" y="733.3" font-size="7.8" text-anchor="end" fill="#4d4d4d">&#8722;1</text>
<line x1="217.3" y1="756.1" x2="219.5" y2="756.1" stroke="#333333" stroke-width="0.9"/>
<text x="216.3" y="758.9" font-size="7.8" text-anchor="end" fill="#4d4d4d">&#8722;2</text>
<clipPath id="c5"><rect x="219.5" y="635.2" width="146.5" height="123.8"/></clipPath>
<g clip-path="url(#c5)">
<line x1="240.6" y1="684.3" x2="240.6" y2="725.8" stroke="#2b2b2b" stroke-width="1.7"/>
<rect x="238.0" y="702.4" width="5.2" height="17.9" fill="#d9493a" stroke="#2b2b2b" stroke-width="1.1" fill-opacity="0.7"/>
<line x1="238.0" y1="709.5" x2="243.2" y2="709.5" stroke="#2b2b2b" stroke-width="1.1"/>
<g fill="#d8392b" fill-opacity="0.72"><circle cx="238.0" cy="719.8" r="1.6"/><circle cx="243.3" cy="709.8" r="1.6"/><circle cx="239.6" cy="711.3" r="1.6"/><circle cx="240.8" cy="718.4" r="1.6"/><circle cx="242.9" cy="718.4" r="1.6"/><circle cx="241.4" cy="704.1" r="1.6"/><circle cx="239.8" cy="711.4" r="1.6"/><circle cx="241.7" cy="704.2" r="1.6"/><circle cx="242.2" cy="717.6" r="1.6"/><circle cx="241.4" cy="707.2" r="1.6"/><circle cx="240.0" cy="708.3" r="1.6"/><circle cx="242.0" cy="708.1" r="1.6"/><circle cx="239.9" cy="715.3" r="1.6"/><circle cx="239.8" cy="708.2" r="1.6"/><circle cx="239.4" cy="710.3" r="1.6"/><circle cx="243.3" cy="718.0" r="1.6"/><circle cx="238.5" cy="710.3" r="1.6"/><circle cx="238.1" cy="718.8" r="1.6"/><circle cx="239.4" cy="722.4" r="1.6"/><circle cx="238.5" cy="703.2" r="1.6"/><circle cx="239.9" cy="693.9" r="1.6"/><circle cx="243.1" cy="723.2" r="1.6"/><circle cx="243.1" cy="707.5" r="1.6"/><circle cx="239.1" cy="699.0" r="1.6"/><circle cx="239.5" cy="686.8" r="1.6"/><circle cx="240.1" cy="703.6" r="1.6"/><circle cx="243.1" cy="685.7" r="1.6"/><circle cx="239.3" cy="710.3" r="1.6"/><circle cx="242.1" cy="700.7" r="1.6"/><circle cx="241.4" cy="696.4" r="1.6"/><circle cx="242.7" cy="693.4" r="1.6"/><circle cx="239.4" cy="715.7" r="1.6"/><circle cx="243.0" cy="721.6" r="1.6"/><circle cx="243.4" cy="684.7" r="1.6"/><circle cx="240.0" cy="706.3" r="1.6"/><circle cx="243.0" cy="687.5" r="1.6"/><circle cx="241.3" cy="673.5" r="1.6"/></g>
<line x1="275.6" y1="686.9" x2="275.6" y2="729.0" stroke="#2b2b2b" stroke-width="1.7"/>
<rect x="273.0" y="693.8" width="5.2" height="19.0" fill="#2a9d7b" stroke="#2b2b2b" stroke-width="1.1" fill-opacity="0.7"/>
<line x1="273.0" y1="705.2" x2="278.2" y2="705.2" stroke="#2b2b2b" stroke-width="1.1"/>
<g fill="#1b9573" fill-opacity="0.72"><circle cx="275.5" cy="698.1" r="1.6"/><circle cx="277.4" cy="702.2" r="1.6"/><circle cx="273.5" cy="698.6" r="1.6"/><circle cx="276.4" cy="711.0" r="1.6"/><circle cx="276.2" cy="698.2" r="1.6"/><circle cx="275.9" cy="710.5" r="1.6"/><circle cx="277.4" cy="699.1" r="1.6"/><circle cx="273.5" cy="710.7" r="1.6"/><circle cx="274.0" cy="708.9" r="1.6"/><circle cx="277.9" cy="707.7" r="1.6"/><circle cx="278.1" cy="698.9" r="1.6"/><circle cx="273.5" cy="707.4" r="1.6"/><circle cx="276.6" cy="705.7" r="1.6"/><circle cx="273.3" cy="700.4" r="1.6"/><circle cx="278.0" cy="712.5" r="1.6"/><circle cx="278.1" cy="712.0" r="1.6"/><circle cx="276.7" cy="706.2" r="1.6"/><circle cx="275.5" cy="711.0" r="1.6"/><circle cx="276.4" cy="700.2" r="1.6"/><circle cx="275.9" cy="697.0" r="1.6"/><circle cx="277.4" cy="700.2" r="1.6"/><circle cx="277.5" cy="704.6" r="1.6"/><circle cx="277.6" cy="710.9" r="1.6"/><circle cx="277.5" cy="709.7" r="1.6"/><circle cx="274.0" cy="698.4" r="1.6"/><circle cx="274.0" cy="721.3" r="1.6"/><circle cx="276.7" cy="724.2" r="1.6"/><circle cx="275.9" cy="711.5" r="1.6"/><circle cx="278.2" cy="707.7" r="1.6"/><circle cx="273.1" cy="706.7" r="1.6"/><circle cx="275.1" cy="695.2" r="1.6"/><circle cx="277.7" cy="697.7" r="1.6"/><circle cx="275.3" cy="708.2" r="1.6"/><circle cx="273.6" cy="708.5" r="1.6"/><circle cx="274.6" cy="709.3" r="1.6"/><circle cx="278.2" cy="705.7" r="1.6"/><circle cx="277.1" cy="722.7" r="1.6"/><circle cx="277.5" cy="693.9" r="1.6"/><circle cx="274.3" cy="694.4" r="1.6"/><circle cx="277.3" cy="726.1" r="1.6"/><circle cx="272.8" cy="711.6" r="1.6"/><circle cx="274.0" cy="712.9" r="1.6"/><circle cx="276.3" cy="706.8" r="1.6"/><circle cx="276.5" cy="704.9" r="1.6"/><circle cx="275.4" cy="701.7" r="1.6"/><circle cx="278.2" cy="709.4" r="1.6"/><circle cx="274.9" cy="721.7" r="1.6"/><circle cx="274.3" cy="688.8" r="1.6"/><circle cx="273.9" cy="726.6" r="1.6"/><circle cx="277.0" cy="694.9" r="1.6"/><circle cx="276.5" cy="755.4" r="1.6"/></g>
<line x1="310.6" y1="683.0" x2="310.6" y2="716.7" stroke="#2b2b2b" stroke-width="1.7"/>
<rect x="308.0" y="689.5" width="5.2" height="12.1" fill="#7674bd" stroke="#2b2b2b" stroke-width="1.1" fill-opacity="0.7"/>
<line x1="308.0" y1="695.5" x2="313.2" y2="695.5" stroke="#2b2b2b" stroke-width="1.1"/>
<g fill="#6d6bb7" fill-opacity="0.72"><circle cx="310.6" cy="699.5" r="1.6"/><circle cx="310.5" cy="697.0" r="1.6"/><circle cx="310.8" cy="689.9" r="1.6"/><circle cx="309.1" cy="694.5" r="1.6"/><circle cx="311.2" cy="691.5" r="1.6"/><circle cx="309.4" cy="692.9" r="1.6"/><circle cx="309.5" cy="689.8" r="1.6"/><circle cx="309.5" cy="697.9" r="1.6"/><circle cx="312.2" cy="692.5" r="1.6"/><circle cx="308.2" cy="696.3" r="1.6"/><circle cx="313.4" cy="701.1" r="1.6"/><circle cx="308.7" cy="692.4" r="1.6"/><circle cx="311.3" cy="693.0" r="1.6"/><circle cx="309.1" cy="691.6" r="1.6"/><circle cx="311.6" cy="685.2" r="1.6"/><circle cx="312.6" cy="702.1" r="1.6"/><circle cx="310.2" cy="701.6" r="1.6"/><circle cx="310.4" cy="703.2" r="1.6"/><circle cx="313.3" cy="715.4" r="1.6"/><circle cx="311.1" cy="702.4" r="1.6"/><circle cx="309.9" cy="703.6" r="1.6"/><circle cx="309.1" cy="713.0" r="1.6"/><circle cx="312.6" cy="712.5" r="1.6"/><circle cx="311.7" cy="700.7" r="1.6"/><circle cx="309.5" cy="703.4" r="1.6"/><circle cx="310.6" cy="695.4" r="1.6"/><circle cx="309.5" cy="724.0" r="1.6"/></g>
<line x1="345.4" y1="666.3" x2="345.4" y2="721.4" stroke="#2b2b2b" stroke-width="1.7"/>
<rect x="342.8" y="686.2" width="5.2" height="15.4" fill="#ababab" stroke="#2b2b2b" stroke-width="1.1" fill-opacity="0.7"/>
<line x1="342.8" y1="693.3" x2="348.0" y2="693.3" stroke="#2b2b2b" stroke-width="1.1"/>
<g fill="#a3a3a3" fill-opacity="0.72"><circle cx="346.2" cy="698.2" r="1.6"/><circle cx="347.8" cy="700.1" r="1.6"/><circle cx="343.5" cy="697.4" r="1.6"/><circle cx="346.0" cy="697.2" r="1.6"/><circle cx="343.6" cy="688.2" r="1.6"/><circle cx="346.6" cy="700.2" r="1.6"/><circle cx="347.8" cy="695.4" r="1.6"/><circle cx="345.0" cy="700.0" r="1.6"/><circle cx="342.7" cy="697.7" r="1.6"/><circle cx="344.5" cy="699.9" r="1.6"/><circle cx="343.1" cy="698.6" r="1.6"/><circle cx="345.2" cy="697.5" r="1.6"/><circle cx="347.1" cy="695.4" r="1.6"/><circle cx="348.1" cy="690.5" r="1.6"/><circle cx="344.2" cy="690.1" r="1.6"/><circle cx="343.4" cy="700.3" r="1.6"/><circle cx="342.9" cy="698.5" r="1.6"/><circle cx="344.3" cy="690.1" r="1.6"/><circle cx="344.0" cy="687.8" r="1.6"/><circle cx="343.8" cy="699.7" r="1.6"/><circle cx="347.6" cy="686.4" r="1.6"/><circle cx="344.2" cy="695.8" r="1.6"/><circle cx="343.5" cy="705.3" r="1.6"/><circle cx="343.4" cy="689.7" r="1.6"/><circle cx="346.7" cy="716.6" r="1.6"/><circle cx="345.0" cy="701.9" r="1.6"/><circle cx="344.8" cy="721.0" r="1.6"/><circle cx="346.5" cy="704.4" r="1.6"/><circle cx="346.1" cy="697.0" r="1.6"/><circle cx="345.2" cy="670.7" r="1.6"/><circle cx="346.1" cy="714.9" r="1.6"/><circle cx="344.3" cy="672.8" r="1.6"/><circle cx="345.0" cy="681.5" r="1.6"/><circle cx="346.4" cy="702.0" r="1.6"/><circle cx="342.7" cy="704.0" r="1.6"/><circle cx="344.9" cy="717.3" r="1.6"/><circle cx="344.7" cy="718.4" r="1.6"/><circle cx="344.4" cy="717.1" r="1.6"/><circle cx="345.4" cy="709.8" r="1.6"/><circle cx="346.5" cy="687.3" r="1.6"/><circle cx="346.7" cy="706.2" r="1.6"/><circle cx="346.9" cy="674.9" r="1.6"/><circle cx="346.1" cy="684.2" r="1.6"/><circle cx="342.7" cy="721.2" r="1.6"/></g>
</g>
<line x1="240.6" y1="645.8" x2="345.4" y2="647.3" stroke="#444" stroke-width="0.9"/>
<line x1="240.6" y1="657.3" x2="310.6" y2="657.3" stroke="#444" stroke-width="0.9"/>
<line x1="240.6" y1="666.3" x2="275.6" y2="666.3" stroke="#444" stroke-width="0.9"/>
<text x="292.0" y="644.7" font-size="7.1" text-anchor="middle" fill="#333">&lt; 0.0001</text>
<text x="272.0" y="656.0" font-size="7.1" text-anchor="middle" fill="#333">&lt; 0.0001</text>
<text x="257.9" y="665.2" font-size="7.1" text-anchor="middle" fill="#333">0.015</text>
<rect x="219.5" y="635.2" width="146.5" height="123.8" fill="none" stroke="#333333" stroke-width="1.2"/>
<line x1="240.6" y1="759.0" x2="240.6" y2="761.2" stroke="#333333" stroke-width="0.9"/>
<text x="245.4" y="769.4" font-size="10" fill="#4d4d4d" text-anchor="end" transform="rotate(-45 245.4 769.4)">EC</text>
<line x1="275.6" y1="759.0" x2="275.6" y2="761.2" stroke="#333333" stroke-width="0.9"/>
<text x="280.4" y="769.4" font-size="10" fill="#4d4d4d" text-anchor="end" transform="rotate(-45 280.4 769.4)">&lt;400</text>
<line x1="310.6" y1="759.0" x2="310.6" y2="761.2" stroke="#333333" stroke-width="0.9"/>
<text x="315.4" y="769.4" font-size="10" fill="#4d4d4d" text-anchor="end" transform="rotate(-45 315.4 769.4)">400&#8211;2000</text>
<line x1="345.4" y1="759.0" x2="345.4" y2="761.2" stroke="#333333" stroke-width="0.9"/>
<text x="350.2" y="769.4" font-size="10" fill="#4d4d4d" text-anchor="end" transform="rotate(-45 350.2 769.4)">2000&#8211;10000</text>
<rect x="48.2" y="814.8" width="147.1" height="15.2" fill="#d5d6d5" stroke="#333333" stroke-width="1.1"/>
<text x="121.8" y="825.9" font-size="9.7" font-weight="bold" text-anchor="middle" fill="#1a1a1a">CD6</text>
<rect x="48.2" y="830.0" width="147.1" height="125.7" fill="#fff"/>
<line x1="48.2" y1="869.6" x2="195.3" y2="869.6" stroke="#ebebeb" stroke-width="0.6"/>
<line x1="48.2" y1="888.1" x2="195.3" y2="888.1" stroke="#ebebeb" stroke-width="0.6"/>
<line x1="48.2" y1="906.5" x2="195.3" y2="906.5" stroke="#ebebeb" stroke-width="0.6"/>
<line x1="48.2" y1="924.9" x2="195.3" y2="924.9" stroke="#ebebeb" stroke-width="0.6"/>
<line x1="48.2" y1="943.4" x2="195.3" y2="943.4" stroke="#ebebeb" stroke-width="0.6"/>
<line x1="48.2" y1="860.4" x2="195.3" y2="860.4" stroke="#ebebeb" stroke-width="1.1"/>
<line x1="48.2" y1="878.8" x2="195.3" y2="878.8" stroke="#ebebeb" stroke-width="1.1"/>
<line x1="48.2" y1="897.3" x2="195.3" y2="897.3" stroke="#ebebeb" stroke-width="1.1"/>
<line x1="48.2" y1="915.7" x2="195.3" y2="915.7" stroke="#ebebeb" stroke-width="1.1"/>
<line x1="48.2" y1="934.2" x2="195.3" y2="934.2" stroke="#ebebeb" stroke-width="1.1"/>
<line x1="48.2" y1="952.6" x2="195.3" y2="952.6" stroke="#ebebeb" stroke-width="1.1"/>
<line x1="69.6" y1="830.0" x2="69.6" y2="955.7" stroke="#ebebeb" stroke-width="1.1"/>
<line x1="104.6" y1="830.0" x2="104.6" y2="955.7" stroke="#ebebeb" stroke-width="1.1"/>
<line x1="139.6" y1="830.0" x2="139.6" y2="955.7" stroke="#ebebeb" stroke-width="1.1"/>
<line x1="174.4" y1="830.0" x2="174.4" y2="955.7" stroke="#ebebeb" stroke-width="1.1"/>
<line x1="46.0" y1="860.4" x2="48.2" y2="860.4" stroke="#333333" stroke-width="0.9"/>
<text x="45.0" y="863.2" font-size="7.8" text-anchor="end" fill="#4d4d4d">3</text>
<line x1="46.0" y1="878.8" x2="48.2" y2="878.8" stroke="#333333" stroke-width="0.9"/>
<text x="45.0" y="881.6" font-size="7.8" text-anchor="end" fill="#4d4d4d">2</text>
<line x1="46.0" y1="897.3" x2="48.2" y2="897.3" stroke="#333333" stroke-width="0.9"/>
<text x="45.0" y="900.1" font-size="7.8" text-anchor="end" fill="#4d4d4d">1</text>
<line x1="46.0" y1="915.7" x2="48.2" y2="915.7" stroke="#333333" stroke-width="0.9"/>
<text x="45.0" y="918.5" font-size="7.8" text-anchor="end" fill="#4d4d4d">0</text>
<line x1="46.0" y1="934.2" x2="48.2" y2="934.2" stroke="#333333" stroke-width="0.9"/>
<text x="45.0" y="937.0" font-size="7.8" text-anchor="end" fill="#4d4d4d">&#8722;1</text>
<line x1="46.0" y1="952.6" x2="48.2" y2="952.6" stroke="#333333" stroke-width="0.9"/>
<text x="45.0" y="955.4" font-size="7.8" text-anchor="end" fill="#4d4d4d">&#8722;2</text>
<clipPath id="c6"><rect x="48.2" y="830.0" width="147.1" height="125.7"/></clipPath>
<g clip-path="url(#c6)">
<line x1="69.6" y1="892.2" x2="69.6" y2="943.4" stroke="#2b2b2b" stroke-width="1.7"/>
<rect x="67.0" y="909.5" width="5.2" height="17.1" fill="#d9493a" stroke="#2b2b2b" stroke-width="1.1" fill-opacity="0.7"/>
<line x1="67.0" y1="917.5" x2="72.2" y2="917.5" stroke="#2b2b2b" stroke-width="1.1"/>
<g fill="#d8392b" fill-opacity="0.72"><circle cx="70.6" cy="913.7" r="1.6"/><circle cx="69.0" cy="920.9" r="1.6"/><circle cx="68.7" cy="911.5" r="1.6"/><circle cx="69.2" cy="919.4" r="1.6"/><circle cx="72.0" cy="909.8" r="1.6"/><circle cx="70.1" cy="923.8" r="1.6"/><circle cx="72.1" cy="912.4" r="1.6"/><circle cx="68.0" cy="916.9" r="1.6"/><circle cx="69.7" cy="911.6" r="1.6"/><circle cx="70.8" cy="912.5" r="1.6"/><circle cx="71.4" cy="917.6" r="1.6"/><circle cx="67.4" cy="918.4" r="1.6"/><circle cx="69.1" cy="924.3" r="1.6"/><circle cx="71.7" cy="913.0" r="1.6"/><circle cx="70.2" cy="924.6" r="1.6"/><circle cx="67.6" cy="913.6" r="1.6"/><circle cx="69.2" cy="916.2" r="1.6"/><circle cx="69.6" cy="925.9" r="1.6"/><circle cx="66.8" cy="918.5" r="1.6"/><circle cx="69.2" cy="905.2" r="1.6"/><circle cx="69.5" cy="915.4" r="1.6"/><circle cx="72.2" cy="934.3" r="1.6"/><circle cx="69.7" cy="936.8" r="1.6"/><circle cx="69.8" cy="898.0" r="1.6"/><circle cx="67.2" cy="918.6" r="1.6"/><circle cx="67.0" cy="911.4" r="1.6"/><circle cx="69.4" cy="896.5" r="1.6"/><circle cx="70.3" cy="914.7" r="1.6"/><circle cx="68.0" cy="907.3" r="1.6"/><circle cx="70.0" cy="930.0" r="1.6"/><circle cx="67.3" cy="893.0" r="1.6"/><circle cx="68.3" cy="915.4" r="1.6"/><circle cx="69.7" cy="909.8" r="1.6"/><circle cx="68.5" cy="913.7" r="1.6"/><circle cx="69.3" cy="914.4" r="1.6"/><circle cx="70.8" cy="942.3" r="1.6"/><circle cx="68.6" cy="872.1" r="1.6"/><circle cx="70.1" cy="882.3" r="1.6"/></g>
<line x1="104.6" y1="881.9" x2="104.6" y2="939.1" stroke="#2b2b2b" stroke-width="1.7"/>
<rect x="102.0" y="905.6" width="5.2" height="17.3" fill="#2a9d7b" stroke="#2b2b2b" stroke-width="1.1" fill-opacity="0.7"/>
<line x1="102.0" y1="914.3" x2="107.2" y2="914.3" stroke="#2b2b2b" stroke-width="1.1"/>
<g fill="#1b9573" fill-opacity="0.72"><circle cx="103.5" cy="922.2" r="1.6"/><circle cx="102.3" cy="919.9" r="1.6"/><circle cx="106.2" cy="912.1" r="1.6"/><circle cx="103.5" cy="916.7" r="1.6"/><circle cx="105.9" cy="907.6" r="1.6"/><circle cx="106.1" cy="918.1" r="1.6"/><circle cx="106.3" cy="918.5" r="1.6"/><circle cx="103.4" cy="909.4" r="1.6"/><circle cx="106.3" cy="912.2" r="1.6"/><circle cx="103.2" cy="916.1" r="1.6"/><circle cx="105.5" cy="917.0" r="1.6"/><circle cx="101.8" cy="916.3" r="1.6"/><circle cx="106.2" cy="918.6" r="1.6"/><circle cx="102.2" cy="920.3" r="1.6"/><circle cx="105.8" cy="913.7" r="1.6"/><circle cx="105.3" cy="905.9" r="1.6"/><circle cx="102.2" cy="919.5" r="1.6"/><circle cx="105.1" cy="907.5" r="1.6"/><circle cx="105.8" cy="914.8" r="1.6"/><circle cx="106.3" cy="917.9" r="1.6"/><circle cx="107.3" cy="919.6" r="1.6"/><circle cx="103.1" cy="914.8" r="1.6"/><circle cx="104.2" cy="916.6" r="1.6"/><circle cx="103.9" cy="922.3" r="1.6"/><circle cx="105.5" cy="918.9" r="1.6"/><circle cx="102.9" cy="898.2" r="1.6"/><circle cx="104.9" cy="935.4" r="1.6"/><circle cx="103.1" cy="920.7" r="1.6"/><circle cx="103.0" cy="899.2" r="1.6"/><circle cx="106.0" cy="897.7" r="1.6"/><circle cx="104.9" cy="907.2" r="1.6"/><circle cx="106.2" cy="911.0" r="1.6"/><circle cx="105.5" cy="930.2" r="1.6"/><circle cx="106.6" cy="908.0" r="1.6"/><circle cx="104.5" cy="922.6" r="1.6"/><circle cx="101.9" cy="901.1" r="1.6"/><circle cx="107.4" cy="908.7" r="1.6"/><circle cx="103.1" cy="900.4" r="1.6"/><circle cx="106.4" cy="904.3" r="1.6"/><circle cx="102.9" cy="921.9" r="1.6"/><circle cx="104.7" cy="895.2" r="1.6"/><circle cx="103.4" cy="909.9" r="1.6"/><circle cx="105.5" cy="924.3" r="1.6"/><circle cx="102.2" cy="882.5" r="1.6"/><circle cx="102.2" cy="905.3" r="1.6"/><circle cx="104.4" cy="926.1" r="1.6"/><circle cx="106.6" cy="919.4" r="1.6"/><circle cx="104.4" cy="928.5" r="1.6"/><circle cx="102.5" cy="896.6" r="1.6"/><circle cx="107.4" cy="917.0" r="1.6"/><circle cx="103.4" cy="952.1" r="1.6"/></g>
<line x1="139.6" y1="875.8" x2="139.6" y2="921.2" stroke="#2b2b2b" stroke-width="1.7"/>
<rect x="137.0" y="891.1" width="5.2" height="17.1" fill="#7674bd" stroke="#2b2b2b" stroke-width="1.1" fill-opacity="0.7"/>
<line x1="137.0" y1="899.6" x2="142.2" y2="899.6" stroke="#2b2b2b" stroke-width="1.1"/>
<g fill="#6d6bb7" fill-opacity="0.72"><circle cx="139.5" cy="896.4" r="1.6"/><circle cx="137.9" cy="900.8" r="1.6"/><circle cx="139.5" cy="895.7" r="1.6"/><circle cx="137.1" cy="903.1" r="1.6"/><circle cx="138.2" cy="898.3" r="1.6"/><circle cx="138.4" cy="904.7" r="1.6"/><circle cx="139.5" cy="892.5" r="1.6"/><circle cx="140.6" cy="905.2" r="1.6"/><circle cx="137.3" cy="906.5" r="1.6"/><circle cx="140.4" cy="895.4" r="1.6"/><circle cx="141.1" cy="895.2" r="1.6"/><circle cx="137.7" cy="906.2" r="1.6"/><circle cx="137.6" cy="898.2" r="1.6"/><circle cx="137.4" cy="893.9" r="1.6"/><circle cx="140.3" cy="902.3" r="1.6"/><circle cx="139.0" cy="900.7" r="1.6"/><circle cx="137.0" cy="912.7" r="1.6"/><circle cx="137.5" cy="906.2" r="1.6"/><circle cx="138.8" cy="907.8" r="1.6"/><circle cx="137.1" cy="895.3" r="1.6"/><circle cx="141.2" cy="899.1" r="1.6"/><circle cx="137.9" cy="914.6" r="1.6"/><circle cx="141.3" cy="915.1" r="1.6"/><circle cx="137.0" cy="903.6" r="1.6"/><circle cx="138.7" cy="902.6" r="1.6"/><circle cx="142.0" cy="889.6" r="1.6"/></g>
<line x1="174.4" y1="863.5" x2="174.4" y2="929.8" stroke="#2b2b2b" stroke-width="1.7"/>
<rect x="171.8" y="888.3" width="5.2" height="23.4" fill="#ababab" stroke="#2b2b2b" stroke-width="1.1" fill-opacity="0.7"/>
<line x1="171.8" y1="899.1" x2="177.0" y2="899.1" stroke="#2b2b2b" stroke-width="1.1"/>
<g fill="#a3a3a3" fill-opacity="0.72"><circle cx="174.0" cy="891.9" r="1.6"/><circle cx="174.6" cy="889.2" r="1.6"/><circle cx="176.5" cy="907.9" r="1.6"/><circle cx="174.3" cy="906.9" r="1.6"/><circle cx="174.7" cy="899.9" r="1.6"/><circle cx="175.6" cy="891.3" r="1.6"/><circle cx="176.1" cy="895.2" r="1.6"/><circle cx="177.0" cy="898.7" r="1.6"/><circle cx="175.7" cy="910.8" r="1.6"/><circle cx="175.0" cy="893.3" r="1.6"/><circle cx="175.6" cy="903.8" r="1.6"/><circle cx="172.3" cy="904.8" r="1.6"/><circle cx="175.7" cy="908.7" r="1.6"/><circle cx="172.8" cy="904.1" r="1.6"/><circle cx="176.5" cy="897.1" r="1.6"/><circle cx="176.5" cy="898.6" r="1.6"/><circle cx="175.1" cy="899.4" r="1.6"/><circle cx="176.9" cy="902.1" r="1.6"/><circle cx="171.9" cy="900.8" r="1.6"/><circle cx="172.0" cy="890.7" r="1.6"/><circle cx="174.4" cy="906.4" r="1.6"/><circle cx="172.7" cy="896.8" r="1.6"/><circle cx="171.7" cy="904.9" r="1.6"/><circle cx="177.0" cy="884.1" r="1.6"/><circle cx="173.9" cy="893.2" r="1.6"/><circle cx="176.3" cy="929.5" r="1.6"/><circle cx="173.2" cy="864.4" r="1.6"/><circle cx="175.1" cy="905.9" r="1.6"/><circle cx="172.0" cy="876.0" r="1.6"/><circle cx="175.1" cy="926.8" r="1.6"/><circle cx="175.6" cy="917.9" r="1.6"/><circle cx="175.1" cy="918.7" r="1.6"/><circle cx="174.3" cy="919.0" r="1.6"/><circle cx="175.7" cy="886.3" r="1.6"/><circle cx="172.9" cy="897.1" r="1.6"/><circle cx="175.4" cy="924.6" r="1.6"/><circle cx="173.2" cy="894.7" r="1.6"/><circle cx="172.0" cy="925.8" r="1.6"/><circle cx="173.7" cy="917.5" r="1.6"/><circle cx="175.8" cy="895.9" r="1.6"/><circle cx="172.5" cy="898.4" r="1.6"/><circle cx="175.9" cy="898.0" r="1.6"/><circle cx="173.6" cy="881.3" r="1.6"/><circle cx="174.4" cy="886.7" r="1.6"/><circle cx="173.1" cy="949.9" r="1.6"/></g>
</g>
<line x1="69.6" y1="840.8" x2="174.4" y2="842.3" stroke="#444" stroke-width="0.9"/>
<line x1="69.6" y1="852.3" x2="139.6" y2="852.3" stroke="#444" stroke-width="0.9"/>
<line x1="69.6" y1="861.3" x2="104.6" y2="861.3" stroke="#444" stroke-width="0.9"/>
<text x="121.0" y="839.7" font-size="7.1" text-anchor="middle" fill="#333">&lt; 0.0001</text>
<text x="101.0" y="851.0" font-size="7.1" text-anchor="middle" fill="#333">&lt; 0.0001</text>
<text x="86.0" y="860.2" font-size="7.1" text-anchor="middle" fill="#333">ns</text>
<rect x="48.2" y="830.0" width="147.1" height="125.7" fill="none" stroke="#333333" stroke-width="1.2"/>
<line x1="69.6" y1="955.7" x2="69.6" y2="957.9" stroke="#333333" stroke-width="0.9"/>
<text x="74.4" y="966.1" font-size="10" fill="#4d4d4d" text-anchor="end" transform="rotate(-45 74.4 966.1)">EC</text>
<line x1="104.6" y1="955.7" x2="104.6" y2="957.9" stroke="#333333" stroke-width="0.9"/>
<text x="109.4" y="966.1" font-size="10" fill="#4d4d4d" text-anchor="end" transform="rotate(-45 109.4 966.1)">&lt;400</text>
<line x1="139.6" y1="955.7" x2="139.6" y2="957.9" stroke="#333333" stroke-width="0.9"/>
<text x="144.4" y="966.1" font-size="10" fill="#4d4d4d" text-anchor="end" transform="rotate(-45 144.4 966.1)">400&#8211;2000</text>
<line x1="174.4" y1="955.7" x2="174.4" y2="957.9" stroke="#333333" stroke-width="0.9"/>
<text x="179.2" y="966.1" font-size="10" fill="#4d4d4d" text-anchor="end" transform="rotate(-45 179.2 966.1)">2000&#8211;10000</text>
<rect x="219.5" y="814.8" width="146.5" height="15.2" fill="#d5d6d5" stroke="#333333" stroke-width="1.1"/>
<text x="292.8" y="825.9" font-size="9.7" font-weight="bold" text-anchor="middle" fill="#1a1a1a">VAT1</text>
<rect x="219.5" y="830.0" width="146.5" height="125.7" fill="#fff"/>
<line x1="219.5" y1="876.0" x2="366.0" y2="876.0" stroke="#ebebeb" stroke-width="0.6"/>
<line x1="219.5" y1="895.6" x2="366.0" y2="895.6" stroke="#ebebeb" stroke-width="0.6"/>
<line x1="219.5" y1="915.1" x2="366.0" y2="915.1" stroke="#ebebeb" stroke-width="0.6"/>
<line x1="219.5" y1="934.7" x2="366.0" y2="934.7" stroke="#ebebeb" stroke-width="0.6"/>
<line x1="219.5" y1="866.2" x2="366.0" y2="866.2" stroke="#ebebeb" stroke-width="1.1"/>
<line x1="219.5" y1="885.8" x2="366.0" y2="885.8" stroke="#ebebeb" stroke-width="1.1"/>
<line x1="219.5" y1="905.4" x2="366.0" y2="905.4" stroke="#ebebeb" stroke-width="1.1"/>
<line x1="219.5" y1="924.9" x2="366.0" y2="924.9" stroke="#ebebeb" stroke-width="1.1"/>
<line x1="219.5" y1="944.5" x2="366.0" y2="944.5" stroke="#ebebeb" stroke-width="1.1"/>
<line x1="240.6" y1="830.0" x2="240.6" y2="955.7" stroke="#ebebeb" stroke-width="1.1"/>
<line x1="275.6" y1="830.0" x2="275.6" y2="955.7" stroke="#ebebeb" stroke-width="1.1"/>
<line x1="310.6" y1="830.0" x2="310.6" y2="955.7" stroke="#ebebeb" stroke-width="1.1"/>
<line x1="345.4" y1="830.0" x2="345.4" y2="955.7" stroke="#ebebeb" stroke-width="1.1"/>
<line x1="217.3" y1="866.2" x2="219.5" y2="866.2" stroke="#333333" stroke-width="0.9"/>
<text x="216.3" y="869.0" font-size="7.8" text-anchor="end" fill="#4d4d4d">1.0</text>
<line x1="217.3" y1="885.8" x2="219.5" y2="885.8" stroke="#333333" stroke-width="0.9"/>
<text x="216.3" y="888.6" font-size="7.8" text-anchor="end" fill="#4d4d4d">0.5</text>
<line x1="217.3" y1="905.4" x2="219.5" y2="905.4" stroke="#333333" stroke-width="0.9"/>
<text x="216.3" y="908.2" font-size="7.8" text-anchor="end" fill="#4d4d4d">0.0</text>
<line x1="217.3" y1="924.9" x2="219.5" y2="924.9" stroke="#333333" stroke-width="0.9"/>
<text x="216.3" y="927.7" font-size="7.8" text-anchor="end" fill="#4d4d4d">&#8722;0.5</text>
<line x1="217.3" y1="944.5" x2="219.5" y2="944.5" stroke="#333333" stroke-width="0.9"/>
<text x="216.3" y="947.3" font-size="7.8" text-anchor="end" fill="#4d4d4d">&#8722;1.0</text>
<clipPath id="c7"><rect x="219.5" y="830.0" width="146.5" height="125.7"/></clipPath>
<g clip-path="url(#c7)">
<line x1="240.6" y1="885.7" x2="240.6" y2="922.5" stroke="#2b2b2b" stroke-width="1.7"/>
<rect x="238.0" y="895.9" width="5.2" height="11.5" fill="#d9493a" stroke="#2b2b2b" stroke-width="1.1" fill-opacity="0.7"/>
<line x1="238.0" y1="901.3" x2="243.2" y2="901.3" stroke="#2b2b2b" stroke-width="1.1"/>
<g fill="#d8392b" fill-opacity="0.72"><circle cx="238.8" cy="897.8" r="1.6"/><circle cx="239.4" cy="903.6" r="1.6"/><circle cx="240.8" cy="906.4" r="1.6"/><circle cx="238.7" cy="899.0" r="1.6"/><circle cx="243.0" cy="903.8" r="1.6"/><circle cx="239.2" cy="906.0" r="1.6"/><circle cx="242.5" cy="905.6" r="1.6"/><circle cx="238.9" cy="906.8" r="1.6"/><circle cx="240.6" cy="897.1" r="1.6"/><circle cx="242.4" cy="903.6" r="1.6"/><circle cx="241.5" cy="899.3" r="1.6"/><circle cx="238.6" cy="896.4" r="1.6"/><circle cx="239.2" cy="901.6" r="1.6"/><circle cx="239.9" cy="906.9" r="1.6"/><circle cx="240.6" cy="899.9" r="1.6"/><circle cx="243.2" cy="898.9" r="1.6"/><circle cx="239.8" cy="907.3" r="1.6"/><circle cx="239.8" cy="903.6" r="1.6"/><circle cx="240.8" cy="891.5" r="1.6"/><circle cx="239.1" cy="886.5" r="1.6"/><circle cx="242.5" cy="888.7" r="1.6"/><circle cx="237.8" cy="888.7" r="1.6"/><circle cx="242.0" cy="918.3" r="1.6"/><circle cx="242.9" cy="911.6" r="1.6"/><circle cx="239.7" cy="892.4" r="1.6"/><circle cx="242.1" cy="901.7" r="1.6"/><circle cx="241.9" cy="902.2" r="1.6"/><circle cx="242.2" cy="917.5" r="1.6"/><circle cx="241.5" cy="921.5" r="1.6"/><circle cx="240.9" cy="886.0" r="1.6"/><circle cx="239.4" cy="886.7" r="1.6"/><circle cx="240.2" cy="908.3" r="1.6"/><circle cx="238.4" cy="887.7" r="1.6"/><circle cx="241.4" cy="901.0" r="1.6"/><circle cx="240.7" cy="909.2" r="1.6"/><circle cx="238.2" cy="904.7" r="1.6"/><circle cx="239.4" cy="862.8" r="1.6"/><circle cx="240.1" cy="928.3" r="1.6"/></g>
<line x1="275.6" y1="887.3" x2="275.6" y2="923.3" stroke="#2b2b2b" stroke-width="1.7"/>
<rect x="273.0" y="898.7" width="5.2" height="13.0" fill="#2a9d7b" stroke="#2b2b2b" stroke-width="1.1" fill-opacity="0.7"/>
<line x1="273.0" y1="904.5" x2="278.2" y2="904.5" stroke="#2b2b2b" stroke-width="1.1"/>
<g fill="#1b9573" fill-opacity="0.72"><circle cx="276.6" cy="901.3" r="1.6"/><circle cx="277.8" cy="901.3" r="1.6"/><circle cx="276.7" cy="908.8" r="1.6"/><circle cx="273.0" cy="903.0" r="1.6"/><circle cx="274.3" cy="899.5" r="1.6"/><circle cx="275.7" cy="910.7" r="1.6"/><circle cx="275.6" cy="911.1" r="1.6"/><circle cx="273.2" cy="909.4" r="1.6"/><circle cx="274.4" cy="904.6" r="1.6"/><circle cx="275.1" cy="911.2" r="1.6"/><circle cx="275.6" cy="910.5" r="1.6"/><circle cx="278.3" cy="907.1" r="1.6"/><circle cx="276.8" cy="907.8" r="1.6"/><circle cx="275.8" cy="908.1" r="1.6"/><circle cx="272.9" cy="905.8" r="1.6"/><circle cx="273.0" cy="910.1" r="1.6"/><circle cx="277.1" cy="909.9" r="1.6"/><circle cx="276.0" cy="908.5" r="1.6"/><circle cx="276.6" cy="907.9" r="1.6"/><circle cx="273.5" cy="904.8" r="1.6"/><circle cx="278.3" cy="903.1" r="1.6"/><circle cx="275.7" cy="911.3" r="1.6"/><circle cx="276.0" cy="906.2" r="1.6"/><circle cx="276.6" cy="910.9" r="1.6"/><circle cx="276.3" cy="901.6" r="1.6"/><circle cx="277.2" cy="893.3" r="1.6"/><circle cx="274.0" cy="913.8" r="1.6"/><circle cx="273.1" cy="911.3" r="1.6"/><circle cx="275.2" cy="902.3" r="1.6"/><circle cx="277.2" cy="905.9" r="1.6"/><circle cx="277.0" cy="920.8" r="1.6"/><circle cx="275.0" cy="911.8" r="1.6"/><circle cx="277.0" cy="907.1" r="1.6"/><circle cx="277.1" cy="897.4" r="1.6"/><circle cx="277.3" cy="893.4" r="1.6"/><circle cx="278.2" cy="901.0" r="1.6"/><circle cx="275.4" cy="898.3" r="1.6"/><circle cx="276.9" cy="912.7" r="1.6"/><circle cx="277.9" cy="923.0" r="1.6"/><circle cx="274.4" cy="918.3" r="1.6"/><circle cx="278.3" cy="897.5" r="1.6"/><circle cx="274.7" cy="898.1" r="1.6"/><circle cx="276.5" cy="908.8" r="1.6"/><circle cx="273.6" cy="917.9" r="1.6"/><circle cx="273.9" cy="898.3" r="1.6"/><circle cx="273.3" cy="897.4" r="1.6"/><circle cx="276.4" cy="904.5" r="1.6"/><circle cx="272.9" cy="915.1" r="1.6"/><circle cx="275.5" cy="903.7" r="1.6"/><circle cx="277.0" cy="887.8" r="1.6"/><circle cx="274.9" cy="862.8" r="1.6"/><circle cx="274.7" cy="931.1" r="1.6"/><circle cx="277.0" cy="936.3" r="1.6"/></g>
<line x1="310.6" y1="893.7" x2="310.6" y2="931.6" stroke="#2b2b2b" stroke-width="1.7"/>
<rect x="308.0" y="905.2" width="5.2" height="13.0" fill="#7674bd" stroke="#2b2b2b" stroke-width="1.1" fill-opacity="0.7"/>
<line x1="308.0" y1="908.2" x2="313.2" y2="908.2" stroke="#2b2b2b" stroke-width="1.1"/>
<g fill="#6d6bb7" fill-opacity="0.72"><circle cx="308.1" cy="907.8" r="1.6"/><circle cx="308.4" cy="912.8" r="1.6"/><circle cx="312.7" cy="911.2" r="1.6"/><circle cx="309.0" cy="917.0" r="1.6"/><circle cx="311.5" cy="913.4" r="1.6"/><circle cx="308.3" cy="911.5" r="1.6"/><circle cx="308.0" cy="908.5" r="1.6"/><circle cx="311.3" cy="916.1" r="1.6"/><circle cx="312.0" cy="909.3" r="1.6"/><circle cx="308.9" cy="915.7" r="1.6"/><circle cx="310.4" cy="914.3" r="1.6"/><circle cx="308.7" cy="912.4" r="1.6"/><circle cx="312.4" cy="918.2" r="1.6"/><circle cx="308.6" cy="918.1" r="1.6"/><circle cx="311.0" cy="916.4" r="1.6"/><circle cx="313.1" cy="920.5" r="1.6"/><circle cx="309.0" cy="900.0" r="1.6"/><circle cx="311.9" cy="910.3" r="1.6"/><circle cx="310.6" cy="893.7" r="1.6"/><circle cx="312.6" cy="898.9" r="1.6"/><circle cx="312.6" cy="895.0" r="1.6"/><circle cx="310.6" cy="915.4" r="1.6"/><circle cx="310.4" cy="906.0" r="1.6"/><circle cx="312.1" cy="900.3" r="1.6"/><circle cx="311.8" cy="908.8" r="1.6"/><circle cx="309.6" cy="929.7" r="1.6"/><circle cx="311.9" cy="952.1" r="1.6"/></g>
<line x1="345.4" y1="893.1" x2="345.4" y2="939.1" stroke="#2b2b2b" stroke-width="1.7"/>
<rect x="342.8" y="903.0" width="5.2" height="17.3" fill="#ababab" stroke="#2b2b2b" stroke-width="1.1" fill-opacity="0.7"/>
<line x1="342.8" y1="912.1" x2="348.0" y2="912.1" stroke="#2b2b2b" stroke-width="1.1"/>
<g fill="#a3a3a3" fill-opacity="0.72"><circle cx="344.1" cy="911.7" r="1.6"/><circle cx="343.2" cy="907.3" r="1.6"/><circle cx="345.4" cy="909.8" r="1.6"/><circle cx="346.1" cy="909.9" r="1.6"/><circle cx="344.8" cy="911.6" r="1.6"/><circle cx="347.9" cy="909.0" r="1.6"/><circle cx="346.8" cy="910.9" r="1.6"/><circle cx="345.7" cy="919.8" r="1.6"/><circle cx="344.8" cy="920.2" r="1.6"/><circle cx="346.3" cy="907.4" r="1.6"/><circle cx="346.5" cy="908.3" r="1.6"/><circle cx="346.7" cy="909.5" r="1.6"/><circle cx="344.4" cy="907.0" r="1.6"/><circle cx="344.9" cy="906.8" r="1.6"/><circle cx="343.9" cy="911.4" r="1.6"/><circle cx="343.4" cy="910.2" r="1.6"/><circle cx="344.3" cy="904.3" r="1.6"/><circle cx="344.1" cy="912.0" r="1.6"/><circle cx="344.2" cy="911.2" r="1.6"/><circle cx="345.3" cy="919.5" r="1.6"/><circle cx="344.7" cy="917.7" r="1.6"/><circle cx="346.7" cy="914.1" r="1.6"/><circle cx="344.0" cy="917.2" r="1.6"/><circle cx="346.6" cy="898.3" r="1.6"/><circle cx="347.6" cy="922.7" r="1.6"/><circle cx="345.4" cy="936.0" r="1.6"/><circle cx="347.1" cy="937.5" r="1.6"/><circle cx="343.0" cy="935.8" r="1.6"/><circle cx="344.1" cy="927.1" r="1.6"/><circle cx="343.1" cy="908.9" r="1.6"/><circle cx="345.4" cy="901.4" r="1.6"/><circle cx="344.7" cy="903.3" r="1.6"/><circle cx="345.3" cy="911.2" r="1.6"/><circle cx="343.9" cy="898.4" r="1.6"/><circle cx="342.8" cy="907.2" r="1.6"/><circle cx="346.9" cy="937.8" r="1.6"/><circle cx="347.9" cy="927.4" r="1.6"/><circle cx="343.7" cy="925.5" r="1.6"/><circle cx="346.7" cy="900.4" r="1.6"/><circle cx="344.6" cy="916.4" r="1.6"/><circle cx="346.8" cy="915.7" r="1.6"/><circle cx="346.0" cy="935.7" r="1.6"/><circle cx="346.8" cy="923.9" r="1.6"/><circle cx="348.1" cy="907.0" r="1.6"/><circle cx="344.7" cy="945.6" r="1.6"/></g>
</g>
<line x1="240.6" y1="840.8" x2="345.4" y2="842.3" stroke="#444" stroke-width="0.9"/>
<line x1="240.6" y1="852.3" x2="310.6" y2="852.3" stroke="#444" stroke-width="0.9"/>
<line x1="240.6" y1="861.3" x2="275.6" y2="861.3" stroke="#444" stroke-width="0.9"/>
<text x="292.0" y="839.7" font-size="7.1" text-anchor="middle" fill="#333">0.0005</text>
<text x="272.0" y="851.0" font-size="7.1" text-anchor="middle" fill="#333">0.0005</text>
<text x="257.0" y="860.2" font-size="7.1" text-anchor="middle" fill="#333">ns</text>
<rect x="219.5" y="830.0" width="146.5" height="125.7" fill="none" stroke="#333333" stroke-width="1.2"/>
<line x1="240.6" y1="955.7" x2="240.6" y2="957.9" stroke="#333333" stroke-width="0.9"/>
<text x="245.4" y="966.1" font-size="10" fill="#4d4d4d" text-anchor="end" transform="rotate(-45 245.4 966.1)">EC</text>
<line x1="275.6" y1="955.7" x2="275.6" y2="957.9" stroke="#333333" stroke-width="0.9"/>
<text x="280.4" y="966.1" font-size="10" fill="#4d4d4d" text-anchor="end" transform="rotate(-45 280.4 966.1)">&lt;400</text>
<line x1="310.6" y1="955.7" x2="310.6" y2="957.9" stroke="#333333" stroke-width="0.9"/>
<text x="315.4" y="966.1" font-size="10" fill="#4d4d4d" text-anchor="end" transform="rotate(-45 315.4 966.1)">400&#8211;2000</text>
<line x1="345.4" y1="955.7" x2="345.4" y2="957.9" stroke="#333333" stroke-width="0.9"/>
<text x="350.2" y="966.1" font-size="10" fill="#4d4d4d" text-anchor="end" transform="rotate(-45 350.2 966.1)">2000&#8211;10000</text>
<text x="30.2" y="793.7" font-size="12.2" fill="#222" text-anchor="middle" transform="rotate(-90 30.2 793.7)">Log&#8322; NPX</text>
<text transform="translate(431.6 655.0) scale(0.9 1)" font-size="22" fill="#222">E</text>
<text x="453.3" y="654.9" font-size="14.9" font-weight="bold" fill="#222">Validation cohort</text>
<rect x="453.3" y="668.4" width="95.2" height="15.4" fill="#d5d6d5" stroke="#333333" stroke-width="1.1"/>
<text x="500.9" y="679.6" font-size="9.7" font-weight="bold" text-anchor="middle" fill="#1a1a1a">CRTAM</text>
<rect x="453.3" y="683.8" width="95.2" height="92.5" fill="#fff"/>
<line x1="453.3" y1="692.7" x2="548.5" y2="692.7" stroke="#ebebeb" stroke-width="0.6"/>
<line x1="453.3" y1="711.8" x2="548.5" y2="711.8" stroke="#ebebeb" stroke-width="0.6"/>
<line x1="453.3" y1="730.9" x2="548.5" y2="730.9" stroke="#ebebeb" stroke-width="0.6"/>
<line x1="453.3" y1="750.0" x2="548.5" y2="750.0" stroke="#ebebeb" stroke-width="0.6"/>
<line x1="453.3" y1="769.2" x2="548.5" y2="769.2" stroke="#ebebeb" stroke-width="0.6"/>
<line x1="453.3" y1="702.3" x2="548.5" y2="702.3" stroke="#ebebeb" stroke-width="1.1"/>
<line x1="453.3" y1="721.4" x2="548.5" y2="721.4" stroke="#ebebeb" stroke-width="1.1"/>
<line x1="453.3" y1="740.5" x2="548.5" y2="740.5" stroke="#ebebeb" stroke-width="1.1"/>
<line x1="453.3" y1="759.6" x2="548.5" y2="759.6" stroke="#ebebeb" stroke-width="1.1"/>
<line x1="479.6" y1="683.8" x2="479.6" y2="776.3" stroke="#ebebeb" stroke-width="1.1"/>
<line x1="522.7" y1="683.8" x2="522.7" y2="776.3" stroke="#ebebeb" stroke-width="1.1"/>
<line x1="451.1" y1="702.3" x2="453.3" y2="702.3" stroke="#333333" stroke-width="0.9"/>
<text x="450.1" y="705.1" font-size="7.8" text-anchor="end" fill="#4d4d4d">2.8</text>
<line x1="451.1" y1="721.4" x2="453.3" y2="721.4" stroke="#333333" stroke-width="0.9"/>
<text x="450.1" y="724.2" font-size="7.8" text-anchor="end" fill="#4d4d4d">2.4</text>
<line x1="451.1" y1="740.5" x2="453.3" y2="740.5" stroke="#333333" stroke-width="0.9"/>
<text x="450.1" y="743.3" font-size="7.8" text-anchor="end" fill="#4d4d4d">2.0</text>
<line x1="451.1" y1="759.6" x2="453.3" y2="759.6" stroke="#333333" stroke-width="0.9"/>
<text x="450.1" y="762.4" font-size="7.8" text-anchor="end" fill="#4d4d4d">1.6</text>
<clipPath id="c8"><rect x="453.3" y="683.8" width="95.2" height="92.5"/></clipPath>
<g clip-path="url(#c8)">
<path d="M483.1,699.8 L482.6,701.0 L482.3,702.3 L482.1,703.5 L482.1,704.8 L482.3,706.0 L482.6,707.3 L482.9,708.5 L483.1,709.8 L483.2,711.0 L483.1,712.3 L482.7,713.5 L482.2,714.8 L481.7,716.0 L481.3,717.3 L481.0,718.5 L480.7,719.8 L480.4,721.0 L480.2,722.3 L480.1,723.5 L480.1,724.8 L480.1,726.0 L480.1,727.3 L480.1,728.5 L480.1,729.8 L480.1,731.0 L480.1,732.3 L480.1,733.5 L480.1,734.8 L480.1,736.0 L480.1,737.3 L480.1,738.5 L480.1,739.8 L480.1,741.0 L480.1,742.3 L480.4,743.5 L481.0,744.8 L481.6,746.0 L482.3,747.3 L483.2,748.5 L484.2,749.8 L485.2,751.0 L486.2,752.3 L487.3,753.5 L488.5,754.8 L489.7,756.0 L491.2,757.3 L492.9,758.5 L494.6,759.8 L496.1,761.0 L497.4,762.3 L498.6,763.5 L498.8,764.8 L497.6,766.0 L495.6,767.3 L493.6,768.5 L491.8,769.8 L489.8,771.0 L487.5,772.3 L484.6,773.5 L474.6,773.5 L471.7,772.3 L469.4,771.0 L467.4,769.8 L465.6,768.5 L463.6,767.3 L461.6,766.0 L460.4,764.8 L460.6,763.5 L461.8,762.3 L463.1,761.0 L464.6,759.8 L466.3,758.5 L468.0,757.3 L469.5,756.0 L470.7,754.8 L471.9,753.5 L473.0,752.3 L474.0,751.0 L475.0,749.8 L476.0,748.5 L476.9,747.3 L477.6,746.0 L478.2,744.8 L478.8,743.5 L479.1,742.3 L479.1,741.0 L479.1,739.8 L479.1,738.5 L479.1,737.3 L479.1,736.0 L479.1,734.8 L479.1,733.5 L479.1,732.3 L479.1,731.0 L479.1,729.8 L479.1,728.5 L479.1,727.3 L479.1,726.0 L479.1,724.8 L479.1,723.5 L479.0,722.3 L478.8,721.0 L478.5,719.8 L478.2,718.5 L477.9,717.3 L477.5,716.0 L477.0,714.8 L476.5,713.5 L476.1,712.3 L476.0,711.0 L476.1,709.8 L476.3,708.5 L476.6,707.3 L476.9,706.0 L477.1,704.8 L477.1,703.5 L476.9,702.3 L476.6,701.0 L476.1,699.8Z" fill="#eba394" fill-opacity="0.75"/>
<path d="M528.2,687.5 L528.3,688.6 L528.4,689.7 L528.4,690.9 L528.5,692.0 L528.6,693.1 L528.6,694.2 L528.6,695.3 L528.7,696.4 L528.7,697.6 L528.7,698.7 L528.7,699.8 L528.7,700.9 L528.7,702.0 L528.6,703.2 L528.6,704.3 L528.5,705.4 L528.4,706.5 L528.4,707.6 L528.3,708.8 L528.2,709.9 L528.1,711.0 L528.0,712.1 L527.9,713.2 L527.8,714.3 L527.7,715.5 L527.5,716.6 L527.4,717.7 L527.3,718.8 L527.1,719.9 L527.0,721.1 L526.8,722.2 L526.6,723.3 L526.5,724.4 L526.3,725.5 L526.1,726.7 L526.0,727.8 L525.8,728.9 L525.7,730.0 L525.6,731.1 L525.5,732.2 L525.3,733.4 L525.2,734.5 L525.1,735.6 L525.0,736.7 L524.9,737.8 L524.8,739.0 L524.7,740.1 L524.6,741.2 L524.5,742.3 L524.4,743.4 L524.2,744.6 L524.1,745.7 L524.0,746.8 L523.9,747.9 L523.7,749.0 L523.6,750.1 L523.5,751.3 L523.3,752.4 L523.2,753.5 L522.2,753.5 L522.1,752.4 L521.9,751.3 L521.8,750.1 L521.7,749.0 L521.5,747.9 L521.4,746.8 L521.3,745.7 L521.2,744.6 L521.0,743.4 L520.9,742.3 L520.8,741.2 L520.7,740.1 L520.6,739.0 L520.5,737.8 L520.4,736.7 L520.3,735.6 L520.2,734.5 L520.1,733.4 L519.9,732.2 L519.8,731.1 L519.7,730.0 L519.6,728.9 L519.4,727.8 L519.3,726.7 L519.1,725.5 L518.9,724.4 L518.8,723.3 L518.6,722.2 L518.4,721.1 L518.3,719.9 L518.1,718.8 L518.0,717.7 L517.9,716.6 L517.7,715.5 L517.6,714.3 L517.5,713.2 L517.4,712.1 L517.3,711.0 L517.2,709.9 L517.1,708.8 L517.0,707.6 L517.0,706.5 L516.9,705.4 L516.8,704.3 L516.8,703.2 L516.7,702.0 L516.7,700.9 L516.7,699.8 L516.7,698.7 L516.7,697.6 L516.7,696.4 L516.8,695.3 L516.8,694.2 L516.8,693.1 L516.9,692.0 L517.0,690.9 L517.0,689.7 L517.1,688.6 L517.2,687.5Z" fill="#d4d4d4" fill-opacity="0.8"/>
<g fill="#b3b3b3" fill-opacity="0.75"><circle cx="509.5" cy="699.8" r="1.5"/><circle cx="516.8" cy="703.7" r="1.5"/><circle cx="535.7" cy="688.3" r="1.5"/><circle cx="529.4" cy="753.5" r="1.5"/></g>
<g fill="#de5a45" fill-opacity="0.85"><circle cx="482.9" cy="699.5" r="1.5"/><circle cx="487.5" cy="712.0" r="1.5"/><circle cx="476.5" cy="752.2" r="1.5"/><circle cx="469.2" cy="755.5" r="1.5"/><circle cx="484.5" cy="756.2" r="1.5"/><circle cx="466.0" cy="763.0" r="1.5"/><circle cx="467.5" cy="763.3" r="1.5"/><circle cx="491.0" cy="761.0" r="1.5"/><circle cx="494.7" cy="763.4" r="1.5"/><circle cx="487.6" cy="765.6" r="1.5"/><circle cx="473.7" cy="768.8" r="1.5"/><circle cx="470.5" cy="771.7" r="1.5"/><circle cx="472.0" cy="770.5" r="1.5"/><circle cx="479.0" cy="760.0" r="1.5"/></g>
<line x1="479.6" y1="751.7" x2="479.6" y2="754.5" stroke="#333" stroke-width="1.3"/>
<line x1="479.6" y1="764.3" x2="479.6" y2="772.7" stroke="#333" stroke-width="1.3"/>
<rect x="476.1" y="754.5" width="7.0" height="9.8" fill="#e0705c" stroke="#333" stroke-width="1.6"/>
<line x1="476.1" y1="762.2" x2="483.1" y2="762.2" stroke="#333" stroke-width="2.2"/>
<line x1="522.7" y1="688.6" x2="522.7" y2="699.5" stroke="#333" stroke-width="1.3"/>
<line x1="522.7" y1="729.3" x2="522.7" y2="753.1" stroke="#333" stroke-width="1.3"/>
<rect x="519.2" y="699.5" width="7.0" height="29.8" fill="#bdbdbd" stroke="#333" stroke-width="1.6"/>
<line x1="519.2" y1="701.9" x2="526.2" y2="701.9" stroke="#333" stroke-width="2.2"/>
<line x1="479.6" y1="693.9" x2="522.7" y2="693.9" stroke="#333" stroke-width="1.0"/>
</g>
<text x="501.2" y="692.3" font-size="7.2" text-anchor="middle" fill="#333">0.0056</text>
<rect x="453.3" y="683.8" width="95.2" height="92.5" fill="none" stroke="#333333" stroke-width="1.2"/>
<rect x="568.5" y="668.4" width="95.0" height="15.4" fill="#d5d6d5" stroke="#333333" stroke-width="1.1"/>
<text x="616.0" y="679.6" font-size="9.7" font-weight="bold" text-anchor="middle" fill="#1a1a1a">LY9</text>
<rect x="568.5" y="683.8" width="95.0" height="92.5" fill="#fff"/>
<line x1="568.5" y1="695.2" x2="663.5" y2="695.2" stroke="#ebebeb" stroke-width="0.6"/>
<line x1="568.5" y1="725.4" x2="663.5" y2="725.4" stroke="#ebebeb" stroke-width="0.6"/>
<line x1="568.5" y1="755.5" x2="663.5" y2="755.5" stroke="#ebebeb" stroke-width="0.6"/>
<line x1="568.5" y1="710.3" x2="663.5" y2="710.3" stroke="#ebebeb" stroke-width="1.1"/>
<line x1="568.5" y1="740.5" x2="663.5" y2="740.5" stroke="#ebebeb" stroke-width="1.1"/>
<line x1="568.5" y1="770.6" x2="663.5" y2="770.6" stroke="#ebebeb" stroke-width="1.1"/>
<line x1="594.6" y1="683.8" x2="594.6" y2="776.3" stroke="#ebebeb" stroke-width="1.1"/>
<line x1="638.1" y1="683.8" x2="638.1" y2="776.3" stroke="#ebebeb" stroke-width="1.1"/>
<line x1="566.3" y1="710.3" x2="568.5" y2="710.3" stroke="#333333" stroke-width="0.9"/>
<text x="565.3" y="713.1" font-size="7.8" text-anchor="end" fill="#4d4d4d">1</text>
<line x1="566.3" y1="740.5" x2="568.5" y2="740.5" stroke="#333333" stroke-width="0.9"/>
<text x="565.3" y="743.3" font-size="7.8" text-anchor="end" fill="#4d4d4d">0</text>
<line x1="566.3" y1="770.6" x2="568.5" y2="770.6" stroke="#333333" stroke-width="0.9"/>
<text x="565.3" y="773.4" font-size="7.8" text-anchor="end" fill="#4d4d4d">&#8722;1</text>
<clipPath id="c9"><rect x="568.5" y="683.8" width="95.0" height="92.5"/></clipPath>
<g clip-path="url(#c9)">
<path d="M598.1,698.1 L598.1,699.4 L598.1,700.6 L598.1,701.9 L598.1,703.1 L598.1,704.4 L598.6,705.6 L599.5,706.9 L600.5,708.1 L601.8,709.4 L603.4,710.6 L605.1,711.9 L606.8,713.1 L608.3,714.4 L609.8,715.6 L611.3,716.9 L612.7,718.1 L613.7,719.4 L614.1,720.6 L613.7,721.9 L612.5,723.2 L611.0,724.4 L609.4,725.7 L608.1,726.9 L607.0,728.2 L605.8,729.4 L604.7,730.7 L603.7,731.9 L602.8,733.2 L602.1,734.4 L601.4,735.7 L600.7,736.9 L600.2,738.2 L599.6,739.4 L599.1,740.7 L598.6,741.9 L598.0,743.2 L597.4,744.4 L596.9,745.7 L596.3,746.9 L595.9,748.2 L595.7,749.5 L595.6,750.7 L595.6,752.0 L595.6,753.2 L595.6,754.5 L595.6,755.7 L595.6,757.0 L595.6,758.2 L595.6,759.5 L595.6,760.7 L595.6,762.0 L596.0,763.2 L596.5,764.5 L597.1,765.7 L597.6,767.0 L598.0,768.2 L598.3,769.5 L598.6,770.7 L598.1,772.0 L591.1,772.0 L590.6,770.7 L590.9,769.5 L591.2,768.2 L591.6,767.0 L592.1,765.7 L592.7,764.5 L593.2,763.2 L593.6,762.0 L593.6,760.7 L593.6,759.5 L593.6,758.2 L593.6,757.0 L593.6,755.7 L593.6,754.5 L593.6,753.2 L593.6,752.0 L593.6,750.7 L593.5,749.5 L593.3,748.2 L592.9,746.9 L592.3,745.7 L591.8,744.4 L591.2,743.2 L590.6,741.9 L590.1,740.7 L589.6,739.4 L589.0,738.2 L588.5,736.9 L587.8,735.7 L587.1,734.4 L586.4,733.2 L585.5,731.9 L584.5,730.7 L583.4,729.4 L582.2,728.2 L581.1,726.9 L579.8,725.7 L578.2,724.4 L576.7,723.2 L575.5,721.9 L575.1,720.6 L575.5,719.4 L576.5,718.1 L577.9,716.9 L579.4,715.6 L580.9,714.4 L582.4,713.1 L584.1,711.9 L585.8,710.6 L587.4,709.4 L588.7,708.1 L589.7,706.9 L590.6,705.6 L591.1,704.4 L591.1,703.1 L591.1,701.9 L591.1,700.6 L591.1,699.4 L591.1,698.1Z" fill="#eba394" fill-opacity="0.75"/>
<path d="M646.1,688.3 L646.2,689.0 L646.3,689.6 L646.4,690.3 L646.5,691.0 L646.6,691.6 L646.7,692.3 L646.8,693.0 L646.8,693.7 L646.9,694.3 L647.0,695.0 L647.0,695.7 L647.1,696.3 L647.1,697.0 L647.1,697.7 L647.2,698.3 L647.2,699.0 L647.2,699.7 L647.2,700.4 L647.2,701.0 L647.3,701.7 L647.3,702.4 L647.3,703.0 L647.3,703.7 L647.3,704.4 L647.3,705.0 L647.4,705.7 L647.4,706.4 L647.4,707.0 L647.4,707.7 L647.4,708.4 L647.4,709.1 L647.4,709.7 L647.4,710.4 L647.4,711.1 L647.4,711.7 L647.4,712.4 L647.4,713.1 L647.3,713.7 L647.3,714.4 L647.3,715.1 L647.3,715.7 L647.3,716.4 L647.2,717.1 L647.2,717.8 L647.2,718.4 L647.1,719.1 L647.1,719.8 L647.1,720.4 L647.0,721.1 L647.0,721.8 L646.9,722.4 L646.8,723.1 L646.7,723.8 L646.6,724.5 L646.5,725.1 L646.4,725.8 L646.3,726.5 L646.2,727.1 L646.1,727.8 L630.1,727.8 L630.0,727.1 L629.9,726.5 L629.8,725.8 L629.7,725.1 L629.6,724.5 L629.5,723.8 L629.4,723.1 L629.3,722.4 L629.2,721.8 L629.2,721.1 L629.1,720.4 L629.1,719.8 L629.1,719.1 L629.0,718.4 L629.0,717.8 L629.0,717.1 L628.9,716.4 L628.9,715.7 L628.9,715.1 L628.9,714.4 L628.9,713.7 L628.8,713.1 L628.8,712.4 L628.8,711.7 L628.8,711.1 L628.8,710.4 L628.8,709.7 L628.8,709.1 L628.8,708.4 L628.8,707.7 L628.8,707.0 L628.8,706.4 L628.8,705.7 L628.9,705.0 L628.9,704.4 L628.9,703.7 L628.9,703.0 L628.9,702.4 L628.9,701.7 L629.0,701.0 L629.0,700.4 L629.0,699.7 L629.0,699.0 L629.0,698.3 L629.1,697.7 L629.1,697.0 L629.1,696.3 L629.2,695.7 L629.2,695.0 L629.3,694.3 L629.4,693.7 L629.4,693.0 L629.5,692.3 L629.6,691.6 L629.7,691.0 L629.8,690.3 L629.9,689.6 L630.0,689.0 L630.1,688.3Z" fill="#d4d4d4" fill-opacity="0.8"/>
<g fill="#b3b3b3" fill-opacity="0.75"><circle cx="631.3" cy="688.3" r="1.5"/><circle cx="651.4" cy="691.4" r="1.5"/><circle cx="624.8" cy="712.0" r="1.5"/><circle cx="644.4" cy="727.6" r="1.5"/></g>
<g fill="#de5a45" fill-opacity="0.85"><circle cx="597.9" cy="698.1" r="1.5"/><circle cx="591.1" cy="711.5" r="1.5"/><circle cx="600.5" cy="716.6" r="1.5"/><circle cx="579.2" cy="722.5" r="1.5"/><circle cx="588.7" cy="723.6" r="1.5"/><circle cx="603.0" cy="723.3" r="1.5"/><circle cx="605.2" cy="721.2" r="1.5"/><circle cx="609.8" cy="724.0" r="1.5"/><circle cx="586.2" cy="729.7" r="1.5"/><circle cx="607.2" cy="734.6" r="1.5"/><circle cx="581.7" cy="740.5" r="1.5"/><circle cx="584.1" cy="772.3" r="1.5"/><circle cx="592.0" cy="722.0" r="1.5"/><circle cx="596.0" cy="719.0" r="1.5"/></g>
<line x1="594.6" y1="711.7" x2="594.6" y2="716.2" stroke="#333" stroke-width="1.3"/>
<line x1="594.6" y1="728.3" x2="594.6" y2="740.5" stroke="#333" stroke-width="1.3"/>
<rect x="591.1" y="716.2" width="7.0" height="12.1" fill="#e0705c" stroke="#333" stroke-width="1.6"/>
<line x1="591.1" y1="722.7" x2="598.1" y2="722.7" stroke="#333" stroke-width="2.2"/>
<line x1="638.1" y1="688.3" x2="638.1" y2="691.4" stroke="#333" stroke-width="1.3"/>
<line x1="638.1" y1="714.5" x2="638.1" y2="727.8" stroke="#333" stroke-width="1.3"/>
<rect x="634.6" y="691.4" width="7.0" height="23.1" fill="#bdbdbd" stroke="#333" stroke-width="1.6"/>
<line x1="634.6" y1="712.7" x2="641.6" y2="712.7" stroke="#333" stroke-width="2.2"/>
<line x1="594.6" y1="693.9" x2="638.1" y2="693.9" stroke="#333" stroke-width="1.0"/>
</g>
<text x="616.4" y="692.3" font-size="7.2" text-anchor="middle" fill="#333">0.044</text>
<rect x="568.5" y="683.8" width="95.0" height="92.5" fill="none" stroke="#333333" stroke-width="1.2"/>
<rect x="453.3" y="784.2" width="95.2" height="15.3" fill="#d5d6d5" stroke="#333333" stroke-width="1.1"/>
<text x="500.9" y="795.3" font-size="9.7" font-weight="bold" text-anchor="middle" fill="#1a1a1a">CD6</text>
<rect x="453.3" y="799.5" width="95.2" height="92.0" fill="#fff"/>
<line x1="453.3" y1="827.5" x2="548.5" y2="827.5" stroke="#ebebeb" stroke-width="0.6"/>
<line x1="453.3" y1="851.0" x2="548.5" y2="851.0" stroke="#ebebeb" stroke-width="0.6"/>
<line x1="453.3" y1="874.6" x2="548.5" y2="874.6" stroke="#ebebeb" stroke-width="0.6"/>
<line x1="453.3" y1="815.7" x2="548.5" y2="815.7" stroke="#ebebeb" stroke-width="1.1"/>
<line x1="453.3" y1="839.3" x2="548.5" y2="839.3" stroke="#ebebeb" stroke-width="1.1"/>
<line x1="453.3" y1="862.8" x2="548.5" y2="862.8" stroke="#ebebeb" stroke-width="1.1"/>
<line x1="453.3" y1="886.4" x2="548.5" y2="886.4" stroke="#ebebeb" stroke-width="1.1"/>
<line x1="479.6" y1="799.5" x2="479.6" y2="891.5" stroke="#ebebeb" stroke-width="1.1"/>
<line x1="522.7" y1="799.5" x2="522.7" y2="891.5" stroke="#ebebeb" stroke-width="1.1"/>
<line x1="451.1" y1="815.7" x2="453.3" y2="815.7" stroke="#333333" stroke-width="0.9"/>
<text x="450.1" y="818.5" font-size="7.8" text-anchor="end" fill="#4d4d4d">1.5</text>
<line x1="451.1" y1="839.3" x2="453.3" y2="839.3" stroke="#333333" stroke-width="0.9"/>
<text x="450.1" y="842.1" font-size="7.8" text-anchor="end" fill="#4d4d4d">1.0</text>
<line x1="451.1" y1="862.8" x2="453.3" y2="862.8" stroke="#333333" stroke-width="0.9"/>
<text x="450.1" y="865.6" font-size="7.8" text-anchor="end" fill="#4d4d4d">0.5</text>
<line x1="451.1" y1="886.4" x2="453.3" y2="886.4" stroke="#333333" stroke-width="0.9"/>
<text x="450.1" y="889.2" font-size="7.8" text-anchor="end" fill="#4d4d4d">0.0</text>
<clipPath id="c10"><rect x="453.3" y="799.5" width="95.2" height="92.0"/></clipPath>
<g clip-path="url(#c10)">
<path d="M491.6,839.6 L492.6,840.4 L493.4,841.2 L493.9,842.0 L494.3,842.9 L494.7,843.7 L495.0,844.5 L495.3,845.3 L495.5,846.1 L495.8,846.9 L496.0,847.7 L496.3,848.5 L496.5,849.4 L496.8,850.2 L497.0,851.0 L497.2,851.8 L497.5,852.6 L497.7,853.4 L497.9,854.2 L498.1,855.1 L498.2,855.9 L498.4,856.7 L498.5,857.5 L498.7,858.3 L498.8,859.1 L498.9,859.9 L499.0,860.8 L499.1,861.6 L499.1,862.4 L499.0,863.2 L498.9,864.0 L498.7,864.8 L498.5,865.6 L498.3,866.4 L498.1,867.3 L497.9,868.1 L497.6,868.9 L497.4,869.7 L497.1,870.5 L496.9,871.3 L496.6,872.1 L496.2,873.0 L495.9,873.8 L495.6,874.6 L495.3,875.4 L495.0,876.2 L494.7,877.0 L494.5,877.8 L494.3,878.7 L494.1,879.5 L494.0,880.3 L493.8,881.1 L493.7,881.9 L493.5,882.7 L493.3,883.5 L493.1,884.3 L492.9,885.2 L492.6,886.0 L492.1,886.8 L491.6,887.6 L467.6,887.6 L467.1,886.8 L466.6,886.0 L466.3,885.2 L466.1,884.3 L465.9,883.5 L465.7,882.7 L465.5,881.9 L465.4,881.1 L465.2,880.3 L465.1,879.5 L464.9,878.7 L464.7,877.8 L464.5,877.0 L464.2,876.2 L463.9,875.4 L463.6,874.6 L463.3,873.8 L463.0,873.0 L462.6,872.1 L462.3,871.3 L462.1,870.5 L461.8,869.7 L461.6,868.9 L461.3,868.1 L461.1,867.3 L460.9,866.4 L460.7,865.6 L460.5,864.8 L460.3,864.0 L460.2,863.2 L460.1,862.4 L460.1,861.6 L460.2,860.8 L460.3,859.9 L460.4,859.1 L460.5,858.3 L460.7,857.5 L460.8,856.7 L461.0,855.9 L461.1,855.1 L461.3,854.2 L461.5,853.4 L461.7,852.6 L462.0,851.8 L462.2,851.0 L462.4,850.2 L462.7,849.4 L462.9,848.5 L463.2,847.7 L463.4,846.9 L463.7,846.1 L463.9,845.3 L464.2,844.5 L464.5,843.7 L464.9,842.9 L465.3,842.0 L465.8,841.2 L466.6,840.4 L467.6,839.6Z" fill="#eba394" fill-opacity="0.75"/>
<path d="M533.7,803.2 L533.7,804.1 L533.7,805.0 L533.7,805.9 L533.7,806.8 L533.7,807.7 L533.7,808.5 L533.7,809.4 L533.7,810.3 L533.7,811.2 L533.7,812.1 L533.7,813.0 L533.7,813.9 L533.7,814.8 L533.7,815.7 L533.7,816.6 L533.7,817.5 L533.7,818.4 L533.8,819.2 L533.8,820.1 L533.9,821.0 L533.9,821.9 L534.0,822.8 L534.0,823.7 L534.1,824.6 L534.1,825.5 L534.2,826.4 L534.2,827.3 L534.3,828.2 L534.3,829.1 L534.4,829.9 L534.4,830.8 L534.5,831.7 L534.6,832.6 L534.7,833.5 L534.7,834.4 L534.9,835.3 L535.0,836.2 L535.2,837.1 L535.4,838.0 L535.6,838.9 L535.9,839.8 L536.1,840.6 L536.3,841.5 L536.4,842.4 L536.6,843.3 L536.7,844.2 L536.7,845.1 L536.7,846.0 L536.6,846.9 L536.5,847.8 L536.4,848.7 L536.2,849.6 L536.1,850.5 L535.9,851.3 L535.7,852.2 L535.5,853.1 L535.3,854.0 L535.0,854.9 L534.7,855.8 L510.7,855.8 L510.4,854.9 L510.1,854.0 L509.9,853.1 L509.7,852.2 L509.5,851.3 L509.3,850.5 L509.2,849.6 L509.0,848.7 L508.9,847.8 L508.8,846.9 L508.7,846.0 L508.7,845.1 L508.7,844.2 L508.8,843.3 L509.0,842.4 L509.1,841.5 L509.3,840.6 L509.5,839.8 L509.8,838.9 L510.0,838.0 L510.2,837.1 L510.4,836.2 L510.5,835.3 L510.7,834.4 L510.7,833.5 L510.8,832.6 L510.9,831.7 L511.0,830.8 L511.0,829.9 L511.1,829.1 L511.1,828.2 L511.2,827.3 L511.2,826.4 L511.3,825.5 L511.3,824.6 L511.4,823.7 L511.4,822.8 L511.5,821.9 L511.5,821.0 L511.6,820.1 L511.6,819.2 L511.7,818.4 L511.7,817.5 L511.7,816.6 L511.7,815.7 L511.7,814.8 L511.7,813.9 L511.7,813.0 L511.7,812.1 L511.7,811.2 L511.7,810.3 L511.7,809.4 L511.7,808.5 L511.7,807.7 L511.7,806.8 L511.7,805.9 L511.7,805.0 L511.7,804.1 L511.7,803.2Z" fill="#d4d4d4" fill-opacity="0.8"/>
<g fill="#b3b3b3" fill-opacity="0.75"><circle cx="536.0" cy="803.2" r="1.5"/><circle cx="529.4" cy="838.7" r="1.5"/><circle cx="516.3" cy="848.8" r="1.5"/><circle cx="522.7" cy="855.0" r="1.5"/></g>
<g fill="#de5a45" fill-opacity="0.85"><circle cx="473.7" cy="840.3" r="1.5"/><circle cx="480.6" cy="841.3" r="1.5"/><circle cx="489.7" cy="840.3" r="1.5"/><circle cx="483.1" cy="850.9" r="1.5"/><circle cx="494.3" cy="852.7" r="1.5"/><circle cx="469.1" cy="860.2" r="1.5"/><circle cx="471.2" cy="860.2" r="1.5"/><circle cx="487.6" cy="861.4" r="1.5"/><circle cx="485.5" cy="867.4" r="1.5"/><circle cx="475.4" cy="869.8" r="1.5"/><circle cx="478.2" cy="878.2" r="1.5"/><circle cx="466.6" cy="879.2" r="1.5"/><circle cx="492.2" cy="884.5" r="1.5"/><circle cx="464.2" cy="887.6" r="1.5"/></g>
<line x1="479.6" y1="840.3" x2="479.6" y2="851.6" stroke="#333" stroke-width="1.3"/>
<line x1="479.6" y1="876.4" x2="479.6" y2="887.6" stroke="#333" stroke-width="1.3"/>
<rect x="476.1" y="851.6" width="7.0" height="24.8" fill="#e0705c" stroke="#333" stroke-width="1.6"/>
<line x1="476.1" y1="860.7" x2="483.1" y2="860.7" stroke="#333" stroke-width="2.2"/>
<line x1="522.7" y1="803.2" x2="522.7" y2="807.4" stroke="#333" stroke-width="1.3"/>
<line x1="522.7" y1="848.8" x2="522.7" y2="855.8" stroke="#333" stroke-width="1.3"/>
<rect x="519.2" y="807.4" width="7.0" height="41.4" fill="#bdbdbd" stroke="#333" stroke-width="1.6"/>
<line x1="519.2" y1="838.7" x2="526.2" y2="838.7" stroke="#333" stroke-width="2.2"/>
<line x1="479.6" y1="808.5" x2="522.7" y2="808.5" stroke="#333" stroke-width="1.0"/>
</g>
<text x="501.2" y="806.9" font-size="7.2" text-anchor="middle" fill="#333">0.0059</text>
<rect x="453.3" y="799.5" width="95.2" height="92.0" fill="none" stroke="#333333" stroke-width="1.2"/>
<rect x="568.5" y="784.2" width="95.0" height="15.3" fill="#d5d6d5" stroke="#333333" stroke-width="1.1"/>
<text x="616.0" y="795.3" font-size="9.7" font-weight="bold" text-anchor="middle" fill="#1a1a1a">VAT1</text>
<rect x="568.5" y="799.5" width="95.0" height="92.0" fill="#fff"/>
<line x1="568.5" y1="808.1" x2="663.5" y2="808.1" stroke="#ebebeb" stroke-width="0.6"/>
<line x1="568.5" y1="836.6" x2="663.5" y2="836.6" stroke="#ebebeb" stroke-width="0.6"/>
<line x1="568.5" y1="865.1" x2="663.5" y2="865.1" stroke="#ebebeb" stroke-width="0.6"/>
<line x1="568.5" y1="822.4" x2="663.5" y2="822.4" stroke="#ebebeb" stroke-width="1.1"/>
<line x1="568.5" y1="850.9" x2="663.5" y2="850.9" stroke="#ebebeb" stroke-width="1.1"/>
<line x1="568.5" y1="879.4" x2="663.5" y2="879.4" stroke="#ebebeb" stroke-width="1.1"/>
<line x1="594.6" y1="799.5" x2="594.6" y2="891.5" stroke="#ebebeb" stroke-width="1.1"/>
<line x1="638.1" y1="799.5" x2="638.1" y2="891.5" stroke="#ebebeb" stroke-width="1.1"/>
<line x1="566.3" y1="822.4" x2="568.5" y2="822.4" stroke="#333333" stroke-width="0.9"/>
<text x="565.3" y="825.2" font-size="7.8" text-anchor="end" fill="#4d4d4d">1.0</text>
<line x1="566.3" y1="850.9" x2="568.5" y2="850.9" stroke="#333333" stroke-width="0.9"/>
<text x="565.3" y="853.7" font-size="7.8" text-anchor="end" fill="#4d4d4d">0.5</text>
<line x1="566.3" y1="879.4" x2="568.5" y2="879.4" stroke="#333333" stroke-width="0.9"/>
<text x="565.3" y="882.2" font-size="7.8" text-anchor="end" fill="#4d4d4d">0.0</text>
<clipPath id="c11"><rect x="568.5" y="799.5" width="95.0" height="92.0"/></clipPath>
<g clip-path="url(#c11)">
<path d="M597.6,803.2 L597.4,804.5 L597.3,805.8 L597.0,807.1 L596.7,808.4 L596.3,809.7 L595.9,811.0 L595.6,812.3 L595.6,813.6 L595.7,814.9 L595.8,816.1 L595.9,817.4 L596.1,818.7 L596.3,820.0 L596.6,821.3 L596.9,822.6 L597.4,823.9 L598.0,825.2 L598.7,826.5 L599.5,827.8 L600.2,829.1 L600.9,830.4 L601.7,831.7 L602.5,833.0 L603.3,834.3 L604.1,835.6 L605.0,836.9 L605.8,838.2 L606.5,839.5 L607.2,840.8 L608.0,842.0 L608.7,843.3 L609.3,844.6 L610.0,845.9 L610.6,847.2 L611.2,848.5 L611.7,849.8 L612.3,851.1 L612.8,852.4 L613.4,853.7 L613.8,855.0 L614.0,856.3 L614.1,857.6 L613.8,858.9 L613.4,860.2 L612.7,861.5 L611.9,862.8 L611.1,864.1 L610.3,865.4 L609.4,866.7 L608.3,867.9 L607.1,869.2 L605.8,870.5 L604.7,871.8 L603.5,873.1 L602.2,874.4 L601.0,875.7 L599.9,877.0 L599.2,878.3 L598.6,879.6 L590.6,879.6 L590.0,878.3 L589.3,877.0 L588.2,875.7 L587.0,874.4 L585.7,873.1 L584.5,871.8 L583.4,870.5 L582.1,869.2 L580.9,867.9 L579.8,866.7 L578.9,865.4 L578.1,864.1 L577.3,862.8 L576.5,861.5 L575.8,860.2 L575.4,858.9 L575.1,857.6 L575.2,856.3 L575.4,855.0 L575.8,853.7 L576.4,852.4 L576.9,851.1 L577.5,849.8 L578.0,848.5 L578.6,847.2 L579.2,845.9 L579.9,844.6 L580.5,843.3 L581.2,842.0 L582.0,840.8 L582.7,839.5 L583.4,838.2 L584.2,836.9 L585.1,835.6 L585.9,834.3 L586.7,833.0 L587.5,831.7 L588.3,830.4 L589.0,829.1 L589.7,827.8 L590.5,826.5 L591.2,825.2 L591.8,823.9 L592.3,822.6 L592.6,821.3 L592.9,820.0 L593.1,818.7 L593.3,817.4 L593.4,816.1 L593.5,814.9 L593.6,813.6 L593.6,812.3 L593.3,811.0 L592.9,809.7 L592.5,808.4 L592.2,807.1 L591.9,805.8 L591.8,804.5 L591.6,803.2Z" fill="#eba394" fill-opacity="0.75"/>
<path d="M652.1,856.2 L652.1,856.7 L652.1,857.3 L652.1,857.8 L652.1,858.4 L652.1,858.9 L652.1,859.4 L652.1,860.0 L652.1,860.5 L652.1,861.1 L652.1,861.6 L652.1,862.1 L652.1,862.7 L652.1,863.2 L652.1,863.7 L652.1,864.3 L652.2,864.8 L652.2,865.4 L652.2,865.9 L652.2,866.4 L652.3,867.0 L652.3,867.5 L652.4,868.1 L652.4,868.6 L652.5,869.1 L652.5,869.7 L652.6,870.2 L652.6,870.8 L652.8,871.3 L653.0,871.8 L653.2,872.4 L653.5,872.9 L653.9,873.4 L654.2,874.0 L654.5,874.5 L654.8,875.1 L655.1,875.6 L655.3,876.1 L655.5,876.7 L655.6,877.2 L655.6,877.8 L655.5,878.3 L655.4,878.8 L655.2,879.4 L655.0,879.9 L654.7,880.5 L654.4,881.0 L654.1,881.5 L653.8,882.1 L653.4,882.6 L653.1,883.1 L652.7,883.7 L652.3,884.2 L651.8,884.8 L651.2,885.3 L650.6,885.8 L649.9,886.4 L649.2,886.9 L648.3,887.5 L647.1,888.0 L629.1,888.0 L627.9,887.5 L627.0,886.9 L626.3,886.4 L625.6,885.8 L625.0,885.3 L624.4,884.8 L623.9,884.2 L623.5,883.7 L623.1,883.1 L622.8,882.6 L622.4,882.1 L622.1,881.5 L621.8,881.0 L621.5,880.5 L621.2,879.9 L621.0,879.4 L620.8,878.8 L620.7,878.3 L620.6,877.8 L620.6,877.2 L620.7,876.7 L620.9,876.1 L621.1,875.6 L621.4,875.1 L621.7,874.5 L622.0,874.0 L622.3,873.4 L622.7,872.9 L623.0,872.4 L623.2,871.8 L623.4,871.3 L623.6,870.8 L623.6,870.2 L623.7,869.7 L623.7,869.1 L623.8,868.6 L623.8,868.1 L623.9,867.5 L623.9,867.0 L624.0,866.4 L624.0,865.9 L624.0,865.4 L624.0,864.8 L624.1,864.3 L624.1,863.7 L624.1,863.2 L624.1,862.7 L624.1,862.1 L624.1,861.6 L624.1,861.1 L624.1,860.5 L624.1,860.0 L624.1,859.4 L624.1,858.9 L624.1,858.4 L624.1,857.8 L624.1,857.3 L624.1,856.7 L624.1,856.2Z" fill="#d4d4d4" fill-opacity="0.8"/>
<g fill="#b3b3b3" fill-opacity="0.75"><circle cx="631.3" cy="859.0" r="1.5"/><circle cx="644.4" cy="877.8" r="1.5"/><circle cx="624.8" cy="879.6" r="1.5"/><circle cx="651.4" cy="887.6" r="1.5"/></g>
<g fill="#de5a45" fill-opacity="0.85"><circle cx="588.7" cy="803.2" r="1.5"/><circle cx="584.1" cy="830.1" r="1.5"/><circle cx="599.8" cy="843.6" r="1.5"/><circle cx="601.7" cy="842.7" r="1.5"/><circle cx="609.6" cy="842.7" r="1.5"/><circle cx="586.2" cy="853.2" r="1.5"/><circle cx="598.1" cy="856.7" r="1.5"/><circle cx="590.8" cy="858.6" r="1.5"/><circle cx="605.1" cy="859.3" r="1.5"/><circle cx="579.5" cy="867.0" r="1.5"/><circle cx="607.2" cy="872.2" r="1.5"/><circle cx="581.6" cy="879.3" r="1.5"/><circle cx="596.0" cy="857.5" r="1.5"/></g>
<line x1="594.6" y1="830.5" x2="594.6" y2="842.7" stroke="#333" stroke-width="1.3"/>
<line x1="594.6" y1="861.6" x2="594.6" y2="879.6" stroke="#333" stroke-width="1.3"/>
<rect x="591.1" y="842.7" width="7.0" height="18.9" fill="#e0705c" stroke="#333" stroke-width="1.6"/>
<line x1="591.1" y1="858.6" x2="598.1" y2="858.6" stroke="#333" stroke-width="2.2"/>
<line x1="638.1" y1="856.2" x2="638.1" y2="858.6" stroke="#333" stroke-width="1.3"/>
<line x1="638.1" y1="880.0" x2="638.1" y2="887.6" stroke="#333" stroke-width="1.3"/>
<rect x="634.6" y="858.6" width="7.0" height="21.4" fill="#bdbdbd" stroke="#333" stroke-width="1.6"/>
<line x1="634.6" y1="878.9" x2="641.6" y2="878.9" stroke="#333" stroke-width="2.2"/>
<line x1="594.6" y1="808.5" x2="638.1" y2="808.5" stroke="#333" stroke-width="1.0"/>
</g>
<text x="616.4" y="806.9" font-size="7.2" text-anchor="middle" fill="#333">0.042</text>
<rect x="568.5" y="799.5" width="95.0" height="92.0" fill="none" stroke="#333333" stroke-width="1.2"/>
<text x="433.9" y="783.5" font-size="12.2" fill="#222" text-anchor="middle" transform="rotate(-90 433.9 783.5)">Log&#8322; NPX</text>
<rect x="454.0" y="909.1" width="20.9" height="21.1" fill="#e9907f"/>
<circle cx="464.4" cy="919.6" r="1.1" fill="none" stroke="#555" stroke-width="0.6"/>
<text x="480.0" y="924.1" font-size="12.5" fill="#222">ART-naive EC (n=14)</text>
<rect x="454.0" y="930.2" width="20.9" height="21.1" fill="#cfcfcf"/>
<circle cx="464.4" cy="940.8" r="1.1" fill="none" stroke="#555" stroke-width="0.6"/>
<text x="480.0" y="945.2" font-size="12.5" fill="#222">ART-naive VC (n=5)</text>
</svg></body></html>
